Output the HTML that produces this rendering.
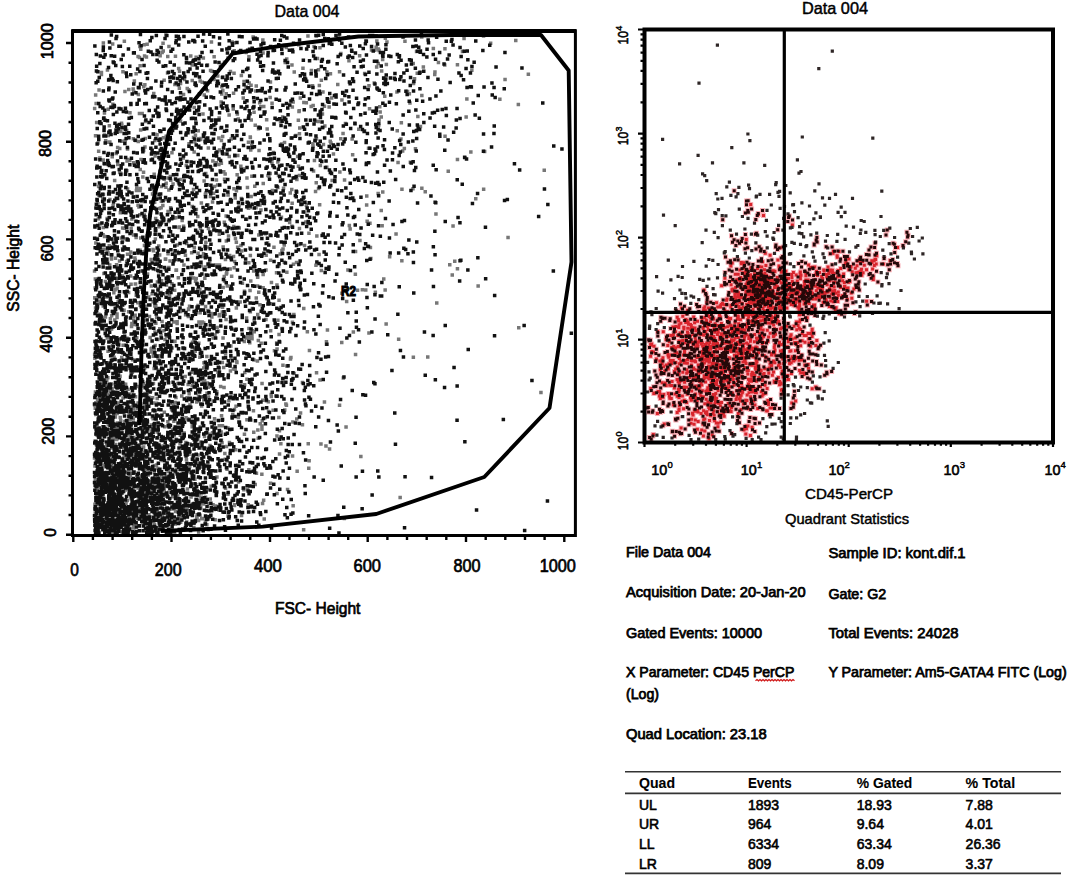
<!DOCTYPE html>
<html><head><meta charset="utf-8"><title>Flow cytometry</title>
<style>html,body{margin:0;padding:0;background:#fff;}body{width:1080px;height:878px;overflow:hidden;font-family:"Liberation Sans", sans-serif;}svg{display:block;}text{stroke:#000;stroke-width:0.45px;}text[font-weight=bold]{stroke-width:0.1px;}text.sb{stroke-width:0.75px;}text.sb2{stroke-width:0.6px;}text.tl{stroke-width:0.7px;}text.tl2{stroke-width:0.6px;}</style>
</head><body>
<svg width="1080" height="878" viewBox="0 0 1080 878" font-family='"Liberation Sans", sans-serif' fill="#000">
<rect width="1080" height="878" fill="#fff"/>
<path d="M411.6 357.2h3.5M211.7 401.1h3.5M207.9 262h3.5M97.1 457.1h3.5M93.5 479.4h3.5M110.2 482.8h3.5M124.6 423.9h3.5M276.1 162.1h3.5M173.2 253.3h3.5M214.1 505.9h3.5M298 128h3.5M97 525.5h3.5M215 391.8h3.5M296.7 166.3h3.5M217.8 149.9h3.5M148.2 481.7h3.5M132.1 409.1h3.5M132.2 494.8h3.5M126 526.2h3.5M147.7 316.4h3.5M191.5 421.7h3.5M108 506.9h3.5M194.4 57.3h3.5M268.4 173.6h3.5M194.3 458.9h3.5M119 131.4h3.5M256.5 438.3h3.5M198.7 228.6h3.5M254.5 86.1h3.5M242.3 81.6h3.5M114.5 153.4h3.5M95.7 408h3.5M166.1 421.8h3.5M173.9 217.7h3.5M134.7 190.5h3.5M249.5 119.9h3.5M117.5 449.9h3.5M127.1 448.8h3.5M481.9 189.2h3.5M125.1 170.8h3.5M222.8 280.9h3.5M96.2 203.7h3.5M163.4 486.1h3.5M163.8 269.3h3.5M183.1 511.5h3.5M234.6 242.3h3.5M369.8 50.1h3.5M196.5 130.8h3.5M268.5 303.7h3.5M145.8 470.3h3.5M108.5 532.4h3.5M164.5 463.9h3.5M320.4 127.6h3.5M124.8 523.7h3.5M164.2 486.5h3.5M245.2 379.3h3.5M141.7 502.5h3.5M245.2 178.1h3.5M268.4 97.5h3.5M183.1 501.7h3.5M174.2 397.4h3.5M108.9 397.7h3.5M151.3 249.5h3.5M157.5 495.8h3.5M232.2 188.8h3.5M353.8 354.6h3.5M325 167.2h3.5M117.5 298.6h3.5M173.2 341.6h3.5M121.6 518.1h3.5M135.4 463.1h3.5M130.4 269.4h3.5M192.5 107.4h3.5M110.2 448.1h3.5M297.7 228.6h3.5M277.3 334.4h3.5M329.2 142.9h3.5M376.4 193.4h3.5M297.1 244.6h3.5M138.1 214.7h3.5M157.6 496.1h3.5M279.1 443.7h3.5M204.8 295.8h3.5M205.2 364.1h3.5M272.2 247.2h3.5M107.6 433.3h3.5M104.8 408.4h3.5M189.9 252.7h3.5M201.5 382.2h3.5M292.5 71.9h3.5M113.7 258.2h3.5M189.3 496.9h3.5M506.3 237.5h3.5M268.8 483.3h3.5M133.1 440.8h3.5M108.1 142.1h3.5M250.8 463h3.5M182.2 265.1h3.5M232.7 505.4h3.5M190.2 62.8h3.5M199.6 202.9h3.5M213.1 124.7h3.5M168.8 403.4h3.5M157.1 226.7h3.5M174.8 469.4h3.5M159.6 201.3h3.5M287.9 222.4h3.5M190 506.4h3.5M201.6 58h3.5M107.6 530.4h3.5M178.9 520h3.5M93.9 95h3.5M97.9 475.4h3.5M204.1 242.2h3.5M158.4 55.7h3.5M288.5 193.1h3.5M216.2 372.3h3.5M150.9 483.9h3.5M121.8 383.8h3.5M155.1 198h3.5M93.5 513.1h3.5M114.4 513.3h3.5M295.9 156.6h3.5M202.2 362.8h3.5M99.3 394.2h3.5M120 357.4h3.5M108.7 522.1h3.5M229.4 138.9h3.5M290.2 226.2h3.5M128 416h3.5M138.2 190.5h3.5M213.4 519.7h3.5M223.1 453.4h3.5M225.6 226.6h3.5M191.4 459.8h3.5M253.5 125.3h3.5M231 414.7h3.5M122.5 530.9h3.5M229.1 346h3.5M188.6 472.5h3.5M482.9 151.5h3.5M109.7 259.1h3.5M247.4 83h3.5M395.5 130.8h3.5M124.9 472.7h3.5M143.2 432.1h3.5M205.1 356.5h3.5M133.5 260.1h3.5M219.8 415.7h3.5M104.3 397.5h3.5M126.5 260.4h3.5M212.1 434.2h3.5M175.4 244.9h3.5M135.4 507.8h3.5M169.9 409.7h3.5M242.7 291.3h3.5M368.2 223.2h3.5M166 291.6h3.5M94.4 103.5h3.5M133.8 284.1h3.5M139.8 333.2h3.5M270.3 159.3h3.5M115.1 404.7h3.5M227.1 400.8h3.5M160.4 490.6h3.5M184.9 243.5h3.5M234.7 190.7h3.5M114.5 497.4h3.5M217.8 264.9h3.5M232.7 409.5h3.5M132.6 81.1h3.5M108.9 282.7h3.5M93.8 135.7h3.5M115.4 413.5h3.5M398.4 497.5h3.5M94.5 444.4h3.5M141.3 520.7h3.5M97.3 301.2h3.5M128.5 435.7h3.5M130.7 449.7h3.5M329.9 98.1h3.5M102.3 521.9h3.5M206.7 228.5h3.5M133.8 396.7h3.5M179.3 515.2h3.5M166.3 178.1h3.5M208.4 82.2h3.5M258.5 423.7h3.5M192.2 340.4h3.5M111.9 511h3.5M100.1 494.3h3.5M223.7 259.5h3.5M125.8 189.1h3.5M137.8 444.9h3.5M399.2 138.9h3.5M162 500.8h3.5M119.8 123.3h3.5M217.6 314.4h3.5M344.9 301.4h3.5M161.5 306.4h3.5M105.6 218.5h3.5M309.4 106.6h3.5M118.5 417.4h3.5M170.2 152.8h3.5M103.1 329.6h3.5M232.4 267.8h3.5M203.8 306.5h3.5M122.2 487.9h3.5M264.4 255.3h3.5M165.9 518.5h3.5M190.5 206.6h3.5M125.3 338.3h3.5M357.9 55.8h3.5M232.4 42.8h3.5M242.1 169h3.5M172.1 421.2h3.5M117.4 385.7h3.5M329 172.1h3.5M131.6 526.6h3.5M182.4 432.9h3.5M219.7 440.2h3.5M247.2 56.7h3.5M307 468.2h3.5M101 199h3.5M141.6 436.6h3.5M194.1 484.7h3.5M201.2 114h3.5M138.5 305.3h3.5M194.9 402h3.5M302.8 245.6h3.5M195.3 232.1h3.5M122.7 438.6h3.5M181.8 226.2h3.5M92.8 457.9h3.5M201.4 518.6h3.5M169 180.3h3.5M247.2 328.4h3.5M158.7 469.2h3.5M119.9 503.4h3.5M212.4 79.6h3.5M105.1 385.2h3.5M240.5 413.3h3.5M101.4 299.7h3.5M143 251.6h3.5M96.9 394.5h3.5M259.4 343.2h3.5M172.9 290.3h3.5M137.2 207.1h3.5M196.3 253.2h3.5M185.7 489.1h3.5M102 484.5h3.5M242.1 489.8h3.5M313 141.3h3.5M129.4 498.8h3.5M97.2 347.8h3.5M187.3 454.3h3.5M157.1 271.7h3.5M102.1 410.6h3.5M384.6 64.4h3.5M129.7 394.9h3.5M350.4 139h3.5M120.1 443.7h3.5M95.3 489h3.5M199.3 379.5h3.5M110.6 532.5h3.5M226.2 58h3.5M248 342.8h3.5M268.9 330.7h3.5M160.5 237.1h3.5M125.8 148.9h3.5M159.7 439h3.5M191.6 523.3h3.5M227.9 255.5h3.5M136.8 499.3h3.5M164.6 170.5h3.5M107.4 163.7h3.5M254.5 297.9h3.5M135 187.9h3.5M110.8 526.8h3.5M330.4 180.5h3.5M93 530.3h3.5M128.2 438.1h3.5M164.5 139.4h3.5M170.2 283.7h3.5M131.9 162.7h3.5M110.3 279h3.5M305.6 331.8h3.5M128.3 419.7h3.5M125.9 533.8h3.5M164 454.5h3.5M250.2 335.2h3.5M94.1 402.8h3.5M206 204.8h3.5M254.2 207.8h3.5M152.8 379.2h3.5M235.2 362.4h3.5M162.5 489.8h3.5M131.4 479h3.5M208.7 196.4h3.5M201.1 256.4h3.5M107.3 499.7h3.5M120.8 248.7h3.5M106.9 501.3h3.5M110.4 410.8h3.5M181.8 94.4h3.5M290.6 107h3.5M180.8 509.2h3.5M127.9 415.3h3.5M122.3 310.3h3.5M173.9 119.8h3.5M188 466.4h3.5M191.8 436.1h3.5M141.5 498.6h3.5M285.1 272.3h3.5M98.4 314.9h3.5M102.2 273.6h3.5M113.3 289.8h3.5M276.1 187.4h3.5M224.6 240.9h3.5M145.4 44.2h3.5M151.4 301.8h3.5M249.3 85.2h3.5M453 261.3h3.5M257.9 102.7h3.5M101.3 234.8h3.5M170.9 417.4h3.5M280.2 250.6h3.5M166.3 211.4h3.5M112.7 364.7h3.5M116 164.6h3.5M243.1 372.6h3.5M200.1 303.9h3.5M291.7 264.3h3.5M242.7 434.2h3.5M284.6 47.5h3.5M247.1 469.8h3.5M183.5 507.8h3.5M102.3 428h3.5M260.8 503.6h3.5M191.1 288.6h3.5M274.8 272.7h3.5M181.3 472.9h3.5M108.7 524.2h3.5M119.7 238h3.5M93.8 307.9h3.5M99.6 497h3.5M376.9 125.4h3.5M97 421.2h3.5M183.9 314.8h3.5M170.6 509.1h3.5M145.1 241.4h3.5M385.2 41.9h3.5M138.9 238.1h3.5M94.3 428.8h3.5M280.2 328.5h3.5M212.4 449.2h3.5M105.6 370.8h3.5M177.8 71.3h3.5M242.9 384.8h3.5M195.4 306.7h3.5M248.6 255.6h3.5M126.9 292.4h3.5M256.8 128.8h3.5M314.8 372.7h3.5M198.9 139.5h3.5M148 458.5h3.5M455.7 64.8h3.5M234.9 361.5h3.5M129.8 326.5h3.5M167.2 46.4h3.5M302.4 80h3.5M110.8 345.6h3.5M111.2 500.5h3.5M154.2 261.5h3.5M169 307.3h3.5M121.5 365.2h3.5M257 292.2h3.5M136.3 56.6h3.5M127.3 413.2h3.5M394.3 234h3.5M178.4 179.6h3.5M106.8 414.3h3.5M93.9 407h3.5M208.3 445.4h3.5M380.9 59.5h3.5M94.1 242.9h3.5M178.4 299.5h3.5M116.6 511.2h3.5M93.4 288.1h3.5M222.7 62.2h3.5M226.3 195.1h3.5M199.9 282.3h3.5M140.6 477.1h3.5M176.9 68.6h3.5M115.7 423h3.5M261.9 500.2h3.5M160.7 515.7h3.5M219.4 102.1h3.5M268.4 466.9h3.5M101.9 519.5h3.5M256 314.6h3.5M251.4 37h3.5M178 429h3.5M144.6 414.2h3.5M114.1 494.6h3.5M100.9 487.3h3.5M164.7 476.4h3.5M154.1 305.6h3.5M133.2 486.5h3.5M103.6 472.7h3.5M244.1 337.4h3.5M109.9 315.8h3.5M222.9 62.4h3.5M117.8 339.6h3.5M377.3 120.1h3.5M230.9 416.1h3.5M235.9 247.2h3.5M124.9 130.6h3.5M106.1 479.1h3.5M209.2 313.5h3.5M262 106.4h3.5M239.7 500.6h3.5M198.7 389.8h3.5M177.6 88.3h3.5M143.3 306.4h3.5M166.5 468.2h3.5M205.1 524.8h3.5M255.8 286h3.5M104.8 530.8h3.5M296.6 120.2h3.5M261.1 39.9h3.5M112.9 448.9h3.5M317.6 85.4h3.5M181.2 359.1h3.5M136.3 487.9h3.5M239.4 236.9h3.5M150.1 348.3h3.5M98.5 294.8h3.5M149.9 383.4h3.5M217.5 315.8h3.5M232.3 73.3h3.5M241.5 98.1h3.5M128.6 476.2h3.5M111 435.2h3.5M355.8 290.2h3.5M203.4 524.1h3.5M411.2 188.8h3.5M193.7 135.2h3.5M194.6 312.7h3.5M136.5 141.4h3.5M251.7 410.8h3.5M193.4 332h3.5M115 439.4h3.5M297.2 111.4h3.5M212.6 509.4h3.5M129.3 284.3h3.5M372.5 82.9h3.5M159.3 139.1h3.5M191.9 353.3h3.5M139.8 201.6h3.5M105 445.5h3.5M321.7 144.4h3.5M158.6 469.2h3.5M539.2 392.4h3.5M261 400.3h3.5M126.3 389.2h3.5M123.6 520.5h3.5M289.2 357.5h3.5M342.6 518.6h3.5M144.3 261h3.5M184.1 442.6h3.5M132.3 368.9h3.5M311.4 105.5h3.5M113 320h3.5M256.6 340.6h3.5M137.9 460.8h3.5M95.4 238.6h3.5M224.5 93.7h3.5M212.3 422.4h3.5M189.5 372.3h3.5M302.1 102.6h3.5M269.6 396.6h3.5M314 121.2h3.5M120.2 365.2h3.5M159.4 292.6h3.5M289.3 138h3.5M379.5 116.9h3.5M319.2 443.9h3.5M337.8 71.8h3.5M201.9 295.1h3.5M260.2 429.2h3.5M260.5 420.7h3.5M158.5 523.6h3.5M121.4 484.5h3.5M204.9 364.4h3.5M101.8 348h3.5M135.9 408.4h3.5M106.1 377.7h3.5M139.9 452.6h3.5M167.1 267.4h3.5M192.9 444.4h3.5M132.7 502.2h3.5M193.1 479.2h3.5M134.3 289.9h3.5M319.6 80.3h3.5M402.6 148.5h3.5M193.6 507.4h3.5M152.6 349.7h3.5M116.1 407.4h3.5M514 40.5h3.5M127.8 509.4h3.5M170.1 514.6h3.5M104.3 226.6h3.5M145.8 274.1h3.5M220.3 442.8h3.5M167.8 295.7h3.5M95.5 305.1h3.5M171.9 321.9h3.5M455.7 159.4h3.5M235.6 114h3.5M132 320.8h3.5M226.8 236.1h3.5M106.3 351.2h3.5M253 186.3h3.5M114.1 507.3h3.5M316.7 69.7h3.5M143.5 138.5h3.5M242.7 291.4h3.5M139.9 494.1h3.5M107.5 296.5h3.5M194.6 209.6h3.5M93.2 297.9h3.5M104.9 506.2h3.5M323.1 125.9h3.5M117.1 529.7h3.5M165.1 199.5h3.5M176.5 181.8h3.5M151.8 492.3h3.5M186.9 309.4h3.5M100.4 511.1h3.5M141.9 507.9h3.5M423.5 191.7h3.5M229.5 257.8h3.5M271.7 152.4h3.5M112.3 357.3h3.5M162.3 330.7h3.5M184.5 508.2h3.5M139 49.2h3.5M379.9 71h3.5M102.8 409.5h3.5M135.9 494.9h3.5M108.6 508.9h3.5M127.3 433.9h3.5M98.1 157.9h3.5M202.2 268.8h3.5M107.8 512.7h3.5M129.5 442.7h3.5M276.8 266.1h3.5M120.9 275.9h3.5M150.8 490.8h3.5M248.6 311.7h3.5M172.4 218.1h3.5M112.8 222.1h3.5M218.9 386.5h3.5M102.1 163.6h3.5M283 410h3.5M202.4 181h3.5M154.8 403.3h3.5M162.6 412.3h3.5M174.3 439.2h3.5M317.3 254.5h3.5M142.6 215h3.5M198 263.3h3.5M258.2 304.8h3.5M141.8 172.3h3.5M143.8 397.4h3.5M150.6 416.9h3.5M126.4 396.6h3.5M280.9 116.9h3.5M96.7 218.7h3.5M112.4 528.1h3.5M112.2 278.2h3.5M195.4 514.7h3.5M224.6 274.1h3.5M141.9 150.5h3.5M140.7 518.1h3.5M154.7 454.4h3.5M297 44.8h3.5M161.3 43.2h3.5M340.2 293.3h3.5M325.1 72h3.5M274.9 343h3.5M211.9 193.2h3.5M277.7 430.7h3.5M131.9 528h3.5M395.2 92h3.5M220.9 136.5h3.5M400.1 260.8h3.5M443.3 136.2h3.5M227.6 364.3h3.5M431.6 48.5h3.5M119.6 308.9h3.5M119.7 525.4h3.5M470.1 70.2h3.5M176.6 481h3.5M121.5 461.4h3.5M161.8 445.9h3.5M194.6 440.7h3.5M421.6 66.9h3.5M176.8 440.9h3.5M290.4 203.2h3.5M276.8 175.4h3.5M298.6 98.1h3.5M215.9 184.9h3.5M115.4 288.6h3.5M207.6 516.6h3.5M396.9 339.3h3.5M162.8 326.2h3.5M276.1 320.3h3.5M115.7 482.9h3.5M254.7 473.3h3.5M138.6 188.5h3.5M158.4 455.2h3.5M227.5 156.5h3.5M151.5 356.2h3.5M201.6 378.5h3.5M99.5 527.3h3.5M142.8 56h3.5M446.5 171.2h3.5M147 488.9h3.5M203.4 267h3.5M130.2 397.3h3.5M309.7 70.6h3.5M98.9 496.1h3.5M226.2 427.9h3.5M256 275.9h3.5M136.3 403.1h3.5M115.1 428.5h3.5M129.5 523h3.5M198.3 504.8h3.5M202.5 382.1h3.5M125.6 500.5h3.5M118 478.7h3.5M177.5 227.1h3.5M158.4 224h3.5M120.1 124.9h3.5M105.7 69.9h3.5M178.6 440.5h3.5M248.1 247.9h3.5M266.6 401.8h3.5M178.8 83.5h3.5M212.8 418.7h3.5M146.5 223.3h3.5M198.4 312.7h3.5M174.3 270.2h3.5M158 282.6h3.5M202.1 399.9h3.5M116.8 342.5h3.5M108 265.1h3.5M157 246.1h3.5M291.1 421.9h3.5M168.3 261.1h3.5M108.7 482.8h3.5M460.7 51.4h3.5M166 56.6h3.5M223.4 174.1h3.5M187.2 419.2h3.5M234.6 307.9h3.5M210.2 71.3h3.5M232.9 261.4h3.5M135.1 462.4h3.5M190.5 80.6h3.5M134.4 360h3.5M98.3 493.2h3.5M160.1 519.1h3.5M436.7 62.6h3.5M291.4 505.7h3.5M222.6 222.2h3.5M186.3 471.5h3.5M178.3 443.8h3.5M172.6 341.3h3.5M111.7 413h3.5M98.5 474.7h3.5M290.2 65.1h3.5M236 155.6h3.5M145.8 519.7h3.5M117.9 172.4h3.5M291.1 160.2h3.5M103.3 453.8h3.5M311.1 143.7h3.5M127.7 439.9h3.5M150.8 194h3.5M136.5 513.8h3.5M315.1 236.1h3.5M93.2 504.2h3.5M234.7 189.9h3.5M115.9 496.9h3.5M161.1 205.4h3.5M131.7 403h3.5M116.4 301.5h3.5M206.7 387.3h3.5M226.2 494.3h3.5M113.3 482.2h3.5M147.3 484.9h3.5M413.7 148.7h3.5M130.8 359.8h3.5M542.5 170.3h3.5M239.6 198.6h3.5M102.4 200.7h3.5M261.5 183.5h3.5M162.4 179.2h3.5M400.9 151.1h3.5M219.6 163.2h3.5M211.4 338.1h3.5M433.2 72h3.5M154.7 465h3.5M435 303.1h3.5M185.4 504.2h3.5M105.5 465.7h3.5M173.5 408.3h3.5M245.7 187.4h3.5M347.6 225.6h3.5M172.9 532.8h3.5M322.7 402h3.5M164.7 285.1h3.5M106.7 254.3h3.5M270.6 190.4h3.5M196.8 433h3.5M170.6 470.6h3.5M122.5 228.2h3.5M157.9 255h3.5M107.6 442.8h3.5M302.9 212.1h3.5M156.5 370.3h3.5M165.1 336.3h3.5M250.3 338.7h3.5M128.4 529h3.5M263.6 233.7h3.5M143.7 121.4h3.5M134.7 508.3h3.5M119.9 521.4h3.5M225.4 105.9h3.5M239.1 166.2h3.5M105.5 250.1h3.5M236.6 417.5h3.5M151.3 521.5h3.5M118.3 376.2h3.5M244.4 86.9h3.5M227.7 442.5h3.5M182.7 79.6h3.5M199.9 406h3.5M451.3 226h3.5M205.2 489h3.5M291.4 101.9h3.5M180.4 220.6h3.5M100.6 195.2h3.5M195.9 289.8h3.5M122.3 474.3h3.5M154.1 323.3h3.5M115.5 429.3h3.5M114 412.5h3.5M516.6 104.6h3.5M418.7 126.5h3.5M216.7 331.2h3.5M225.3 469.3h3.5M113.5 505.4h3.5M200.6 321.9h3.5M307.7 350.5h3.5M271.4 410.3h3.5M312.7 160.6h3.5M210.4 188.3h3.5M134.5 295.3h3.5M143.8 457.6h3.5M221.1 77h3.5M123.1 421.5h3.5M228.4 269h3.5M95.4 473.1h3.5M139.2 159.4h3.5M365 196.1h3.5M203.1 278.2h3.5M469.1 152h3.5M111.5 466.9h3.5M125 490.1h3.5M159.8 186.6h3.5M156.3 358h3.5M200 518.8h3.5M113.6 478.1h3.5M109.6 257.6h3.5M481.8 35.9h3.5M155.5 431.9h3.5M197.1 343.3h3.5M201.9 503.9h3.5M147.2 514.7h3.5M115 476.5h3.5M153.9 218.6h3.5M275.2 436.1h3.5M170.5 442.4h3.5M314.7 138.8h3.5M129.4 228.3h3.5M285.1 366.1h3.5M190.7 342.3h3.5M420 36.9h3.5M462.8 157.2h3.5M132.1 495.2h3.5M101.8 476.8h3.5M158.1 355.8h3.5M146.9 297h3.5M159.9 478.6h3.5M153.4 345.5h3.5M98.1 524.1h3.5M277.1 417.4h3.5M139.4 484.6h3.5M142 522.2h3.5M250.7 330.7h3.5M130.5 451.9h3.5M149.4 431h3.5M166.2 514.4h3.5M142.5 467.6h3.5M108.8 495.6h3.5M214.2 481.5h3.5M153.1 485.9h3.5M251.9 271.1h3.5M204 173.4h3.5M399.6 122.8h3.5M176.9 253.5h3.5M110.9 44.1h3.5M100.4 470.4h3.5M110.4 388.4h3.5M107.9 478.2h3.5M177.7 38.7h3.5M124.7 439.8h3.5M260.1 474.3h3.5M279.7 217.2h3.5M237.3 206h3.5M202.5 95.1h3.5M138.5 169.4h3.5M132 91.5h3.5M221.4 287.5h3.5M119.2 360.2h3.5M143.4 349.9h3.5M170.6 449.8h3.5M150.9 397.8h3.5M142.4 44.8h3.5M317.9 204.7h3.5M126.1 488.5h3.5M331.7 154h3.5M95.6 435.2h3.5M173.8 511.4h3.5M132.4 516.5h3.5M170 457.6h3.5M327.8 448.9h3.5M180.2 434.7h3.5M135.2 278.2h3.5M130.1 219h3.5M403.2 41.3h3.5M101.9 484.4h3.5M248.5 137h3.5M364 290h3.5M163 426.8h3.5M190.4 385.7h3.5M92.9 405.1h3.5M123.9 272.3h3.5M100.9 514.3h3.5M151.6 352.8h3.5M190.4 426.7h3.5M150.4 293.7h3.5M297.7 133.7h3.5M324.2 445.9h3.5M159.3 349.2h3.5M107.6 125.8h3.5M214.5 494.9h3.5M203.7 522h3.5M99.7 493.1h3.5M119.8 518.7h3.5M281.2 365.2h3.5M134.7 404.9h3.5M163.8 347.2h3.5M195.3 517.5h3.5M476.4 286h3.5M275.3 349.1h3.5M127.3 339.2h3.5M167 513.4h3.5M216.3 267.2h3.5M314.2 265.3h3.5M378 106.7h3.5M147.1 264.2h3.5M92.8 271h3.5M153.2 332.1h3.5M270.3 103.3h3.5M181.4 405.6h3.5M252.5 320.4h3.5M98.1 224h3.5M277.8 454h3.5M157.9 175.5h3.5M189.1 277.7h3.5M138.9 130.1h3.5M119.6 389.1h3.5M312.3 46.4h3.5M162.6 452.5h3.5M99.1 323.7h3.5M261.4 287.8h3.5M343.7 123.4h3.5M328.7 73.8h3.5M138.8 347.9h3.5M238.4 302.1h3.5M245.9 489.4h3.5M224.4 215.9h3.5M143.3 408.2h3.5M249 150.1h3.5M222 171.7h3.5M110 483.4h3.5M128 160.4h3.5M102.7 135.1h3.5M196.8 520.6h3.5M196.3 305.5h3.5M106.5 424.7h3.5M211.1 509.3h3.5M264.2 319.4h3.5M231.8 228.3h3.5M121.3 398h3.5M144.5 494h3.5M209.1 167.5h3.5M210.8 201.9h3.5M253.5 484.4h3.5M163.1 482.5h3.5M221.4 246.9h3.5M205.6 448.3h3.5M231.8 256.6h3.5M122.3 412.6h3.5M148.9 391h3.5M112.9 180.5h3.5M171.3 183.9h3.5M205.8 90.8h3.5M119.8 382.8h3.5M383.6 38.2h3.5M228.7 371h3.5M152.4 368.6h3.5M107 277.9h3.5M136.6 94.5h3.5M169.5 433.6h3.5M183.7 255.3h3.5M517 327.8h3.5M384.4 324.1h3.5M244.9 338h3.5M396.3 162.4h3.5M99.4 502.1h3.5M199.1 442.1h3.5M134.5 431.2h3.5M187.4 393.7h3.5M101.5 159.9h3.5M152.6 465.8h3.5M143.6 387.1h3.5M292.4 159.9h3.5M152 93.4h3.5M173.1 84.4h3.5M526.6 74.3h3.5M196.9 531.9h3.5M119.8 488.3h3.5M193.1 141.7h3.5M130.4 507h3.5M139 476.1h3.5M112.3 497.2h3.5M164.8 464.4h3.5M319.6 270.5h3.5M149.6 425.1h3.5M215.2 477h3.5M270.2 162.9h3.5M94.9 122.6h3.5M135.3 475.3h3.5M196.7 396.2h3.5M118 148.5h3.5M92.9 354.2h3.5M275.3 493.5h3.5M142.5 403.7h3.5M420.1 95.6h3.5M268.8 260.2h3.5M266.2 175.5h3.5M297.5 110.8h3.5M176.8 516.7h3.5M132.1 437.5h3.5M208.8 70.5h3.5M124.8 429.7h3.5M282.6 262.2h3.5M126.6 248.8h3.5M109.2 482.9h3.5M178.5 509.4h3.5M142.1 507.1h3.5M101.5 511.2h3.5M194.5 278.6h3.5M182.3 348.6h3.5M184.5 165.5h3.5M206.1 246.9h3.5M128.9 251.9h3.5M100 511.6h3.5M118.3 518.7h3.5M103.9 447.8h3.5M415.5 73.2h3.5M143.4 450.7h3.5M306.5 443.7h3.5M358.2 240.5h3.5M134.2 449.4h3.5M126 520.2h3.5M149.4 259.6h3.5M195.9 293h3.5M96 391.3h3.5M107.8 529.4h3.5M100.5 487h3.5M111.8 436.2h3.5M357 129.2h3.5M234 449.8h3.5M104.6 386.5h3.5M232.8 504.8h3.5M212.4 56.8h3.5M321.2 92h3.5M143 404.4h3.5M256.1 429.9h3.5M118.4 482.8h3.5M240.7 283.3h3.5M161.7 137.7h3.5M190.4 64.9h3.5M141.1 176.9h3.5M108.2 430.8h3.5M290.7 322.3h3.5M118.6 212.8h3.5M443.2 48.8h3.5M198.1 289.6h3.5M278.8 121.8h3.5M222.3 387.5h3.5M140.7 519.7h3.5M120.5 283.5h3.5M159.7 474.6h3.5M310.8 85.7h3.5M168.7 453.3h3.5M268.7 81.9h3.5M204.2 499.3h3.5M123.3 531.7h3.5M198.7 350.4h3.5M96.7 469.1h3.5M172.1 433.9h3.5M338.1 172.1h3.5M166.3 253.7h3.5M188.1 436.1h3.5M103.8 508.8h3.5M141.9 321h3.5M347.2 60.7h3.5M160.3 460.6h3.5M304.2 222h3.5M211.1 161h3.5M94.5 414.3h3.5M103.7 317h3.5M125.5 411.6h3.5M346.2 270h3.5M97.9 514.4h3.5M162.8 513.5h3.5M228.7 71.5h3.5M191.5 507.4h3.5M156 257.4h3.5M96.3 142.9h3.5M111.7 435.5h3.5M135 337.8h3.5M351.6 332h3.5M129.4 445.3h3.5M254.1 91h3.5M102.4 384h3.5M116.3 403h3.5M119.5 326.5h3.5M107.4 485.3h3.5M110.1 272.7h3.5M97.3 195.3h3.5M114.4 395.3h3.5M117.1 296.8h3.5M152.4 174.3h3.5M152.5 472.4h3.5M188.2 443.9h3.5M255.7 360.9h3.5M97.1 314.3h3.5M106 394.1h3.5M295.4 471.2h3.5M109.9 525.8h3.5M201.8 253.8h3.5M186.4 384.6h3.5M151.7 403.1h3.5M177.2 227.4h3.5M230.4 42.1h3.5M192.1 131.1h3.5M174.3 472.6h3.5M116.8 510.4h3.5M116.8 481.2h3.5M107.2 467.7h3.5M144.7 57.1h3.5M120.6 488.2h3.5M134.4 452.1h3.5M220.7 425.8h3.5M136 518.3h3.5M114.5 523.3h3.5M184.7 459.8h3.5M120.9 520.6h3.5M187.8 306.3h3.5M260.4 91.2h3.5M128.2 112.7h3.5M154.3 498.1h3.5M153.1 306.1h3.5M121.5 238.6h3.5M328.5 141.2h3.5M203.6 194.2h3.5M159.8 280.8h3.5M292.1 314.5h3.5M125.9 430.6h3.5M221.9 367.5h3.5M189.2 360.3h3.5M294.8 262.6h3.5M147.6 385.6h3.5M203.8 497.2h3.5M217.1 137.9h3.5M108.6 318.7h3.5M110.8 495h3.5M98.5 373.7h3.5M127.9 254.3h3.5M224.3 319.4h3.5M377.3 50.6h3.5M272.7 350.8h3.5M248.6 137.5h3.5M203.4 174.9h3.5M173.3 402.5h3.5M126 530.5h3.5M246.5 504.8h3.5M103.2 287.5h3.5M155.7 281.9h3.5M341.6 378h3.5M156.2 468.4h3.5M151 410.8h3.5M166.9 484.9h3.5M111.6 488.2h3.5M108.9 390.8h3.5M416.1 116.4h3.5M376.5 63.6h3.5M163.6 259.3h3.5M183.4 376.5h3.5M203.4 366.1h3.5M99 460.4h3.5M176.1 498.8h3.5M375.1 41.1h3.5M146.1 521.7h3.5M153.9 482.3h3.5M192.9 348h3.5M185.4 454.5h3.5M100.6 466.5h3.5M229.9 276.3h3.5M146.8 475h3.5M198.3 515.3h3.5M121.2 280.9h3.5M184.3 417.8h3.5M98.3 511.7h3.5M408.6 162.3h3.5M126.9 311.8h3.5M301.9 529.7h3.5M109.5 340h3.5M109.5 523.7h3.5M163.9 258.9h3.5M222.5 276.6h3.5M125.8 403.1h3.5M336 84.4h3.5M220 94h3.5M168 212.6h3.5M217.2 510h3.5M114 444.6h3.5M179.9 230.3h3.5M236.1 465.2h3.5M164.7 278h3.5M93.5 408.2h3.5M140.6 311.9h3.5M134.1 235.6h3.5M166.2 525.7h3.5M120.2 141.2h3.5M105 490.4h3.5M109.7 304.5h3.5M172.3 414.4h3.5M144.2 405.3h3.5M210.1 316.9h3.5M206.1 310.4h3.5M107.1 455.7h3.5M365.4 221.2h3.5M142 86.7h3.5M221.8 153.9h3.5M143.5 430.8h3.5M281.8 188.2h3.5M189.9 484.9h3.5M170.7 469.9h3.5M151.4 188.6h3.5M269.7 282.6h3.5M195.9 401.1h3.5M142.6 520.2h3.5M318.2 47.7h3.5M277.3 300.3h3.5M252.5 331.8h3.5M258.2 205h3.5M120 431h3.5M124.6 360.9h3.5M180 396h3.5M259 106.7h3.5M143.7 216.7h3.5M183.2 447.3h3.5M160.6 456h3.5M233.4 369.3h3.5M266.8 411.6h3.5M212.8 186.5h3.5M134.4 73.7h3.5M295 419.1h3.5M111.6 303.8h3.5M313.8 191.4h3.5M151.7 250.8h3.5M166.7 434.8h3.5M304.6 102.7h3.5M173.5 408.7h3.5M103.9 140.7h3.5M161.5 51.1h3.5M124.3 503.3h3.5M116.6 498.1h3.5M170.3 347.9h3.5M192.6 247.4h3.5M340 342.4h3.5M261.3 52.9h3.5M300.7 424.7h3.5M126.8 531.1h3.5M160.3 321.4h3.5M225.5 460.8h3.5M157.8 208.4h3.5M195 516.9h3.5M130.6 372.4h3.5M93.7 392.1h3.5M101 317.9h3.5M257.1 235h3.5M292.3 373.6h3.5M216.4 214h3.5M265.8 242.9h3.5M127.3 455.3h3.5M337.8 405.3h3.5M125 517.8h3.5M103.9 431.6h3.5M115.3 288h3.5M140.7 336.1h3.5M264.2 270h3.5M411.5 63.5h3.5M229.4 357.9h3.5M119.1 173.4h3.5M283.5 62.6h3.5M239.9 250.9h3.5M110.7 442.7h3.5M153 478.5h3.5M124.7 524h3.5M93.4 427.6h3.5M107.9 266.5h3.5M176 476h3.5M290.8 456h3.5M130.1 323.6h3.5M151.7 383.6h3.5M124.4 364.3h3.5M110.3 311.5h3.5M268.7 159.6h3.5M201.8 158.8h3.5M220.8 307.3h3.5M241.5 488.2h3.5M178.9 433.4h3.5M236.6 119.1h3.5M101.4 326.1h3.5M104.2 419.8h3.5M362.8 130.8h3.5M160.4 52.6h3.5M145.3 486.4h3.5M232.5 50.7h3.5M250 145.4h3.5M135.7 503h3.5M213.7 451.9h3.5M149.5 351.9h3.5M109.5 465.8h3.5M149.4 349h3.5M295.1 179.6h3.5M139.2 481.1h3.5M171 496.8h3.5M163.7 495.9h3.5M163.2 339.5h3.5M214.6 162.7h3.5M282.8 150.2h3.5M183.5 468.6h3.5M186.8 309h3.5M212.1 313.9h3.5M94.2 456.6h3.5M164 35h3.5M259.2 210h3.5M198.5 427.1h3.5M137.7 57.5h3.5M120.3 506.5h3.5M144.2 471.1h3.5M122.6 41.3h3.5M156.2 371.7h3.5M159.3 335.6h3.5M133.6 284.1h3.5M105 380.4h3.5M116.5 496.4h3.5M112.7 524.3h3.5M96.9 151.2h3.5M434.2 214.1h3.5M105.4 218.6h3.5M100.9 475.2h3.5M118.2 498.6h3.5M143.9 473.6h3.5M136.1 302.7h3.5M95.2 504.2h3.5M117.5 384.5h3.5M474 198.8h3.5M220 86.7h3.5M102.8 507.1h3.5M249.1 335.1h3.5M108.5 492.2h3.5M250.1 176.2h3.5M115.3 314.1h3.5M247.5 230.6h3.5M300.7 382.5h3.5M155.7 456.9h3.5M149.6 286h3.5M199.4 265.7h3.5M149.4 482.5h3.5M223.8 488.3h3.5M104.2 401.4h3.5M136.2 386.6h3.5M133.9 140.4h3.5M160.7 405.3h3.5M379.5 210.4h3.5M232.1 226.5h3.5M202 368.1h3.5M192 382.4h3.5M116.8 386.4h3.5M374.9 66.9h3.5M196.5 347.1h3.5M93.2 466.1h3.5M132.5 483.2h3.5M123.9 384.3h3.5M186.6 316.5h3.5M168.4 478.5h3.5M159.8 446.3h3.5M110.4 416.9h3.5M381 191.9h3.5M191.8 137.6h3.5M176 496h3.5M285.8 489.6h3.5M226.3 516.2h3.5M210.7 224.9h3.5M208.8 475.2h3.5M98.8 517.7h3.5M110.5 438.6h3.5M387.9 256.7h3.5M156.1 339.6h3.5M124.5 478.5h3.5M130.6 511.1h3.5M130.8 456.1h3.5M339.1 53.4h3.5M219.4 432h3.5M115.4 397.5h3.5M181.9 381.1h3.5M153.4 155.9h3.5M353.8 251.4h3.5M148.3 495.3h3.5M233.5 198h3.5M205.3 393.3h3.5M400.2 189.3h3.5M95.8 399.5h3.5M433 74.6h3.5M98.6 487.2h3.5M93.6 279.1h3.5M126.3 534h3.5M217.6 234.2h3.5M131.6 138.8h3.5M129.6 511.2h3.5M301.2 68.3h3.5M236.8 482.1h3.5M157.1 266.2h3.5M109.6 384h3.5M139.1 270.9h3.5M102.8 236.6h3.5M102.7 113h3.5M96.9 530.1h3.5M177.7 501.8h3.5M103.7 369.7h3.5M121.6 458.2h3.5M281.1 378.8h3.5M140.4 113.4h3.5M142.9 368.1h3.5M111.1 104.2h3.5M95.7 409.5h3.5M167.1 492.3h3.5M98.9 380.1h3.5M144.4 515.1h3.5M101.7 483.6h3.5M202 323h3.5M455.7 268.7h3.5M107.2 511.8h3.5M128.6 512h3.5M175.7 251.5h3.5M238.7 505.2h3.5M143.9 128.4h3.5M172.4 435.4h3.5M268 47.2h3.5M215.5 309.9h3.5M173.5 524h3.5M198.1 357.2h3.5M120.9 228h3.5M285 58.9h3.5M132 487.8h3.5M182.5 493.4h3.5M152.7 418.6h3.5M155.3 134.7h3.5M118.8 426.2h3.5M141.2 522.9h3.5M122.5 455.7h3.5M121.4 345.2h3.5M187.3 143.7h3.5M96.9 186.4h3.5M132.8 503h3.5M109.8 329h3.5M223.8 354h3.5M177.9 293.9h3.5M185 522h3.5M96.3 491.6h3.5M194 121.5h3.5M114.8 264.8h3.5M258.5 270.3h3.5M105.6 338.1h3.5M367.2 332.9h3.5M110.5 511.5h3.5M155.5 398.4h3.5M142.7 245.5h3.5M192.1 527.4h3.5M232.6 474.7h3.5M94.3 368.2h3.5M181 111.7h3.5M158.5 221.7h3.5M189 55.9h3.5M109.8 441.8h3.5M214.7 180.1h3.5M153.1 140.5h3.5M279.8 144h3.5M110.1 365.8h3.5M101.8 348.4h3.5M170.9 430.1h3.5M252.3 112.2h3.5M120.7 412.1h3.5M136.5 423.2h3.5M359.1 456.4h3.5M267.1 175.9h3.5M110.5 156.7h3.5M185.3 507.8h3.5M130.7 406.8h3.5M231.7 369h3.5M131.8 235h3.5M164.4 183.2h3.5M382 278.9h3.5M100.5 320.5h3.5M142.1 458.4h3.5M124.2 396.1h3.5M156.6 288.4h3.5M103.7 487h3.5M131.4 88.9h3.5M97.3 89.9h3.5M128.1 476.7h3.5M178.7 311.5h3.5M141.6 507.8h3.5M108.2 199.6h3.5M112.2 472.2h3.5M198.4 81h3.5M252.3 106.4h3.5M137.7 113.4h3.5M265.4 128.9h3.5M94.5 461.6h3.5M96.9 522.8h3.5M161.6 351.5h3.5M145.6 393.2h3.5M378.4 112.1h3.5M260.3 383.4h3.5M185.3 292.8h3.5M92.9 108.5h3.5M106.9 276.4h3.5M172.1 405.7h3.5M217.1 164.4h3.5M128.8 462h3.5M121.2 489h3.5M204.1 192.9h3.5M237.5 227.9h3.5M275 344.2h3.5M186.8 89.7h3.5M199.4 497.3h3.5M156.9 458.3h3.5M96 523h3.5M98 486.1h3.5M220.2 269h3.5M281.3 249.1h3.5M376.6 48.9h3.5M153.8 481.2h3.5M94.6 461.8h3.5M282.8 142.4h3.5M302 308.6h3.5M104.3 395.1h3.5M183.4 175.5h3.5M94.8 434.4h3.5M153.2 134.3h3.5M178.7 464.8h3.5M113.5 384.7h3.5M380.4 225.7h3.5M142 386h3.5M205.1 218.5h3.5M193.5 351.2h3.5M153.9 269.4h3.5M96.5 303.2h3.5M110.5 421h3.5M99.1 438.4h3.5M93.1 358.2h3.5M140.6 493.2h3.5M142.1 405.2h3.5M195.9 419.7h3.5M217.4 117.9h3.5M125.8 254.3h3.5M239.3 245.4h3.5M288.7 359h3.5M179.3 474.1h3.5M215.9 151.4h3.5M178.9 522.2h3.5M143.2 147.1h3.5M114.9 248.1h3.5M192.4 151.9h3.5M141.7 383.7h3.5M196.9 138.7h3.5M383.4 290.1h3.5M173.7 56.2h3.5M166.8 221.6h3.5M117.8 260.9h3.5M133.8 321.6h3.5M191.8 189.5h3.5M181.5 158.1h3.5M125.6 456.9h3.5M120.9 241.1h3.5M339 138.7h3.5M220.6 312h3.5M318.3 380.1h3.5M175.5 296.9h3.5M350.9 154.7h3.5M168.6 176.5h3.5M126.3 451.1h3.5M324.7 341.7h3.5M247.4 409.6h3.5M262.5 519h3.5M112.5 239h3.5M245.2 419.7h3.5M108.4 429.5h3.5M360.6 289.7h3.5M306.2 36h3.5M119 420.5h3.5M200.5 82.3h3.5M98.4 401.1h3.5M131.6 419.1h3.5M268.3 234.7h3.5M344.3 427.1h3.5M282.5 244.9h3.5M219.8 64.6h3.5M104.8 518.5h3.5M117.6 360.9h3.5M221.3 338h3.5M178.8 120.9h3.5M141 442.2h3.5M239.6 75.4h3.5M153.5 501.3h3.5M148.4 337.4h3.5M193.8 281.2h3.5M257.3 150.5h3.5M290 189.4h3.5M233 155.1h3.5M223.5 459.3h3.5M185.5 88.4h3.5M191.5 426.2h3.5M311.3 145.9h3.5M125.7 511.3h3.5M101.6 42.9h3.5M102.5 449.9h3.5M125.3 524.3h3.5M143.1 393.5h3.5M450.5 275.1h3.5M101.7 515.2h3.5M152 512.5h3.5M122.8 489.3h3.5M255.9 277.2h3.5M138.4 65.8h3.5M109.5 525.3h3.5M112.1 430.2h3.5M93.1 525.5h3.5M213.2 335h3.5M98.1 517.4h3.5M209.7 41.9h3.5M129.3 351.6h3.5M199.1 467.1h3.5M192.5 431.2h3.5M340.2 99.9h3.5M138.3 250.2h3.5M224.7 446.5h3.5M106.3 464.5h3.5M206.8 397.1h3.5M244.8 219.3h3.5M465.1 99h3.5M171.9 506.6h3.5M127.4 494.5h3.5M205.7 65h3.5M227.4 115h3.5M297.7 175.6h3.5M131.7 324.5h3.5M498.1 99.3h3.5M160.4 507.3h3.5M126 522.9h3.5M124.8 466.4h3.5M374.4 47.3h3.5M175.4 323.4h3.5M110.8 239.4h3.5M109.9 246.9h3.5M94.7 433.7h3.5M249 281.1h3.5M102.8 407.9h3.5M336.8 36.1h3.5M252.1 360h3.5M260.2 426h3.5M184.5 476.8h3.5M198.6 323.2h3.5M367.8 108.8h3.5M118.4 412.3h3.5M112.3 460.6h3.5M164.5 136.2h3.5M104.7 509.6h3.5M239.8 233.7h3.5M316.8 188.4h3.5M122.1 478.3h3.5M123.2 91.5h3.5M185.3 418.7h3.5M158.3 527.1h3.5M120.1 447.3h3.5M314.5 182.7h3.5M114 435.8h3.5M96 400.2h3.5M113.6 417.1h3.5M246.7 142.3h3.5M367.2 85.7h3.5M315.7 58.5h3.5M106.4 142.2h3.5M174.7 270h3.5M189.4 505h3.5M153 411.4h3.5M443 65.1h3.5M123.9 527.7h3.5M225.5 286h3.5M155.3 509.5h3.5M176.6 277.7h3.5M258.9 352.4h3.5M272.5 71.7h3.5M244.8 318.1h3.5M362.9 73.5h3.5M133.4 456.7h3.5M145.2 235.9h3.5M141.6 447.4h3.5M448 264.8h3.5M246.3 402.8h3.5M106.2 252.2h3.5M342.8 180h3.5M250.6 308.5h3.5M165.5 468.4h3.5M269.4 394.6h3.5M120.4 276.6h3.5M119.5 531.8h3.5M104.6 297.1h3.5M139 486h3.5M373 50.3h3.5M202.8 436.5h3.5M119 522h3.5M151.4 418.7h3.5M101.5 306.1h3.5M127 89.6h3.5M109.9 507.6h3.5M96.3 351.9h3.5M101.3 465.1h3.5M175.4 321.8h3.5M101.5 475.9h3.5M122.1 491.5h3.5M189.2 494.4h3.5M383 96.3h3.5M99.7 480.6h3.5M98.3 388.5h3.5M206.6 148.1h3.5M132.6 277.8h3.5M221.1 90.5h3.5M158 328.7h3.5M111.5 439.1h3.5M304.6 205h3.5M196.8 390.4h3.5M100.9 496.4h3.5M159.4 207.7h3.5M99.7 74.4h3.5M175.3 453.4h3.5M462.3 38.6h3.5M307.2 233.3h3.5M107.5 245.8h3.5M158.2 477.8h3.5M161.1 221.8h3.5M121.2 71.8h3.5M101.5 227.4h3.5M205.1 384.2h3.5M115.9 147.4h3.5M150.8 97.3h3.5M191.8 278h3.5M128.9 401.2h3.5M144.4 490.9h3.5M284.7 405.2h3.5M196.5 520.5h3.5M158.2 472.4h3.5M116.9 372.9h3.5M247.1 262.8h3.5M259.2 90.6h3.5M366.8 148.2h3.5M127.2 394.1h3.5M135.9 507.4h3.5M246.9 337.4h3.5M226.5 299.6h3.5M373.6 292.2h3.5M209.4 486.3h3.5M111.5 428.6h3.5M248.6 207.4h3.5M155.6 508.8h3.5M159.5 497.8h3.5M244.6 52.5h3.5M125.3 161.1h3.5M174.6 388h3.5M196.2 438.1h3.5M118.6 464.4h3.5M316.6 121.5h3.5M307.4 460.7h3.5M152.9 202.3h3.5M239.8 515.4h3.5M503.3 79.4h3.5M426 357h3.5M231.5 108.9h3.5M217.5 425.8h3.5M106.8 337.2h3.5M320.7 113.9h3.5M324.7 344.3h3.5M420.1 188.3h3.5M119.5 484.4h3.5M235.4 174.7h3.5M407.6 93.7h3.5M311.8 171.1h3.5M128.9 276h3.5M128.6 478.4h3.5M136.3 205.2h3.5M94.1 502.4h3.5M157.9 489.6h3.5M118.3 524h3.5M197.1 495.7h3.5M368.7 247.6h3.5M153.6 238.9h3.5M202.9 380.8h3.5M233.7 238.4h3.5M261.4 274.6h3.5M167.3 277.4h3.5M138 509.8h3.5M112.3 530.9h3.5M179.8 518.2h3.5M154.2 366.8h3.5M126.8 407.4h3.5M263.2 417.8h3.5M223.4 314.2h3.5M213 229.2h3.5M284.1 404h3.5M111.4 205.7h3.5M154.9 317.2h3.5M138.1 46.4h3.5M103 476.7h3.5M265.1 298.7h3.5M252 432.2h3.5M207.3 503.7h3.5M405.8 91.6h3.5M170.3 450.4h3.5M126 159.4h3.5M130.8 484.9h3.5M161.1 503.8h3.5M112.1 292.8h3.5M183.8 409.7h3.5M341.3 133.6h3.5M264.9 119.7h3.5M278.5 254h3.5M106.5 135.5h3.5M268 362.7h3.5M248.3 290.5h3.5M353.6 274.2h3.5M348.4 229.1h3.5M164.9 469.8h3.5M155.2 437.9h3.5M298.8 413h3.5M93 297.7h3.5M195.5 348.5h3.5M414.8 51.4h3.5M113.4 502.5h3.5M411.8 83.5h3.5M200.9 448h3.5M364.9 205h3.5M294.2 135.5h3.5M145.4 484.6h3.5M136.9 423.8h3.5M144.5 519.5h3.5M249.4 196.4h3.5M242.6 341.6h3.5M196 216.5h3.5M176.2 383.4h3.5M202.7 499.4h3.5M205.6 367.7h3.5M156.5 484.7h3.5M125.1 194.3h3.5M196.7 500.4h3.5M164.2 187.3h3.5M115.3 317.4h3.5M112.8 462.1h3.5M246.7 208.3h3.5M325.7 330.1h3.5M133.4 315.3h3.5M152.8 524.6h3.5M100 388.7h3.5M115.8 447.9h3.5M318.6 165.6h3.5M231.8 93.3h3.5M170.5 452.7h3.5M214.3 264.9h3.5M108.2 501.7h3.5M166.5 471.6h3.5M144.2 429.4h3.5M147.2 397.3h3.5M197.2 322.1h3.5M101.7 194.4h3.5M216 75.9h3.5M123.4 140.4h3.5M200.9 454.8h3.5M327.4 107.1h3.5M208.2 434.3h3.5M131.9 197.1h3.5M167.9 503h3.5M94 414.4h3.5M264.8 400.8h3.5M208.5 498.9h3.5M211.3 504.8h3.5M215.4 327.6h3.5M134.4 237.6h3.5M408.2 103h3.5M101.8 249.3h3.5M97.2 420h3.5M199 507.7h3.5M185.3 397.8h3.5M124.9 261.5h3.5M141.9 446.9h3.5M145 502h3.5M168.9 207.7h3.5M167.1 189.9h3.5M412.8 78.7h3.5M194.9 283.1h3.5M162.4 80.2h3.5M121.4 485h3.5M106.5 109.2h3.5M99.7 72.6h3.5M128.1 472.9h3.5M196.3 455.1h3.5M205.7 383h3.5M225 272.8h3.5M219.7 140.6h3.5M210.8 432.8h3.5M222.8 179.3h3.5M464.4 116.9h3.5M133.1 258.1h3.5M194.6 495.5h3.5M275.2 284.9h3.5M132.1 317.1h3.5M220.6 362.5h3.5M97.6 446h3.5M234.3 406.2h3.5M178.6 435.2h3.5M103.7 281.6h3.5M99.7 487h3.5M218.9 128.2h3.5M177.8 482.2h3.5M488.9 43.3h3.5M165.8 72.9h3.5M188.2 405.1h3.5M143.1 84.7h3.5M322.7 106.2h3.5M198.8 138.5h3.5M369.1 258.6h3.5M199.2 309.9h3.5M151.9 517.2h3.5M127.9 520.7h3.5" stroke="#777" stroke-width="3.5" fill="none"/>
<path d="M483.9 278.8h3.5M125.4 507.4h3.5M238.7 502.5h3.5M217.7 374.9h3.5M194.4 85.6h3.5M179.1 205.8h3.5M193 41.8h3.5M178.6 506.4h3.5M97.4 428.1h3.5M193.5 130.3h3.5M225.1 394.9h3.5M252.6 470.9h3.5M173.3 522.4h3.5M134.7 341.4h3.5M177.9 317.5h3.5M150.4 440h3.5M161.4 376.8h3.5M113.7 469.6h3.5M114.1 386.8h3.5M405.3 70.3h3.5M183.8 446.1h3.5M195.1 73.7h3.5M301.5 212.1h3.5M127.1 365.6h3.5M130.3 497.2h3.5M109.3 501.8h3.5M251.5 260.4h3.5M290.7 99.3h3.5M328.6 172.5h3.5M115.5 467.3h3.5M151.2 500.7h3.5M93 442.9h3.5M146.2 463.2h3.5M252.9 507.6h3.5M170.9 304.5h3.5M361.1 177.6h3.5M313.5 58.4h3.5M164.6 481.5h3.5M170.5 303.1h3.5M297.3 305.6h3.5M443.5 325.5h3.5M328 93.6h3.5M100 442.2h3.5M211.4 213.3h3.5M99 176.4h3.5M123.4 302.5h3.5M116.3 425.4h3.5M122.8 247.6h3.5M118.7 268.2h3.5M144.9 400.4h3.5M175.9 78.4h3.5M93.6 348.2h3.5M213.3 452h3.5M135.5 485.9h3.5M190.6 416.8h3.5M199.6 169.8h3.5M123.9 218.8h3.5M152.6 190.9h3.5M378.6 236.3h3.5M101.1 529.7h3.5M180 252.3h3.5M118 433.5h3.5M105.1 284.2h3.5M267.5 290.8h3.5M222.6 512.3h3.5M387.7 102.3h3.5M348.7 270.5h3.5M124.5 345.3h3.5M117.2 278.2h3.5M334.6 104.3h3.5M135.3 370.8h3.5M306.4 222.8h3.5M275.7 287.5h3.5M112.3 520.2h3.5M321.6 151.2h3.5M160.4 100.1h3.5M171.8 447.2h3.5M394.6 103.8h3.5M177.3 440.4h3.5M101 371.4h3.5M183.3 99h3.5M146.9 484.9h3.5M276 389.7h3.5M98.1 292.4h3.5M221 233.2h3.5M210.2 274h3.5M383.6 81.1h3.5M178.5 80.7h3.5M225.7 86.7h3.5M274.8 212h3.5M149 500.8h3.5M148.7 439.8h3.5M107.4 498.8h3.5M145.1 402.7h3.5M278.7 218.8h3.5M293.5 84.1h3.5M129.2 409.4h3.5M93.9 452.5h3.5M189.8 318.5h3.5M363.3 113.3h3.5M111.8 403.9h3.5M227.5 73.8h3.5M98.8 354.7h3.5M218.5 293h3.5M170 114.6h3.5M95.8 411.5h3.5M105.3 507.8h3.5M95.4 280.8h3.5M266.2 55.1h3.5M165.8 516.9h3.5M366.7 97.7h3.5M93.6 509.3h3.5M102 498.5h3.5M107.4 191.5h3.5M105.7 247.9h3.5M134.5 447.2h3.5M393.9 179.6h3.5M267 245.1h3.5M522.9 530.5h3.5M131.5 496.8h3.5M194.8 325.5h3.5M138.8 83.9h3.5M136.1 221.7h3.5M185.2 161.6h3.5M254 203.5h3.5M122.5 281.7h3.5M201.5 329.5h3.5M185.3 463.6h3.5M108 410.3h3.5M170.2 507.1h3.5M241.9 336.4h3.5M551.6 270.9h3.5M344.5 284h3.5M469.6 87.1h3.5M221.4 446.9h3.5M93.8 352.3h3.5M248.9 333.1h3.5M240.2 470.3h3.5M242.9 292.5h3.5M166.7 522.1h3.5M159.5 295.6h3.5M220.8 419.6h3.5M204.7 487.5h3.5M285.1 322.1h3.5M335.3 216.3h3.5M152.9 479.1h3.5M117 476.1h3.5M181.7 491.4h3.5M321.5 34.6h3.5M181.3 300.4h3.5M228.9 289.1h3.5M246.3 271.1h3.5M150.8 504.9h3.5M210.7 179.5h3.5M287.6 50.2h3.5M175.1 507.5h3.5M180.7 78h3.5M111.3 523.6h3.5M151.7 335.1h3.5M153.5 264.2h3.5M110.7 421.2h3.5M296.7 249.8h3.5M197.8 94.1h3.5M217.7 372h3.5M97.1 468.9h3.5M93.5 395.5h3.5M167.5 438.7h3.5M111.6 515.7h3.5M164.7 494h3.5M147.1 468.5h3.5M268.8 364h3.5M100.6 493.9h3.5M93.4 520.2h3.5M210 125.8h3.5M157.3 140.3h3.5M273.3 118.3h3.5M142.3 65.5h3.5M417 47.2h3.5M334.3 97.1h3.5M289.3 316.5h3.5M144.5 478.3h3.5M149.4 527.1h3.5M111.7 515.4h3.5M278 489.3h3.5M282.4 135.3h3.5M208.2 458.3h3.5M259.4 200.6h3.5M107 530.9h3.5M206.3 264h3.5M190.9 422.6h3.5M99.2 280.8h3.5M111.3 514.7h3.5M251.9 440.2h3.5M240.9 412.6h3.5M327.9 528.3h3.5M154.7 504.5h3.5M222.7 268.4h3.5M102.4 478.5h3.5M134.5 423.6h3.5M99.9 294.2h3.5M270.7 72.1h3.5M271.8 304.2h3.5M107.6 327.7h3.5M303.6 387.2h3.5M203.8 411.2h3.5M152.2 518.2h3.5M325.5 98.7h3.5M301.7 452.7h3.5M246 194.4h3.5M449.6 41.2h3.5M252.7 176.1h3.5M114.6 242.1h3.5M150.8 143.1h3.5M151.3 432.2h3.5M124.8 404h3.5M222.8 131.2h3.5M124.1 446.6h3.5M173.4 127.1h3.5M129.9 429.3h3.5M139.1 498.6h3.5M160.3 217.8h3.5M272.3 261.4h3.5M96.4 481.6h3.5M193.5 342.3h3.5M209.2 244.3h3.5M99.7 503.5h3.5M204.5 97.3h3.5M199.8 463h3.5M162.8 267.4h3.5M101.1 473h3.5M320.2 408.1h3.5M203.6 142.7h3.5M349.9 50.2h3.5M202.8 133.1h3.5M180 465.8h3.5M100.2 491.3h3.5M183.2 499.9h3.5M336.4 56.5h3.5M264.5 356.9h3.5M422 71.3h3.5M208.4 166.6h3.5M261.7 418.4h3.5M128.1 164.8h3.5M140.9 513.3h3.5M193.9 230.2h3.5M122.6 427.4h3.5M170.4 444.1h3.5M325.7 151.2h3.5M103.2 305h3.5M211.2 274.8h3.5M117.3 457.6h3.5M198.5 226.1h3.5M340.5 224.7h3.5M265.4 167h3.5M303.2 202.2h3.5M132.1 483h3.5M110.4 491.2h3.5M106.1 413.8h3.5M212.4 432.9h3.5M363.7 74.5h3.5M100.3 515.8h3.5M196.8 380.6h3.5M201.4 333.3h3.5M154.6 520h3.5M95.1 462.1h3.5M132.4 464.8h3.5M505.6 199.4h3.5M201 296.7h3.5M114 65.5h3.5M190.4 193h3.5M158.2 513.3h3.5M114.9 375.8h3.5M314 426.8h3.5M318.4 112.2h3.5M181.8 230.3h3.5M398.6 152.1h3.5M125.4 526h3.5M129.1 354.3h3.5M197.8 190.4h3.5M157.3 116h3.5M155.4 60.3h3.5M143.6 301.2h3.5M246.1 196.5h3.5M102.7 475.1h3.5M304.1 120.1h3.5M102.5 510.9h3.5M108.5 484.7h3.5M377.5 90.2h3.5M150.4 150.2h3.5M163.3 38.5h3.5M100.4 404.4h3.5M165.8 450.5h3.5M223 504.1h3.5M104.4 480.8h3.5M238.3 120.9h3.5M172.7 411.2h3.5M270.6 193.4h3.5M342 507.3h3.5M144 474.6h3.5M171 217.8h3.5M397.5 286.8h3.5M218.9 160.5h3.5M106.2 520.1h3.5M269 312.8h3.5M167 400.9h3.5M121.7 314.6h3.5M142.9 402.3h3.5M103 174.8h3.5M161.5 361.7h3.5M100.4 328.8h3.5M111.6 398.6h3.5M118.4 479.3h3.5M252.8 318h3.5M124.6 363.3h3.5M328 186.9h3.5M193.6 386.6h3.5M105.1 476h3.5M105.4 268.1h3.5M176.9 44.9h3.5M270.5 392.2h3.5M239 50.5h3.5M122.6 303.6h3.5M111.5 505.3h3.5M126.9 484.4h3.5M185.9 493.2h3.5M429.8 477.6h3.5M322.4 252h3.5M213.9 274.4h3.5M166.4 524.2h3.5M213.9 338h3.5M176.2 459.3h3.5M141.6 425.1h3.5M98.4 409.8h3.5M119.5 365.2h3.5M202 472.5h3.5M175.8 298.8h3.5M267.2 154.4h3.5M268.8 467.9h3.5M225.5 204.2h3.5M112 483.1h3.5M209.9 111.5h3.5M108.7 384.6h3.5M139.4 45.7h3.5M198.8 163.5h3.5M232 446.7h3.5M110.5 515.4h3.5M109.9 524.7h3.5M222.4 144.6h3.5M186.1 407.2h3.5M92.8 472.4h3.5M131.3 402.8h3.5M227.4 511.4h3.5M107.1 278.1h3.5M173.3 259.6h3.5M230.7 360.8h3.5M95.4 445.6h3.5M195.2 102h3.5M217 464.7h3.5M146.4 324.1h3.5M121.4 54.9h3.5M231.4 398.7h3.5M308.4 383.8h3.5M305.3 215.4h3.5M129.9 489.6h3.5M207.9 399.7h3.5M247.9 379.8h3.5M125.3 530.5h3.5M446.3 140h3.5M275.1 308.3h3.5M261 195.8h3.5M152.7 162.4h3.5M176.6 84.8h3.5M175.7 235.9h3.5M211.4 347.2h3.5M222.8 402h3.5M102.1 244.9h3.5M156.7 52.3h3.5M148.8 524.2h3.5M168.1 77.5h3.5M132.9 447.5h3.5M94.8 513.5h3.5M344.1 188.1h3.5M517.9 170.1h3.5M100.8 512.4h3.5M152 346.9h3.5M135.5 333h3.5M98.3 352.3h3.5M180.7 138.6h3.5M140.6 436h3.5M225.7 53.1h3.5M119.4 479.5h3.5M100.4 363.7h3.5M97.6 296.8h3.5M235.2 42.5h3.5M108.1 499.6h3.5M211.8 36.8h3.5M161.4 499.8h3.5M225.4 109h3.5M109.2 481.3h3.5M213.4 62.1h3.5M351 198h3.5M104.6 516.9h3.5M162.1 520.6h3.5M173.4 212.3h3.5M277.8 166.1h3.5M93.2 364.6h3.5M348 170.1h3.5M104.5 472.6h3.5M130.3 498.9h3.5M242.4 364.7h3.5M141 495.1h3.5M405.4 94.6h3.5M431.6 246.8h3.5M237.5 178.3h3.5M104.9 522.7h3.5M98.4 247.8h3.5M110.6 482.5h3.5M167.8 314.3h3.5M114.9 36.5h3.5M148.4 485.6h3.5M224.9 130.5h3.5M228.8 317h3.5M281.8 385.6h3.5M165.1 352.1h3.5M110.5 247.6h3.5M378.3 130.4h3.5M105.6 285.3h3.5M120.9 325.4h3.5M113.3 459.3h3.5M258.6 231.8h3.5M100.2 223h3.5M213.4 165.1h3.5M298.8 369.3h3.5M321.4 156.3h3.5M259.3 55.5h3.5M108.3 442.3h3.5M147.9 447.5h3.5M216.3 434h3.5M255.4 183.4h3.5M451.3 45h3.5M95.4 525.8h3.5M248 471.9h3.5M286.2 227.7h3.5M151 223h3.5M300.6 167.9h3.5M289.5 499.4h3.5M209.7 344.1h3.5M158.3 224.8h3.5M102 301.8h3.5M108.3 501.3h3.5M167.8 199.1h3.5M190 464h3.5M160 496.8h3.5M129.6 348.7h3.5M110.7 461.6h3.5M138.2 406.6h3.5M140.2 334.5h3.5M342.8 234.5h3.5M239.3 210.1h3.5M262.3 233.1h3.5M95 432.7h3.5M230.2 289.1h3.5M122.3 465.4h3.5M367.6 215.2h3.5M162.8 460.4h3.5M95 509.1h3.5M429.2 195.9h3.5M190.6 506.3h3.5M155.4 437.8h3.5M340.1 43.3h3.5M162.2 383.4h3.5M195.4 347.5h3.5M139.1 440h3.5M374.2 133h3.5M291.2 167h3.5M144.5 252.9h3.5M137.1 455.4h3.5M213.1 358.4h3.5M158.2 524.9h3.5M132.8 521.8h3.5M154 528.8h3.5M118.6 513.6h3.5M289.3 301h3.5M271.5 203.1h3.5M216.3 225.3h3.5M176.9 467.2h3.5M226.9 48.5h3.5M326.6 38.8h3.5M175.3 378.5h3.5M204.3 440.7h3.5M118.9 307.4h3.5M569.6 333.2h3.5M108.5 432.8h3.5M329 185.4h3.5M108.7 422.2h3.5M109.3 107.3h3.5M212.8 526.1h3.5M271.4 215.1h3.5M122.7 509.4h3.5M154.4 530.8h3.5M206.5 406.3h3.5M116.3 424.2h3.5M179.3 459.1h3.5M163.5 465.4h3.5M125.2 408h3.5M177.9 463.3h3.5M146.8 281.7h3.5M123.8 396.8h3.5M240.4 125.2h3.5M289.6 384.2h3.5M131.7 268.1h3.5M203.2 269.7h3.5M159.5 386.8h3.5M94.2 527.6h3.5M193.8 64.7h3.5M111 441.3h3.5M271 297.8h3.5M287.7 468.3h3.5M194.5 144.9h3.5M156.9 372h3.5M166.2 277.8h3.5M119.5 401.3h3.5M433.6 379.7h3.5M104.4 513.4h3.5M97 139.4h3.5M93.6 323.5h3.5M249.2 232.6h3.5M120.7 428.2h3.5M222.8 300.1h3.5M468.8 86.8h3.5M113.2 514.5h3.5M195.2 193.1h3.5M107.7 416.5h3.5M100.4 416.3h3.5M274 458.8h3.5M323.3 180.1h3.5M248.2 113.7h3.5M145.1 456.8h3.5M248.9 249h3.5M308.8 134.8h3.5M128.7 484.6h3.5M150.4 375.5h3.5M102.9 486.5h3.5M262.6 293.2h3.5M334.9 274.3h3.5M229.9 482h3.5M194 419.4h3.5M240.6 386.7h3.5M379.5 66.1h3.5M93.9 322.6h3.5M95.6 382.1h3.5M148.2 377.6h3.5M153.1 499.3h3.5M107.3 438.4h3.5M414 167.6h3.5M153 96.8h3.5M102.3 513.6h3.5M112.8 470.5h3.5M415.8 203.1h3.5M117.5 384.4h3.5M375.1 61.2h3.5M95.2 394.2h3.5M292.2 316.4h3.5M224.5 282.8h3.5M278.1 477.9h3.5M217.7 268.2h3.5M213.7 294.5h3.5M184.8 58.8h3.5M180.2 260.9h3.5M179.6 206.4h3.5M181 384.1h3.5M154.6 187h3.5M268 138.8h3.5M530.2 380.5h3.5M152.2 187.3h3.5M293.3 149.6h3.5M108.1 467.4h3.5M191.5 355.4h3.5M120.3 196.7h3.5M97.3 497.9h3.5M171 216.6h3.5M117.5 457.4h3.5M395.6 54.4h3.5M170.7 71.4h3.5M206 138.1h3.5M228.5 463h3.5M245.1 206.7h3.5M348.6 45.5h3.5M229.6 200.7h3.5M204.8 257h3.5M165 306.9h3.5M190.4 401.6h3.5M217.1 448.7h3.5M306.4 46.3h3.5M105.6 408.6h3.5M161.1 369.1h3.5M150.4 262.9h3.5M257.9 437.5h3.5M178.3 184.9h3.5M203.4 396.8h3.5M263.2 248.9h3.5M132.6 253.3h3.5M399 144.4h3.5M170.1 103.7h3.5M458.3 47.4h3.5M94.5 429.9h3.5M220.7 483.6h3.5M136.5 136.6h3.5M105 522.6h3.5M166.2 468.3h3.5M483.7 227.2h3.5M194.1 462.9h3.5M150.3 151.2h3.5M203 313.2h3.5M358 46h3.5M98.4 246.2h3.5M123.6 248.7h3.5M173.7 377.9h3.5M106 275.9h3.5M99.5 172.3h3.5M145.3 397.2h3.5M105.9 155.3h3.5M261.8 65.8h3.5M203.8 196.8h3.5M134.5 166.4h3.5M222.3 268.7h3.5M160.8 425.8h3.5M180.4 210.6h3.5M201.9 457.1h3.5M209.2 127.5h3.5M103.8 262.8h3.5M212 124.9h3.5M120.1 411.9h3.5M294.4 176.6h3.5M199.8 453.5h3.5M355.3 72.2h3.5M223.9 427.4h3.5M100.4 479.9h3.5M249.9 384.6h3.5M204.4 492.1h3.5M181.8 156.1h3.5M105.8 429.3h3.5M182.3 494h3.5M189.1 486.4h3.5M473.4 114.9h3.5M109.9 337.7h3.5M212.6 346.3h3.5M147.3 122.6h3.5M139.1 287.3h3.5M217.3 368.1h3.5M92.8 404h3.5M97.3 316.1h3.5M185.9 167.3h3.5M106.4 329.3h3.5M178 420.6h3.5M219.6 300.5h3.5M396.1 314.3h3.5M286.4 478.2h3.5M120.8 445.1h3.5M197 146.3h3.5M128.7 317.9h3.5M119.2 109.1h3.5M129.1 103.5h3.5M115.7 283.9h3.5M116.8 232.1h3.5M204.4 256.5h3.5M129 482.8h3.5M134.3 454.8h3.5M170 514.4h3.5M167.8 337.8h3.5M208.7 459h3.5M194 213.7h3.5M139.3 427.8h3.5M298.2 138.4h3.5M140.9 381.5h3.5M119.9 304.4h3.5M166.2 327.4h3.5M98.2 390.9h3.5M126.7 210.8h3.5M98.8 476.3h3.5M256.9 193.2h3.5M233.7 320.6h3.5M117.6 490.6h3.5M288.7 166.2h3.5M112.8 351.8h3.5M188.2 279.1h3.5M95 168.1h3.5M318.7 117.5h3.5M180.7 325.3h3.5M119.3 191.4h3.5M272.9 39.8h3.5M381.6 92.7h3.5M198.4 236h3.5M272.5 297.3h3.5M408.5 85.6h3.5M142.3 433h3.5M95.6 458.3h3.5M154.2 309.3h3.5M126.7 530.6h3.5M112.5 500.2h3.5M126.3 533.7h3.5M205.8 451.8h3.5M187.9 523.9h3.5M174.9 126.3h3.5M140.9 407.7h3.5M112.5 105.6h3.5M373.3 148.9h3.5M160.2 150.3h3.5M370.9 235.3h3.5M109.7 453.6h3.5M212 155.6h3.5M182.3 293.8h3.5M150.4 340.9h3.5M147 491.5h3.5M198.8 378.8h3.5M204.4 288.7h3.5M195.6 506.8h3.5M149.7 154h3.5M174.5 413.7h3.5M163.1 465.2h3.5M153.6 228.7h3.5M225.2 154.1h3.5M189.9 472.7h3.5M167.5 467.2h3.5M98.7 525.1h3.5M104.1 430.1h3.5M105.1 276.8h3.5M268.2 217.3h3.5M98.6 526.5h3.5M141.1 458.5h3.5M100 503.5h3.5M182.6 283.2h3.5M143.8 512.1h3.5M160.1 154.6h3.5M236.9 414.4h3.5M180.5 371.7h3.5M111.1 483.4h3.5M251.8 511.6h3.5M136.6 87.6h3.5M328.7 442.1h3.5M400.2 221.6h3.5M138.6 390.7h3.5M296.6 278h3.5M95.4 330.1h3.5M178 499.8h3.5M158 473.7h3.5M169.6 522.2h3.5M104 402h3.5M103.6 273.1h3.5M335.8 190.2h3.5M178 481.9h3.5M233 58.8h3.5M347.1 96.8h3.5M205 453.7h3.5M212 451h3.5M232.3 341.9h3.5M177 431.4h3.5M184.3 456h3.5M215 492.1h3.5M101.8 412.6h3.5M185 400.6h3.5M150.4 479.1h3.5M275.3 119.5h3.5M143.6 419.7h3.5M240.5 315.3h3.5M130.2 523.6h3.5M94.1 374.2h3.5M123.7 499.9h3.5M189.4 523.5h3.5M101.2 397.4h3.5M119 371.2h3.5M178.2 76.5h3.5M107.4 237.8h3.5M173 245.9h3.5M108.1 248.3h3.5M120.5 337.8h3.5M97.8 437.3h3.5M237 504.2h3.5M155.2 520.2h3.5M120.7 389h3.5M237.5 512h3.5M130 387.7h3.5M170.5 92h3.5M193.1 465.4h3.5M118.7 300.7h3.5M121.7 452.9h3.5M101.4 266.9h3.5M101.1 107.9h3.5M228.3 465.8h3.5M214.8 156h3.5M202.7 269.7h3.5M189.5 182.8h3.5M97.7 500.7h3.5M337.8 39.9h3.5M96 81.2h3.5M156.3 455.3h3.5M166.5 380.9h3.5M100.5 514h3.5M244.1 219.2h3.5M156.1 259.8h3.5M123.2 462h3.5M153.6 230.2h3.5M124.8 512.3h3.5M154.5 314.1h3.5M118.6 46.2h3.5M177.4 183.7h3.5M299.2 243.8h3.5M115.8 161.1h3.5M114.2 411.4h3.5M291.4 160h3.5M146.1 355.7h3.5M134.1 494h3.5M373.2 383.7h3.5M236.4 354.7h3.5M193.6 521.5h3.5M114.2 303.7h3.5M196.2 336.6h3.5M141.3 469.6h3.5M187.3 469.5h3.5M106.8 371.3h3.5M104.4 325.2h3.5M283.6 127h3.5M112.7 230.8h3.5M160.7 369.1h3.5M389.1 56.5h3.5M102.4 126.9h3.5M284 119.6h3.5M411.1 46.6h3.5M205.1 402.7h3.5M152.7 298.9h3.5M428.2 98.9h3.5M130.9 440.2h3.5M157.4 403.9h3.5M137.9 464.8h3.5M307.5 202.7h3.5M193.7 445.5h3.5M124 367.8h3.5M113.3 351.6h3.5M114.2 424.4h3.5M181.7 529.9h3.5M135.5 276.7h3.5M224.1 80.1h3.5M380.1 282.5h3.5M176.6 523.4h3.5M181 421.1h3.5M188.1 506.1h3.5M166.9 482.4h3.5M302.4 328h3.5M140.7 475.9h3.5M286.5 253.4h3.5M384.1 49.2h3.5M99.4 316.6h3.5M110.8 503.6h3.5M146.3 268.7h3.5M340.9 92.5h3.5M222.9 464.5h3.5M209.1 404.6h3.5M155.2 356.3h3.5M465.3 87.5h3.5M117.1 222.4h3.5M171.1 235.2h3.5M111.1 222.5h3.5M127.3 520.5h3.5M153.1 443.1h3.5M212.2 325.7h3.5M137 417.7h3.5M323.7 167.5h3.5M234 475.5h3.5M133.2 376.9h3.5M221.3 511.9h3.5M107.6 455h3.5M343.6 290.4h3.5M219 435.3h3.5M289 283.4h3.5M105.2 422.3h3.5M283.6 457.4h3.5M181.6 437.4h3.5M131.1 345.8h3.5M160.1 388.7h3.5M97 192.4h3.5M189.1 238.4h3.5M321.5 234h3.5M327.2 267h3.5M275.3 396.2h3.5M153.4 234.2h3.5M190.3 507.2h3.5M147.1 444.4h3.5M206.7 468.7h3.5M269 46.6h3.5M164.2 241.7h3.5M183.7 445.2h3.5M272.7 50.3h3.5M204.2 254.7h3.5M120.4 480.9h3.5M167.6 336.1h3.5M167 373.6h3.5M280.5 228.3h3.5M157.5 223.9h3.5M119.6 349.7h3.5M109.8 499.3h3.5M163.2 447.5h3.5M150.1 37.6h3.5M242.1 158.8h3.5M271.6 418h3.5M128.9 300.6h3.5M93.3 525.2h3.5M303.9 460.1h3.5M192.4 522.9h3.5M115.5 436.8h3.5M211.9 221h3.5M280.5 312.5h3.5M159.1 312.1h3.5M183.7 454.4h3.5M102 395.4h3.5M98.6 317.8h3.5M365.5 284.6h3.5M122.6 291.8h3.5M303.5 493.5h3.5M184.6 525.2h3.5M197.1 504.7h3.5M375.7 172.1h3.5M220.3 409.8h3.5M267.9 465.8h3.5M250 447.6h3.5M199.3 242.2h3.5M111.9 432.6h3.5M217.7 375.6h3.5M277.9 342h3.5M209.2 449.9h3.5M108.9 515.2h3.5M277.7 100.2h3.5M123.5 531.5h3.5M127.1 458h3.5M180.6 446.3h3.5M250.6 48.5h3.5M107.2 501.6h3.5M134.8 200.9h3.5M119.9 433.3h3.5M167.3 502.3h3.5M158.5 363.4h3.5M211 222.9h3.5M117.7 406.5h3.5M199.3 302.2h3.5M123.6 512.5h3.5M116.7 457h3.5M145.9 89.6h3.5M188.8 530.4h3.5M151.1 478.2h3.5M105.1 491.6h3.5M158 529.4h3.5M198.6 477.8h3.5M98.3 495.7h3.5M280.9 378.4h3.5M107.6 511.6h3.5M209.1 503.3h3.5M210.1 119.9h3.5M134.2 462.1h3.5M463 157.6h3.5M143 461.8h3.5M220.5 398.5h3.5M211.6 409.7h3.5M120.9 504h3.5M101.6 399.6h3.5M211.1 377.4h3.5M124.5 296.1h3.5M239.1 385.9h3.5M348.5 183.3h3.5M148.7 267.7h3.5M136.6 501.3h3.5M215.6 362.9h3.5M163.3 525.9h3.5M191.6 512.1h3.5M103 528.8h3.5M323.4 237.3h3.5M134.1 533.2h3.5M226.1 34.1h3.5M184.7 498.1h3.5M137.8 448.3h3.5M151.1 96.4h3.5M170.3 456.4h3.5M99 377.6h3.5M377.1 477.1h3.5M135.7 344h3.5M146.8 467.4h3.5M241.6 494.9h3.5M93.4 485.4h3.5M352.9 179.4h3.5M192.5 503.5h3.5M93.1 426.7h3.5M108.3 509.4h3.5M199.3 374.3h3.5M165.6 390.4h3.5M282.8 118h3.5M381.3 145.8h3.5M149.4 449.7h3.5M144.7 517.6h3.5M173 413.8h3.5M200 487.4h3.5M229.1 300.7h3.5M290.7 254.6h3.5M235 111.9h3.5M307.5 142.2h3.5M113.9 469.9h3.5M217.8 112.8h3.5M136.8 271.8h3.5M240.3 36.7h3.5M205.1 205.2h3.5M178.5 204.8h3.5M181.5 485.3h3.5M218.5 171.1h3.5M115 377.7h3.5M231.4 105.8h3.5M310.8 150.2h3.5M402.8 527.7h3.5M125.7 147.6h3.5M140.9 458.2h3.5M157.6 299.3h3.5M198.3 389.2h3.5M434.9 37.2h3.5M136.8 182.2h3.5M398.1 79.4h3.5M145 424.4h3.5M205.9 373.5h3.5M95.2 364.7h3.5M103.8 259.1h3.5M102.7 458.9h3.5M251 285.7h3.5M114.3 446.8h3.5M234.4 472.7h3.5M184.5 475.8h3.5M134.6 509.7h3.5M134.3 449.9h3.5M164.1 374.7h3.5M184.5 513.8h3.5M116.9 523.6h3.5M220.2 483.6h3.5M205.1 176.4h3.5M148.2 215.2h3.5M229.1 397.1h3.5M263.6 343.2h3.5M274.5 185.9h3.5M124.2 392.6h3.5M110.8 519h3.5M148.8 497.5h3.5M102.3 453.3h3.5M181.2 356.3h3.5M173.7 305.1h3.5M361.5 48.5h3.5M226.6 375.1h3.5M324 78.4h3.5M145.4 178.5h3.5M98.6 188.7h3.5M109.3 134.6h3.5M120.4 424.5h3.5M125.2 182.2h3.5M158.2 500.3h3.5M176.3 423.1h3.5M102.4 204.8h3.5M104.7 484.8h3.5M130.7 303h3.5M109.2 514.2h3.5M135.4 196.6h3.5M120.9 164.1h3.5M119.2 501.6h3.5M229.6 220.1h3.5M173.2 418.9h3.5M156 486.9h3.5M170.4 240.3h3.5M158.4 159.1h3.5M354.1 142.3h3.5M248.3 462.6h3.5M114 393.9h3.5M234.5 479.3h3.5M225.7 149.9h3.5M160.6 440.3h3.5M123.8 508.5h3.5M118.2 512.2h3.5M396.9 90.8h3.5M210.3 427h3.5M299.2 48.4h3.5M120.9 305h3.5M126.3 249.1h3.5M170.8 448.5h3.5M450.2 39.6h3.5M123.6 129.2h3.5M112.4 529.7h3.5M156.6 298.8h3.5M173.5 238.5h3.5M203.4 246.2h3.5M145.7 382.4h3.5M353.6 160.1h3.5M319.8 178.2h3.5M137.3 87.8h3.5M124.5 265.5h3.5M138.3 263h3.5M268.1 148.8h3.5M336.6 431.1h3.5M141.3 271h3.5M129 74.7h3.5M192.4 311.4h3.5M192.9 139.1h3.5M365.4 124h3.5M154.9 199.3h3.5M157.3 194.3h3.5M130.9 532.8h3.5M131.9 458.8h3.5M203.2 395.7h3.5M112.8 311.8h3.5M243.6 263h3.5M205.7 334.3h3.5M310.1 273.2h3.5M94.9 248.3h3.5M248.5 491.6h3.5M168.2 418.7h3.5M155.9 374h3.5M99.4 494.6h3.5M105.7 120.7h3.5M145.2 506.7h3.5M181.5 477h3.5M124.1 448.4h3.5M126.5 278h3.5M101.2 435.1h3.5M284.1 382.3h3.5M211.8 198.2h3.5M222.8 486.7h3.5M232.5 234.6h3.5M403.3 476.8h3.5M142.3 273h3.5M104.5 506.3h3.5M199.1 234.8h3.5M247.1 341.3h3.5M256.4 464.5h3.5M104.2 452.7h3.5M129.1 209h3.5M189.1 273.7h3.5M200.1 300.9h3.5M124 340.1h3.5M321.5 480.2h3.5M156.3 516.4h3.5M205.3 365.8h3.5M139.4 449.6h3.5M158.7 363.3h3.5M141 489h3.5M103.6 304.5h3.5M94.5 214.5h3.5M191.5 505.5h3.5M193.7 314.2h3.5M111.7 512.3h3.5M151 466.6h3.5M93.4 324h3.5M353.7 53h3.5M168.7 473.5h3.5M134.6 507.5h3.5M113.9 487.2h3.5M323 68.8h3.5M306.3 384.8h3.5M161.2 293.7h3.5M136.4 166.4h3.5M256.6 396.6h3.5M245.2 452.2h3.5M226.1 192.1h3.5M121.6 511.3h3.5M325.9 101.5h3.5M184 465.9h3.5M94.8 340.9h3.5M219.1 440.4h3.5M99 430.3h3.5M433.1 231.2h3.5M264.1 371.4h3.5M209.6 446.9h3.5M129 494.7h3.5M112.3 479.5h3.5M92.9 476.6h3.5M124.5 521.1h3.5M347.7 82h3.5M93.8 530.8h3.5M162.1 220h3.5M148.3 532.4h3.5M124.8 482.7h3.5M102.1 390.4h3.5M293.5 136.2h3.5M128.8 416h3.5M101.3 494.1h3.5M335.4 425h3.5M132.6 493h3.5M350.1 51.3h3.5M397.9 140.4h3.5M321.4 285.7h3.5M109.8 422.5h3.5M140 504.2h3.5M106.2 236.8h3.5M134.9 479.5h3.5M106 472.6h3.5M246.5 147.6h3.5M265.3 315.3h3.5M98.1 63.4h3.5M170.9 417.1h3.5M317.1 304.4h3.5M303.9 79.2h3.5M126.8 512.4h3.5M284.6 238.1h3.5M221.8 148h3.5M230.7 43.5h3.5M311.9 56h3.5M176.5 403.3h3.5M96.7 386.2h3.5M175.9 337.8h3.5M359.6 66.7h3.5M95 357.1h3.5M259.3 351.8h3.5M146.2 480.8h3.5M262.4 457.4h3.5M189 407.3h3.5M348.9 128.4h3.5M177.5 216.9h3.5M223.8 499.4h3.5M95.2 199.6h3.5M115.2 522.1h3.5M239.7 237.3h3.5M172.1 390.8h3.5M132.5 53.1h3.5M281.4 190.9h3.5M208.4 108.9h3.5M102.1 385.5h3.5M230.3 444.1h3.5M459.4 56.5h3.5M468.7 73.1h3.5M145.9 390.8h3.5M354.4 476.9h3.5M284.2 133.4h3.5M115.3 497.2h3.5M101 451.3h3.5M227.5 516.5h3.5M298.3 155h3.5M425.3 49.2h3.5M117 531.3h3.5M153.7 285.9h3.5M240.5 317.4h3.5M186.9 282.7h3.5M522.4 325.6h3.5M155.2 256h3.5M311.1 148.5h3.5M135.7 453.8h3.5M142.3 519.1h3.5M444.5 41.2h3.5M304.9 226.5h3.5M168.4 425.6h3.5M113.4 458h3.5M337.2 254.8h3.5M156.6 463.3h3.5M133.1 449.2h3.5M106.9 80.1h3.5M105.2 259.2h3.5M346.1 312.7h3.5M162.2 478h3.5M153.7 457.7h3.5M356.8 103h3.5M364.4 142.6h3.5M156.4 116.4h3.5M114.1 340h3.5M299.9 233.3h3.5M357 180.2h3.5M116.4 509.3h3.5M104.3 506.9h3.5M138.7 505.1h3.5M112.5 488.5h3.5M181.9 406h3.5M113.9 502.5h3.5M247.5 110.7h3.5M207.3 392.8h3.5M342.3 141.7h3.5M101.4 447.1h3.5M104.2 431.2h3.5M100.2 176.9h3.5M96.1 71.8h3.5M186.7 129.5h3.5M161.2 274.7h3.5M105.9 398.6h3.5M432.7 112.4h3.5M203.3 83h3.5M97.5 294.7h3.5M98 216.8h3.5M248.8 231.7h3.5M131.2 521.5h3.5M289.3 181.2h3.5M117.2 521.7h3.5M204.5 139.3h3.5M200.4 356.3h3.5M252.7 146.8h3.5M115.6 81.7h3.5M98.5 420.1h3.5M154.2 445.9h3.5M314.2 35.5h3.5M287.4 175.6h3.5M167.5 101.1h3.5M119.4 524.5h3.5M101.7 348.2h3.5M136.3 253h3.5M231.7 301.6h3.5M206.9 473.7h3.5M425.1 57h3.5M221.9 396.3h3.5M236.4 304.5h3.5M108 303.5h3.5M165.7 214.7h3.5M123.5 278.9h3.5M142 240.1h3.5M157.5 447.3h3.5M128.9 520h3.5M111.2 430.7h3.5M243.4 156.4h3.5M100.6 486.4h3.5M134.8 292.1h3.5M542.7 189.1h3.5M105 178.4h3.5M106.7 294h3.5M286.3 114.7h3.5M190.4 347h3.5M118.8 351.4h3.5M174.1 42.8h3.5M133.5 301.1h3.5M174.5 416.6h3.5M137.9 518.4h3.5M131.4 463.7h3.5M140.8 372.4h3.5M177.6 511h3.5M165.4 313.4h3.5M208.1 321.3h3.5M197.5 170.5h3.5M217.8 240.4h3.5M266.3 81h3.5M219.3 254.1h3.5M154.1 333.9h3.5M298.6 75.8h3.5M97.1 428h3.5M245.8 285.6h3.5M316.6 316.3h3.5M179.7 512.9h3.5M170.8 450.9h3.5M209.2 141.3h3.5M95.8 501.4h3.5M226.4 377.6h3.5M268.2 140.8h3.5M98.6 497.7h3.5M163.9 366.1h3.5M94.1 366.1h3.5M179.1 428h3.5M289 232.8h3.5M262.2 253.2h3.5M266.2 250.9h3.5M377 123.6h3.5M140 493.8h3.5M187.7 222.4h3.5M290.1 138.1h3.5M171.5 363.8h3.5M281.4 173.3h3.5M134.2 508.1h3.5M231 52.1h3.5M265.6 416.7h3.5M300.9 173.5h3.5M269.5 336.8h3.5M228.2 364.1h3.5M333.1 181.5h3.5M93.3 368.2h3.5M200.3 454.4h3.5M417.9 129.5h3.5M145.1 519.1h3.5M144 501.1h3.5M115.2 248.3h3.5M461.5 34.8h3.5M223.3 351h3.5M116 250.8h3.5M170.3 487.6h3.5M96.1 467.6h3.5M104.2 434.4h3.5M433.4 202.3h3.5M145.1 496.5h3.5M115.4 479.9h3.5M103.5 457.9h3.5M407.8 59.7h3.5M99.5 386.7h3.5M180.8 99.3h3.5M225.7 269.2h3.5M189.7 378.2h3.5M488 45.2h3.5M388.7 78.1h3.5M96.7 498.8h3.5M112 504.1h3.5M164.9 469.3h3.5M302.8 129.3h3.5M197.9 248.3h3.5M128.6 306.8h3.5M175.8 201.1h3.5M211.8 252.6h3.5M189.2 98.9h3.5M218.8 449.4h3.5M208.1 231.9h3.5M175.5 452.6h3.5M314.4 74.5h3.5M217.8 520.5h3.5M274.4 99.3h3.5M104.7 376.4h3.5M363.7 43.8h3.5M103.5 303.3h3.5M151.2 416h3.5M130.5 460.2h3.5M210.5 447.7h3.5M364.2 40.9h3.5M160.4 521.3h3.5M119.1 478.1h3.5M239.5 169.4h3.5M100.6 410.5h3.5M100 374.7h3.5M113.2 508.1h3.5M120.7 368.8h3.5M196.9 492h3.5M193.1 422.9h3.5M129.6 117.6h3.5M206.1 462h3.5M208.6 191.7h3.5M387.7 238.1h3.5M184.3 482.8h3.5M121.2 336.8h3.5M203.4 414.6h3.5M113.7 468.4h3.5M200.5 488.2h3.5M280.7 280.2h3.5M310.5 208.3h3.5M157.9 388.2h3.5M134.7 531.5h3.5M193.3 483.7h3.5M147 406.3h3.5M316.7 115.1h3.5M94.7 519.2h3.5M225.2 231.5h3.5M114 392.2h3.5M125 76.4h3.5M262.6 312.5h3.5M137.6 261.6h3.5M114.9 432.5h3.5M98.8 379.4h3.5M126.8 511.6h3.5M364.3 152.7h3.5M148.5 40.7h3.5M239.2 381.7h3.5M171.4 382.2h3.5M202.6 497.8h3.5M95.9 193.8h3.5M164.2 510.4h3.5M143.3 219.7h3.5M189.7 299h3.5M456.3 217.5h3.5M192.1 489.2h3.5M95.4 471.1h3.5M246.1 87.8h3.5M122 451.2h3.5M155.4 248h3.5M159.4 349.1h3.5M115.8 344.5h3.5M203.6 482.3h3.5M95.4 144h3.5M205.4 466.1h3.5M97 103.6h3.5M103.4 54.7h3.5M217.9 38h3.5M247.6 356.2h3.5M158.8 332.3h3.5M152.7 152.7h3.5M96.3 528.3h3.5M349.1 193.6h3.5M173.9 120.9h3.5M366.5 224.3h3.5M120.2 517.8h3.5M102.5 528.9h3.5M94.4 262.8h3.5M192.1 455.1h3.5M160.3 405.3h3.5M97.6 403.1h3.5M157.1 409.4h3.5M181.2 329.8h3.5M190.5 475.8h3.5M133.5 335.5h3.5M96.4 248.6h3.5M137.3 100.1h3.5M108.4 425.2h3.5M141.7 526h3.5M126.5 339.3h3.5M108.6 396.2h3.5M178.1 413.5h3.5M132.4 502.3h3.5M94.2 344h3.5M98.2 518.4h3.5M92.9 519.8h3.5M216.3 202.8h3.5M118.5 307.8h3.5M204.1 324.8h3.5M287.1 492.1h3.5M198.7 327.2h3.5M369.7 182.6h3.5M404.2 91.2h3.5M259.3 191.8h3.5M102.6 198.9h3.5M174.1 117.6h3.5M93.1 397.4h3.5M127.2 192h3.5M243.2 108.5h3.5M325.7 74.8h3.5M286 456.1h3.5M157.7 469.6h3.5M177.2 259.7h3.5M196.7 109.9h3.5M105 390.2h3.5M120.2 500h3.5M235.2 130.9h3.5M150.3 486.4h3.5M191.7 131.4h3.5M174.2 490.4h3.5M156.6 500.9h3.5M170.1 186.7h3.5M104.3 528.7h3.5M216.6 367.3h3.5M95 486.2h3.5M98.6 462.4h3.5M204.7 160.6h3.5M193.9 221.2h3.5M132.8 289.3h3.5M209.1 529.3h3.5M224.4 254.2h3.5M176.3 414.5h3.5M112.6 435h3.5M101.1 108.1h3.5M154.7 404.9h3.5M178.3 243.6h3.5M239.2 499.8h3.5M96 518.4h3.5M153.8 110.3h3.5M272.6 167.4h3.5M188.2 69.1h3.5M256 90.8h3.5M118 276h3.5M234.5 372.6h3.5M179.8 110.2h3.5M180.1 274.4h3.5M203 105.1h3.5M159.4 213.9h3.5M94.1 311.8h3.5M168.4 178.6h3.5M97.1 444.4h3.5M94.3 441.2h3.5M107.8 511.4h3.5M201.4 471.7h3.5M184.2 135.1h3.5M114.3 38.5h3.5M116.4 375.2h3.5M196.4 306.8h3.5M312.9 120h3.5M161.3 178h3.5M144.6 103.4h3.5M284.6 450.6h3.5M351.5 251.5h3.5M98.4 106.4h3.5M156.9 481.9h3.5M151.5 507.5h3.5M156.7 250.1h3.5M181 528.9h3.5M94.1 516.7h3.5M183.7 527.6h3.5M328.3 40.6h3.5M149.4 400.1h3.5M274.3 173h3.5M152.9 453.8h3.5M190.6 459.3h3.5M384.2 44.8h3.5M302.8 322h3.5M218.7 510.3h3.5M243.1 102.2h3.5M105.7 455.4h3.5M309.9 169.5h3.5M130.4 499h3.5M393.1 147.8h3.5M295.4 233.9h3.5M207.7 288.9h3.5M118.1 509.6h3.5M114.9 126.3h3.5M193.4 442.3h3.5M172.1 315.1h3.5M387.5 122.5h3.5M140.4 507.8h3.5M210.6 384.4h3.5M149.6 120.2h3.5M268.9 87.8h3.5M95 393.4h3.5M177.9 452.2h3.5M218.8 171.9h3.5M96.3 529.7h3.5M272.7 375.1h3.5M237.2 477.2h3.5M155.2 445.1h3.5M117.9 269.5h3.5M227.4 187.4h3.5M127.1 407.4h3.5M120.7 222.9h3.5M183.9 478.9h3.5M124.9 529.6h3.5M117.3 108.4h3.5M258.5 62.2h3.5M217.9 287.3h3.5M104.8 433.9h3.5M147.2 501.3h3.5M181.5 298.5h3.5M132.4 463.4h3.5M99.4 481.5h3.5M318.7 111.2h3.5M203.8 237.4h3.5M159.6 424.6h3.5M319.1 147.3h3.5M207.7 466.3h3.5M118.9 447h3.5M119.4 165.7h3.5M138 315.1h3.5M196.8 436h3.5M123.9 479.3h3.5M318.6 160.3h3.5M101 259.7h3.5M120.1 498.5h3.5M161.2 508.8h3.5M95.3 282.7h3.5M168.8 231.7h3.5M259 100.4h3.5M106.5 473.6h3.5M157.3 451.4h3.5M157.1 330.9h3.5M170.9 475.7h3.5M181.7 515.4h3.5M113.2 392.3h3.5M96 112.8h3.5M270.9 383h3.5M104.1 225.4h3.5M105.9 506.9h3.5M120.4 460.9h3.5M188 225.8h3.5M120.6 465h3.5M203.5 374.9h3.5M218.2 375.3h3.5M107 487.2h3.5M167.6 228.4h3.5M389 95h3.5M272.5 153.6h3.5M340 190.8h3.5M102 340.9h3.5M96.9 479h3.5M160.8 529.3h3.5M127.5 450h3.5M288 331.7h3.5M313.4 140.3h3.5M293.3 93.2h3.5M365.8 79.8h3.5M301.6 127h3.5M229.1 355.7h3.5M221.1 374.8h3.5M368.1 148.2h3.5M165.2 343.9h3.5M353.5 225.1h3.5M118 409.5h3.5M282.3 242.4h3.5M365.2 297.5h3.5M182 500.4h3.5M188 436.4h3.5M285.5 210.4h3.5M105.2 453.9h3.5M251.9 97.8h3.5M130.8 400.4h3.5M142.5 516.3h3.5M111.5 485.7h3.5M200.1 458.8h3.5M122.3 332h3.5M264.9 407.7h3.5M107.5 494.3h3.5M174.2 507.3h3.5M132 262h3.5M251.8 303.2h3.5M107.7 487.8h3.5M93.3 508h3.5M261.7 350h3.5M118.7 504.7h3.5M176.3 98h3.5M146.4 354.6h3.5M148.4 451.1h3.5M133.1 496.3h3.5M113.7 402.4h3.5M159.4 47.5h3.5M278.7 145.3h3.5M278 73.8h3.5M132.1 395h3.5M286.1 372.6h3.5M152.8 321.6h3.5M123.3 444.4h3.5M128.1 427.1h3.5M129.4 375h3.5M291.4 178.1h3.5M175.6 331.3h3.5M161.3 488.6h3.5M105.1 388.8h3.5M106.1 505.6h3.5M200.3 52.5h3.5M101.6 418.3h3.5M116.7 206.3h3.5M207.4 302.8h3.5M101.9 369.1h3.5M165.7 508h3.5M275.4 344h3.5M343.4 139.1h3.5M291.1 513.1h3.5M233.9 516.8h3.5M109.3 144.5h3.5M277.2 214.6h3.5M123 512h3.5M121.7 277.8h3.5M207.1 457.6h3.5M169.8 389.8h3.5M176.2 475.1h3.5M161.1 305.1h3.5M140.7 431.3h3.5M252.8 468.2h3.5M312.4 477.1h3.5M351.8 81.6h3.5M223.7 530.2h3.5M302 96.3h3.5M106.9 194h3.5M195.4 68h3.5M121.4 410.2h3.5M143.2 488.1h3.5M185 470.7h3.5M281.8 351h3.5M166.2 454.2h3.5M206.1 519.1h3.5M138.1 71.6h3.5M290.8 284h3.5M151.7 126.3h3.5M169.5 209.3h3.5M196.8 514.5h3.5M169.9 319.6h3.5M234.3 476.2h3.5M164.8 271.1h3.5M94.7 70.9h3.5M204.2 185.1h3.5M133.2 333.7h3.5M106.7 502.8h3.5M209.1 472.9h3.5M220.6 375.6h3.5M128.1 520.6h3.5M346.1 215h3.5M189.8 179.2h3.5M124.9 433h3.5M98.5 520.3h3.5M115.6 238.2h3.5M110.7 224.7h3.5M264.1 209.6h3.5M251.1 324.3h3.5M143.5 520.6h3.5M99.9 210.5h3.5M257.9 212.7h3.5M145.8 492.9h3.5M255.9 59.9h3.5M111.1 98h3.5M159 131.4h3.5M165.1 172.8h3.5M228.8 321.8h3.5M138.5 463.8h3.5M106.2 531.4h3.5M188.8 336.1h3.5M146.6 51.2h3.5M358.9 126.4h3.5M219.6 106h3.5M327 269.3h3.5M195.3 284h3.5M238.2 187.9h3.5M190.5 354.5h3.5M264.1 331.7h3.5M102.8 512.2h3.5M189.4 485.3h3.5M304.2 190.6h3.5M116.2 394h3.5M221.9 195.1h3.5M182.3 106.9h3.5M203.7 362.3h3.5M194.7 383.6h3.5M181.2 424.5h3.5M216.3 464.2h3.5M178.4 507.5h3.5M217.2 62.6h3.5M104 513.9h3.5M178.4 469.4h3.5M259.2 401.9h3.5M135.6 452.6h3.5M125.1 463.8h3.5M98.7 399.9h3.5M142.7 477.1h3.5M145.7 421.8h3.5M560.2 149h3.5M148.1 526.5h3.5M118.8 495.7h3.5M344.4 112.9h3.5M102.9 436.7h3.5M109.9 420.3h3.5M174.9 98.5h3.5M155.2 493.7h3.5M188.9 399.6h3.5M393.7 444.3h3.5M126.1 466.4h3.5M175.5 474h3.5M165.9 89.6h3.5M161.6 453.4h3.5M145.6 386.2h3.5M267.6 91h3.5M205.3 506.4h3.5M143.8 350.9h3.5M490.5 95h3.5M103.7 492.3h3.5M320.8 104.5h3.5M124.5 445.9h3.5M173.4 255.9h3.5M100.2 523.5h3.5M274.6 78.4h3.5M164.5 224.5h3.5M113.6 522.9h3.5M319.6 265.5h3.5M419.7 34.8h3.5M106 467.7h3.5M128.2 365.3h3.5M170.8 123.4h3.5M263.3 249.1h3.5M168.5 137.4h3.5M223.4 224.9h3.5M115.5 515.2h3.5M148.1 517h3.5M94.4 82.7h3.5M283 423.5h3.5M180.1 353.6h3.5M159.4 451.9h3.5M144.8 293.3h3.5M178.3 308.1h3.5M122.9 388.5h3.5M166.9 529.4h3.5M276 382h3.5M165.4 326.2h3.5M196.7 147.1h3.5M351.6 300.3h3.5M138.2 414.8h3.5M117.8 484h3.5M122.4 440.1h3.5M104.1 403.3h3.5M93.8 473.9h3.5M94.4 269.3h3.5M220 402.8h3.5M277.3 263.7h3.5M169.3 310.2h3.5M105.5 364.9h3.5M207.9 34.2h3.5M107.1 342h3.5M168.3 288.2h3.5M201.4 530.8h3.5M292.7 388.6h3.5M187.2 146.3h3.5M402.7 220.5h3.5M140.8 474.8h3.5M101.7 508.7h3.5M221.6 498.1h3.5M181.2 123.9h3.5M373.3 319h3.5M145.9 428.2h3.5M299.5 272.4h3.5M146.6 325.2h3.5M113.5 525.4h3.5M103.5 307.4h3.5M105.5 460h3.5M100.9 176h3.5M180.6 414.8h3.5M104.3 480.2h3.5M115.4 533.7h3.5M293.3 162.2h3.5M238.4 254.5h3.5M162.2 511.5h3.5M326.7 356.6h3.5M237.9 425.2h3.5M98.1 121.7h3.5M163.7 161.7h3.5M130.2 437.4h3.5M196.9 140h3.5M142 503h3.5M196.5 171.5h3.5M334.2 35.5h3.5M197.4 447.9h3.5M148.4 327.8h3.5M136.3 296.5h3.5M149.5 159.9h3.5M322.6 184.5h3.5M172.6 433.7h3.5M119.8 389.3h3.5M148.6 472.9h3.5M209.3 476.3h3.5M122 339.8h3.5M201.3 498.8h3.5M157.4 371.8h3.5M105.1 399.3h3.5M153.4 418.6h3.5M115.4 482.2h3.5M117.2 46.3h3.5M286.5 67.1h3.5M143.2 90.8h3.5M347.7 335.5h3.5M297.9 155.4h3.5M111.2 285.7h3.5M209.7 120.5h3.5M383.4 105.2h3.5M102.6 288.4h3.5M101.7 458.6h3.5M95.1 410.3h3.5M169.4 451h3.5M235.6 252.1h3.5M149.1 148.3h3.5M132.7 491.5h3.5M307.4 247.8h3.5M113.5 524.5h3.5M99 284h3.5M132.2 516h3.5M239.8 520.9h3.5M250 368.9h3.5M243.8 306.2h3.5M145.5 493.5h3.5M120.8 471.7h3.5M99.4 358h3.5M213.5 129.4h3.5M263.4 294.1h3.5M178.2 113.9h3.5M94.2 453.5h3.5M229.4 211.9h3.5M117.8 488.2h3.5M295.4 221.4h3.5M230.2 161.5h3.5M115.5 499.1h3.5M185.6 517h3.5M167 269.3h3.5M133.3 140.2h3.5M158.3 261.2h3.5M230 303.9h3.5M136.7 345.5h3.5M333.5 169.8h3.5M98 122.7h3.5M209.7 356.5h3.5M113.5 133.6h3.5M123.9 157.4h3.5M247.5 450.7h3.5M199.1 310.1h3.5M343.5 262.3h3.5M193.5 59.8h3.5M180.7 426.3h3.5M208.5 490.1h3.5M102.1 426.7h3.5M262.1 463.7h3.5M140.1 379.8h3.5M164 65.7h3.5M312 385.8h3.5M223 479.6h3.5M195.6 503.5h3.5M228 444.5h3.5M197.4 114.4h3.5M141.9 253.7h3.5M364.7 163.3h3.5M126.1 440.1h3.5M282.2 412.5h3.5M190.4 521.3h3.5M234.3 211h3.5M109.7 289.3h3.5M138.5 282.4h3.5M415 241.9h3.5M154 230.5h3.5M117 520.4h3.5M101.8 433.3h3.5M312.3 123.9h3.5M263.6 433.6h3.5M177.3 514.6h3.5M241 256.6h3.5M244.2 358.2h3.5M121.6 111.6h3.5M112.1 475.3h3.5M108.7 434.7h3.5M239.8 441.5h3.5M194.6 310.5h3.5M177.8 189.4h3.5M413.7 40h3.5M201.7 417.1h3.5M286.2 201h3.5M102.2 449h3.5M165.4 486h3.5M149.6 402.9h3.5M146.7 489.5h3.5M176.6 36.4h3.5M186.2 128.8h3.5M352.9 216.4h3.5M282.4 320.7h3.5M172.6 483.7h3.5M99.6 233.6h3.5M129.7 231.8h3.5M154.8 363h3.5M195 500h3.5M215 85.7h3.5M111.6 525.9h3.5M152.1 444.8h3.5M188.6 105.9h3.5M130.8 443.1h3.5M111.5 353h3.5M318.3 306h3.5M234.2 89.7h3.5M170.3 288.9h3.5M281 358.3h3.5M237.3 466.2h3.5M131.4 473.2h3.5M155.6 253.6h3.5M459.1 260.2h3.5M194.6 292.2h3.5M291.1 51.7h3.5M208.3 384h3.5M121.9 199.1h3.5M165.6 415h3.5M503.2 52.6h3.5M97.1 324.6h3.5M216.3 458.7h3.5M161.2 494.2h3.5M202.2 396.8h3.5M94.9 348.7h3.5M102.4 454.7h3.5M118.3 519.8h3.5M189.5 344.3h3.5M196.4 505.9h3.5M171.2 493.8h3.5M138 436.3h3.5M164.4 378.6h3.5M302.6 174.7h3.5M102 422.2h3.5M159.4 223.1h3.5M211.3 265.2h3.5M265.5 494h3.5M193.1 184.4h3.5M186.8 278.6h3.5M114.5 506.4h3.5M327.5 43.4h3.5M157.1 448.1h3.5M144.7 248.3h3.5M151.2 531.3h3.5M103.2 525.9h3.5M153 487.7h3.5M215.4 83.6h3.5M98.3 477h3.5M227.7 47.5h3.5M118.1 503.1h3.5M492.2 133.4h3.5M182.8 348.5h3.5M173.7 298.6h3.5M147.5 110.5h3.5M214 123.3h3.5M132.8 300.2h3.5M164.8 110.5h3.5M215.3 354.2h3.5M124.7 387.5h3.5M93.1 490.3h3.5M262.5 111.9h3.5M374 124.4h3.5M119 302.6h3.5M143.6 523.7h3.5M111.4 494.1h3.5M238.6 480.5h3.5M224.8 459.8h3.5M163 155.7h3.5M181.9 392.4h3.5M139.3 367.9h3.5M115.9 271h3.5M97.6 295.2h3.5M170.5 275.7h3.5M402.1 248.2h3.5M106.8 67.6h3.5M254.2 212.9h3.5M426.8 42.8h3.5M119 256h3.5M382 182.2h3.5M100.4 451h3.5M367.2 72.2h3.5M220.7 77.6h3.5M118.7 428.2h3.5M175.2 109.2h3.5M197.9 392.1h3.5M237.2 421.9h3.5M157.6 278.8h3.5M152.4 242.1h3.5M115 472.1h3.5M162.9 473.8h3.5M93.2 227.1h3.5M102.4 256h3.5M214.3 174.6h3.5M242.9 394.4h3.5M155.9 501.8h3.5M236.7 86.7h3.5M119.5 59.6h3.5M207.3 511h3.5M113.4 503.6h3.5M199.7 293h3.5M117.8 486.2h3.5M414.5 46.1h3.5M106 240.5h3.5M115.5 306h3.5M138.8 492.5h3.5M167.6 315.7h3.5M93.4 247.8h3.5M368.3 259.2h3.5M181.9 252.1h3.5M119.4 513.7h3.5M434.2 96.1h3.5M155 509.1h3.5M194.1 462.5h3.5M157.9 513.1h3.5M146.5 385.9h3.5M227.8 149.6h3.5M99.8 388.7h3.5M128.6 411.8h3.5M140.9 416.6h3.5M181.4 420.1h3.5M193.9 75.8h3.5M120.6 501.6h3.5M141.4 479.2h3.5M183.1 465.7h3.5M259.5 90.6h3.5M109.1 499.1h3.5M275.6 503.8h3.5M110.7 208.1h3.5M124.6 411.3h3.5M109.9 404.9h3.5M94.4 214.8h3.5M94.8 300.1h3.5M120.1 309.9h3.5M175.5 329h3.5M193 112.6h3.5M316.3 153.8h3.5M96 384.3h3.5M176.2 169.7h3.5M236.2 227.6h3.5M117.6 273.8h3.5M94.2 434h3.5M169.3 374.3h3.5M109.2 521.6h3.5M98.6 443.4h3.5M101.7 521.7h3.5M252.6 286.2h3.5M290.3 379.8h3.5M218.6 297.4h3.5M418.7 51h3.5M120.8 474.1h3.5M174.4 83h3.5M309.4 73.7h3.5M371.4 154.4h3.5M171.7 148.9h3.5M154.1 355.7h3.5M185.4 505.4h3.5M217.7 44h3.5M189.2 292.2h3.5M117.6 481.8h3.5M94.8 281.8h3.5M218.7 67h3.5M263.4 221h3.5M107.8 213.1h3.5M414.6 130.8h3.5M98.3 341.4h3.5M180.1 520.1h3.5M157.8 384.3h3.5M320.2 109.6h3.5M139.7 231.3h3.5M195.4 495h3.5M158.4 515.1h3.5M183.3 123h3.5M415 100.2h3.5M140.4 412.8h3.5M96.1 391.8h3.5M127.4 118.3h3.5M121.4 393.4h3.5M229.1 327.6h3.5M189.3 483.5h3.5M117.1 393.9h3.5M124.1 187.5h3.5M178.3 99.7h3.5M96.3 421.8h3.5M119.2 157.3h3.5M165.1 165.8h3.5M156.9 457.7h3.5M286.5 437.9h3.5M212.9 401.3h3.5M254.6 466.6h3.5M126 485.3h3.5M251.2 239.4h3.5M184.2 241.1h3.5M119.3 185.7h3.5M280.9 173.3h3.5M412.3 186.3h3.5M136.5 461h3.5M137.9 511.5h3.5M307.8 99.1h3.5M120.2 432.9h3.5M118.5 386.8h3.5M194.5 454.3h3.5M198.4 160.4h3.5M171.9 77.9h3.5M202.7 448.7h3.5M174.9 465.3h3.5M194.8 494.3h3.5M193.4 373h3.5M209 193.5h3.5M164.6 329.3h3.5M149.1 201.9h3.5M246.7 118.3h3.5M199.2 262.3h3.5M421.8 54.4h3.5M115.1 337.8h3.5M196.1 444.6h3.5M115.2 407.7h3.5M110.9 492.1h3.5M107.7 533.5h3.5M237.1 439.2h3.5M289.2 328.4h3.5M94.9 369.5h3.5M225.4 78.2h3.5M243.8 393.3h3.5M101 522.2h3.5M229.3 392.8h3.5M255.8 504.3h3.5M213.7 363.3h3.5M98.5 504.8h3.5M97.6 454.5h3.5M112.8 528.3h3.5M259.5 311.3h3.5M204 210.1h3.5M179.4 388.9h3.5M109.8 486h3.5M152.7 177.3h3.5M246.3 401.5h3.5M454.4 128h3.5M202.3 292.1h3.5M143.1 463.7h3.5M124.8 133.5h3.5M385.6 83.6h3.5M151.3 452.4h3.5M156.2 532.7h3.5M179.9 409.1h3.5M184.2 109.3h3.5M178.4 481.3h3.5M238.3 395.2h3.5M226.8 310.3h3.5M182.9 76.5h3.5M185.4 454.7h3.5M163.5 97h3.5M109.6 302.5h3.5M116 392.5h3.5M154.9 300.8h3.5M199.9 463.9h3.5M314.9 94.4h3.5M195.5 385.5h3.5M176.1 113.9h3.5M190.7 515.6h3.5M283.2 314.3h3.5M258.1 143h3.5M273.7 373.1h3.5M307.2 86.3h3.5M249.8 506.2h3.5M171.6 458.2h3.5M185.9 259.5h3.5M160.6 519h3.5M184.7 62.7h3.5M182.5 434.5h3.5M140.1 253.4h3.5M204.8 166.8h3.5M463.1 441.7h3.5M356.8 329.8h3.5M131.9 152.6h3.5M115.4 502.8h3.5M195.6 468.4h3.5M402.1 73.1h3.5M150.8 497h3.5M295.9 325.7h3.5M182.6 398.9h3.5M210.5 459.7h3.5M351.4 136h3.5M145 128.5h3.5M379.9 296.1h3.5M157.7 361.1h3.5M382.8 139.7h3.5M407.1 111.2h3.5M176 519.1h3.5M126.9 286.9h3.5M137.2 496.2h3.5M104.8 452h3.5M166.5 405h3.5M107.4 491.3h3.5M254.5 502.3h3.5M111.8 313.5h3.5M116.2 369.2h3.5M207.5 377.5h3.5M112.9 499.7h3.5M207.9 334.9h3.5M221.4 483.7h3.5M167.7 516.1h3.5M131.4 509.1h3.5M179.6 422h3.5M301.6 60.3h3.5M119.1 323.9h3.5M109.6 34.9h3.5M168.2 100.9h3.5M147.1 528.2h3.5M105.3 452.3h3.5M99.4 446.2h3.5M135.1 432h3.5M206.1 275.3h3.5M281 410.8h3.5M150.9 511.2h3.5M242.5 278.9h3.5M141.9 370.4h3.5M108 267.9h3.5M130.4 370.7h3.5M94.1 497.7h3.5M110.3 473.2h3.5M215.8 361.4h3.5M127.9 490.7h3.5M166.6 372.5h3.5M104.6 311.6h3.5M221.1 85.2h3.5M103.5 430.5h3.5M318.4 324.5h3.5M107.7 386.5h3.5M434 202.8h3.5M176.1 490.9h3.5M142.4 442.7h3.5M96.3 522.4h3.5M164.7 532.9h3.5M94.5 475.2h3.5M337.6 248.2h3.5M235.4 494h3.5M276.7 71.3h3.5M344.6 197.2h3.5M192.3 264.3h3.5M466.1 270h3.5M153.9 294.1h3.5M136.1 318.6h3.5M278.6 40.3h3.5M104.6 407.1h3.5M393.2 73.6h3.5M300.3 204.1h3.5M191.9 194.6h3.5M132.4 405.8h3.5M162.6 177.7h3.5M330.1 44.2h3.5M127.1 515.1h3.5M98.6 356.9h3.5M190.2 267.1h3.5M284.2 87.6h3.5M98.6 315.6h3.5M107.7 442h3.5M272.3 124.1h3.5M178 201.2h3.5M153.8 480.5h3.5M266.1 314.6h3.5M254.9 302.6h3.5M215.3 310.2h3.5M146.7 181.6h3.5M207.4 266.6h3.5M160.8 381.8h3.5M406.6 141.9h3.5M128.1 352.4h3.5M121.2 412.1h3.5M144.8 221.3h3.5M235.3 398.8h3.5M144.5 504.3h3.5M117.1 516.8h3.5M168.4 456.1h3.5M117.2 255.4h3.5M114.2 239.1h3.5M260.1 176.1h3.5M133.4 495.2h3.5M190.4 422.8h3.5M167.4 426.9h3.5M264.3 168.2h3.5M158.5 150.2h3.5M176 505.7h3.5M122.5 517.1h3.5M180.7 230h3.5M438.1 136.3h3.5M135.5 474.8h3.5M232.6 476.2h3.5M457.9 281h3.5M176.6 364.4h3.5M98.8 433.5h3.5M105.7 505.3h3.5M103.7 528.9h3.5M143.7 528.2h3.5M181.9 484.6h3.5M149.7 176.7h3.5M107.1 445.2h3.5M471.5 102.9h3.5M132.9 414.7h3.5M180.6 485.2h3.5M147.7 486.3h3.5M412.1 81.5h3.5M290.5 444.5h3.5M397.3 57h3.5M263.2 112h3.5M103.3 479.7h3.5M375.8 88.9h3.5M168.5 312.9h3.5M306.7 210.8h3.5M136.9 228.2h3.5M112.3 426.1h3.5M481.8 133.9h3.5M127.6 521.1h3.5M166.2 347.2h3.5M223.8 351.2h3.5M364.7 54.9h3.5M99.2 411.3h3.5M266.2 304h3.5M244.8 370.2h3.5M338.7 54.8h3.5M108.7 387.9h3.5M151.5 134.1h3.5M260.6 308.4h3.5M249.3 382.9h3.5M148.6 436h3.5M141.4 530.7h3.5M300.2 216.8h3.5M108.8 498.3h3.5M191.2 438.2h3.5M139 341.3h3.5M301.6 198.1h3.5M388.6 171h3.5M192.9 430.2h3.5M104.2 261.4h3.5M95.8 306.8h3.5M241.1 92.9h3.5M95.2 493.7h3.5M177.1 38.8h3.5M278.7 201.6h3.5M232.8 137.9h3.5M236.4 501.2h3.5M135.1 448.5h3.5M214.3 508.7h3.5M152.9 208.2h3.5M98.8 495.8h3.5M226.7 484.1h3.5M149.9 185.8h3.5M282.4 173.7h3.5M169.6 133.3h3.5M110.5 98.9h3.5M140.1 458.7h3.5M393.5 79.4h3.5M108.6 300.2h3.5M252.7 263.7h3.5M117.3 395h3.5M245.3 167.4h3.5M124.7 420.7h3.5M116.8 494.1h3.5M209.4 372.8h3.5M203.3 384h3.5M172.2 508.1h3.5M335.5 149.3h3.5M142.2 509.1h3.5M108.2 349.6h3.5M208.2 191.8h3.5M337.8 34.1h3.5M197.7 223.1h3.5M203.9 296.7h3.5M98.6 56h3.5M119.7 367.9h3.5M136 291.5h3.5M314.4 75.9h3.5M147.6 519h3.5M96.8 248.2h3.5M140.7 263.9h3.5M161.8 448.7h3.5M102.2 414.4h3.5M280.1 165.2h3.5M275.9 324.7h3.5M97.5 355.1h3.5M113.5 92.1h3.5M196.4 154.6h3.5M209.8 51.4h3.5M214 470.9h3.5M97.7 321h3.5M222.4 84.9h3.5M207 311.4h3.5M110.8 426.3h3.5M102.8 431.3h3.5M137.5 229.8h3.5M447.4 55h3.5M254.7 217.7h3.5M205.4 162h3.5M208 439.2h3.5M202 135.1h3.5M277.7 439.3h3.5M352.3 66.8h3.5M240.9 463.7h3.5M127 481.7h3.5M336.2 515.4h3.5M452.6 34.8h3.5M168 362.8h3.5M370.9 35.5h3.5M161.3 200.8h3.5M129.6 364.9h3.5M200.6 404.2h3.5M112 413h3.5M284.8 103.6h3.5M142.2 514.6h3.5M284.7 122.5h3.5M148 243.3h3.5M191.1 40.4h3.5M106.4 503h3.5M307.8 60.7h3.5M482.3 87.1h3.5M162.3 129.2h3.5M105.3 404.9h3.5M442.8 387.5h3.5M133.5 515.1h3.5M116.4 407.3h3.5M138.3 498.8h3.5M182.6 205.2h3.5M214.3 509.2h3.5M315.1 213.8h3.5M169 350.7h3.5M285.8 62.5h3.5M115.3 132.2h3.5M226 110.4h3.5M236.2 500.2h3.5M140.5 310.9h3.5M188.3 480.3h3.5M112.2 475.2h3.5M157.9 176.7h3.5M119.1 256.1h3.5M185.6 450.6h3.5M125.4 450h3.5M168.1 488.6h3.5M103.5 143h3.5M125.5 426.9h3.5M158.1 130.8h3.5M210.9 519.2h3.5M124 170.7h3.5M228.5 201.1h3.5M104.6 489.4h3.5M148.3 233h3.5M106.5 162.7h3.5M129.3 370.9h3.5M138 352.7h3.5M161.1 503.6h3.5M218.4 305h3.5M136.6 346.2h3.5M253.6 38.3h3.5M426.2 77.6h3.5M455.5 179.8h3.5M112.6 326.2h3.5M182.7 481.4h3.5M233.5 395.4h3.5M154.2 147.2h3.5M418.2 88.7h3.5M110.1 472.5h3.5M190 445.1h3.5M271.2 165.7h3.5M203.5 46.3h3.5M95.7 448.8h3.5M246.9 297.6h3.5M199.6 492.7h3.5M257.5 269.7h3.5M333 180.4h3.5M381.9 78.2h3.5M135.6 201.2h3.5M104 473.1h3.5M109.3 470.8h3.5M323.5 260.1h3.5M150.4 482.1h3.5M414.5 151.1h3.5M136.6 345.1h3.5M105.6 310.8h3.5M314.7 35.8h3.5M274.4 396h3.5M149.7 433.9h3.5M203.6 523.9h3.5M120.8 390.2h3.5M257.2 127.2h3.5M96.5 493.6h3.5M169.2 532.5h3.5M481.7 151.3h3.5M245 321.2h3.5M100.9 477h3.5M184.1 358.8h3.5M129.7 417.4h3.5M182 73h3.5M144.8 452.2h3.5M207.3 118h3.5M180.3 377.6h3.5M229.9 329.1h3.5M141.1 341h3.5M136.8 464.7h3.5M205.3 163.2h3.5M198.7 429.3h3.5M148.3 509.4h3.5M139.3 303.1h3.5M165.7 308h3.5M250.4 147.4h3.5M118.4 393.8h3.5M114.3 322.5h3.5M145.7 482.9h3.5M414.1 110h3.5M274.7 232.4h3.5M203.9 441.5h3.5M203.8 330h3.5M133.6 322h3.5M93.7 472.9h3.5M433.8 59.3h3.5M107.1 212.9h3.5M127.1 416.5h3.5M120.1 407.6h3.5M165.4 152.4h3.5M109.9 509.2h3.5M228.5 503.6h3.5M184.6 498.4h3.5M169.5 188.3h3.5M141.4 307.4h3.5M210.4 334.2h3.5M218.3 504.6h3.5M416.4 128.4h3.5M185.4 176.5h3.5M146 72.7h3.5M160.9 487.7h3.5M292.1 153.1h3.5M104.7 531.6h3.5M229.3 201.9h3.5M358 234.5h3.5M144.8 424.6h3.5M241.7 487.9h3.5M265.1 494.3h3.5M181.5 188.1h3.5M92.8 454.2h3.5M129.2 257.1h3.5M97.2 532.9h3.5M159.2 409.8h3.5M112.8 368.1h3.5M106.5 512.9h3.5M144.7 442.4h3.5M259.3 45h3.5M125.3 430.6h3.5M111.5 377.5h3.5M249.9 162.6h3.5M186.4 71.4h3.5M186.2 102.3h3.5M153.4 503.8h3.5M135.2 366.9h3.5M220.6 396.6h3.5M231.8 500.2h3.5M166 435.4h3.5M150.1 528.7h3.5M161.1 439.7h3.5M96.5 431.5h3.5M221.9 305h3.5M141 500.7h3.5M327.7 169.9h3.5M204.4 510.7h3.5M122.9 336.2h3.5M173.1 409h3.5M130.9 369.2h3.5M112.9 432.4h3.5M164.3 109h3.5M107.5 217.6h3.5M109.6 445.3h3.5M123.6 292.8h3.5M97.2 481.4h3.5M151.3 488.2h3.5M280.4 121.2h3.5M207.4 516.7h3.5M192.5 386.9h3.5M172.3 374.3h3.5M213.2 390.8h3.5M112.9 209.5h3.5M125.4 355.7h3.5M258.5 512.7h3.5M263 290h3.5M140.9 493h3.5M150.1 502.2h3.5M242.4 387.5h3.5M166.6 280.4h3.5M179 510.2h3.5M103.1 475.4h3.5M123.8 174.3h3.5M381.2 56.2h3.5M289.7 170.2h3.5M96 225.4h3.5M152.4 426.6h3.5M221.7 279.5h3.5M172 443.5h3.5M211.8 477.8h3.5M372.7 61.3h3.5M173.8 179.1h3.5M114.6 198.3h3.5M98.5 235.2h3.5M130.7 390.7h3.5M162 457.1h3.5M94.8 457.6h3.5M317.4 145.3h3.5M113.2 123.2h3.5M106.9 509.4h3.5M348.6 172.8h3.5M100.8 440.4h3.5M119.2 463.2h3.5M418.4 52.3h3.5M159.7 86.1h3.5M167.2 302.6h3.5M95.5 466.5h3.5M351.7 217.4h3.5M189.9 507.2h3.5M205.1 363.8h3.5M111 354.1h3.5M221.8 249.7h3.5M128.9 312h3.5M105.3 368.5h3.5M207.9 448.6h3.5M363.6 99.1h3.5M253 472.5h3.5M177.2 490.8h3.5M520.2 68.1h3.5M190.7 237.6h3.5M103.3 526.4h3.5M158.4 144.1h3.5M142.8 509h3.5M207 449.6h3.5M186.2 267.6h3.5M141.7 485.1h3.5M322.3 242.5h3.5M137.8 518.8h3.5M162.9 349.9h3.5M123.7 108.2h3.5M95.6 363.6h3.5M143.3 334.1h3.5M398.7 350.5h3.5M109.4 487.8h3.5M161 326.1h3.5M102.3 382.7h3.5M125.9 276.8h3.5M162.7 170.5h3.5M211.7 388.5h3.5M93.3 313.4h3.5M125.8 465.6h3.5M101.8 455.8h3.5M160.5 353.8h3.5M202.7 489.1h3.5M96.7 436.7h3.5M124.2 324.6h3.5M414.9 138.5h3.5M105.8 262.9h3.5M152.7 526.5h3.5M365 260.5h3.5M359.2 197.2h3.5M154.3 368h3.5M110.4 166.8h3.5M197 295.4h3.5M311.3 51.4h3.5M156.7 448.2h3.5M108.4 460.3h3.5M107.5 294h3.5M157.2 312.1h3.5M107.4 208.6h3.5M177.3 474.8h3.5M134.9 416.1h3.5M308.7 120.2h3.5M129.8 368.8h3.5M279.4 436.9h3.5M135.6 288.5h3.5M143.2 523.1h3.5M169.3 347.6h3.5M124.7 272.5h3.5M166.1 168.1h3.5M399.3 60.3h3.5M121.5 467.8h3.5M190.4 148.9h3.5M208.9 363.9h3.5M130.3 497.1h3.5M265.3 297.6h3.5M110.8 530.6h3.5M187.4 361.2h3.5M258.9 514.5h3.5M96.9 430.7h3.5M295.2 210.4h3.5M105.7 403h3.5M251.8 266.7h3.5M210.2 188.6h3.5M194.6 445.7h3.5M202.6 510.2h3.5M186.2 132.7h3.5M338.2 328.3h3.5M122.9 471.9h3.5M207.6 417h3.5M205 519.4h3.5M298.4 261.1h3.5M97 484.9h3.5M169.7 517.7h3.5M103.4 373.5h3.5M192.8 398.5h3.5M261 43.4h3.5M132 84h3.5M253.6 387.9h3.5M102.2 136.1h3.5M134.3 412.6h3.5M291.6 323.7h3.5M179 97.5h3.5M184.4 454.3h3.5M414.8 130.6h3.5M99.3 294.1h3.5M134.6 463.6h3.5M113.3 368.3h3.5M191.2 224.7h3.5M489.8 146.9h3.5M104 462.6h3.5M144.4 73.3h3.5M175.7 502.2h3.5M183.5 446.5h3.5M118.7 265.8h3.5M99.7 286.3h3.5M287.9 257.8h3.5M380.9 55.6h3.5M190.3 379.3h3.5M93.3 341.4h3.5M303.2 485.7h3.5M97.7 183h3.5M122.1 522.1h3.5M267 173.2h3.5M150.1 533h3.5M182.8 279.3h3.5M129.3 514h3.5M144 466.3h3.5M175.1 506.3h3.5M150.3 511.4h3.5M115.3 450.5h3.5M376.8 225.7h3.5M106.9 507.8h3.5M93.2 508.8h3.5M246.6 354.5h3.5M103 533h3.5M176.4 110.8h3.5M148.1 492.9h3.5M183.3 356.8h3.5M169.9 341.3h3.5M189.8 245.6h3.5M126.9 506.8h3.5M141 292.4h3.5M281.7 271h3.5M101.5 502.7h3.5M276.6 169.2h3.5M128.7 302.3h3.5M109.2 303.9h3.5M274.8 89.9h3.5M142.2 483.2h3.5M288.6 144.9h3.5M282.5 36.6h3.5M95.4 413.7h3.5M331.5 298h3.5M106.9 498.2h3.5M512.7 163.8h3.5M95 284.4h3.5M171.3 410.8h3.5M117.2 468.7h3.5M168.6 139.4h3.5M105.5 287.5h3.5M236.5 525.3h3.5M140.6 466.3h3.5M342.9 103.9h3.5M154.6 35.6h3.5M94 413.3h3.5M209.6 307h3.5M118.1 444.3h3.5M360.7 129.4h3.5M124.7 466.6h3.5M208.6 435.7h3.5M102.3 500.1h3.5M277.3 355.2h3.5M95.6 518.2h3.5M199.9 352.5h3.5M242.7 294h3.5M134.2 509.5h3.5M196.3 36.2h3.5M320 161.6h3.5M143.7 163h3.5M434.4 169.8h3.5M179 441.3h3.5M135.3 445.6h3.5M191.4 456.1h3.5M109.7 435.1h3.5M153.5 222.5h3.5M184.7 57.6h3.5M195.5 370.9h3.5M111.6 480.8h3.5M280.5 145.8h3.5M204.3 502.3h3.5M250.6 142h3.5M159.3 391.6h3.5M97.5 501.9h3.5M195.6 291.8h3.5M140.1 458.4h3.5M429.8 269.9h3.5M161.4 66.2h3.5M180.6 474.5h3.5M349.1 117.6h3.5M132.7 165.2h3.5M144.7 315.2h3.5M158.5 198.1h3.5M140.6 124.2h3.5M216.7 83.4h3.5M109.9 526.1h3.5M187.7 91.6h3.5M99.4 186.3h3.5M115.7 125.5h3.5M314 71h3.5M139.3 206.2h3.5M116.9 490.6h3.5M271.3 401h3.5M190.3 326.7h3.5M174.9 314.3h3.5M161.1 495h3.5M180.1 509.4h3.5M233.9 465.6h3.5M104.2 485.7h3.5M225.6 433.2h3.5M115.1 387.3h3.5M96.8 279.3h3.5M363.8 395.3h3.5M311.2 87.6h3.5M129.1 452h3.5M156.8 389.2h3.5M401.3 37.1h3.5M162.6 520.1h3.5M120.2 493.1h3.5M204.1 185.2h3.5M122.9 525.1h3.5M111 501.1h3.5M167.2 458.8h3.5M267.7 191.8h3.5M269.8 527.9h3.5M280.4 428.6h3.5M220.2 50h3.5M275.2 72.6h3.5M98.2 167.6h3.5M219.8 127.6h3.5M381.7 52.5h3.5M367.9 35.5h3.5M272.7 158.3h3.5M127.1 137.8h3.5M218.1 466.7h3.5M187.2 246.1h3.5M232.7 147.3h3.5M107.1 524.4h3.5M125.9 487.2h3.5M100.5 253h3.5M292.9 242.5h3.5M145.3 467.4h3.5M220.8 153.5h3.5M289.3 514.3h3.5M166.7 512.9h3.5M476.1 257.7h3.5M120.7 474.3h3.5M194 392.9h3.5M120.7 442.4h3.5M294.4 251.3h3.5M116.4 393.4h3.5M156.1 270.5h3.5M249.3 329.1h3.5M226 179.5h3.5M198.1 508.4h3.5M315.9 144.1h3.5M339.5 466h3.5M113.4 365h3.5M175.5 465.1h3.5M280.4 120.5h3.5M147.4 356.9h3.5M154.1 80.9h3.5M409.2 190.5h3.5M96.2 407h3.5M131.2 491h3.5M145.4 438.1h3.5M187.2 408.2h3.5M278.9 275.5h3.5M161.8 230.8h3.5M245.9 50.3h3.5M246.5 203.2h3.5M151 498.2h3.5M108.7 470.1h3.5M107.3 88.1h3.5M251.2 107.9h3.5M246.4 397.1h3.5M108.8 513.4h3.5M154.9 414.9h3.5M102.5 187.6h3.5M107.6 79.5h3.5M136.1 478.6h3.5M99.3 123.5h3.5M101.5 50.6h3.5M210 142.8h3.5M130.3 433.2h3.5M361.1 394.7h3.5M283.1 151.2h3.5M96.4 472h3.5M136.7 484.7h3.5M109.5 421.9h3.5M114.2 323.9h3.5M314.8 249.2h3.5M501.6 419.6h3.5M155.6 295.3h3.5M178.9 492h3.5M159.2 163.6h3.5M407.1 239.9h3.5M209.3 97.1h3.5M245.1 471.8h3.5M164.6 317h3.5M126.3 206.4h3.5M213.9 427.9h3.5M173.4 143.3h3.5M280.8 253.6h3.5M109.9 350.2h3.5M151.4 207.5h3.5M228.7 450.4h3.5M214.6 438.6h3.5M103.7 489h3.5M96 484.6h3.5M160.1 415.3h3.5M202 158.4h3.5M182.3 293.6h3.5M148 381.3h3.5M212.7 508.4h3.5M106.3 523.6h3.5M353.1 123.3h3.5M158.4 171.3h3.5M114.3 503.7h3.5M141.3 162.3h3.5M115.1 449h3.5M112.8 266.7h3.5M113.4 515.1h3.5M160.6 392.5h3.5M266 134.6h3.5M188.9 463.7h3.5M198.6 428.3h3.5M185.8 326.3h3.5M104.1 485.5h3.5M101.4 297.9h3.5M228.9 351.6h3.5M102.9 110.2h3.5M113.3 359.5h3.5M135.9 406.2h3.5M217.7 362.5h3.5M275.3 186.5h3.5M247.2 409h3.5M109.9 428.6h3.5M111.4 481.2h3.5M184.2 154.1h3.5M462.4 51.2h3.5M110.6 360h3.5M272.9 72.9h3.5M191.1 118.2h3.5M181.5 510.2h3.5M164.6 278.4h3.5M159.3 457.7h3.5M107.3 464.4h3.5M318.8 114.7h3.5M308.8 247.3h3.5M111.1 394.2h3.5M109.9 419.7h3.5M107.3 401.4h3.5M167.1 322.8h3.5M129.3 429.2h3.5M288 105h3.5M129.7 483.8h3.5M174.5 373.9h3.5M96.5 456.4h3.5M100.3 378h3.5M264.8 216h3.5M164.9 478.1h3.5M156.9 275.9h3.5M293.2 177.7h3.5M314 406.2h3.5M245.6 81.2h3.5M258.2 287.3h3.5M111.1 304.1h3.5M281 499.3h3.5M284.1 169h3.5M128.3 233.6h3.5M231 283.9h3.5M112.8 513h3.5M94 493.4h3.5M319.2 359.2h3.5M227.4 346h3.5M174 495.2h3.5M302.6 390.5h3.5M224.6 84.7h3.5M126.7 469h3.5M197 162.8h3.5M294.5 191.2h3.5M126.8 395.2h3.5M272.6 494.7h3.5M340.1 237.2h3.5M166.1 432.4h3.5M111.6 417h3.5M332.6 146.4h3.5M179.4 508.7h3.5M117 328.3h3.5M114.8 527.8h3.5M249.6 231.9h3.5M234.4 486.1h3.5M114.1 527.8h3.5M175.5 355.5h3.5M308.5 223.6h3.5M173.6 102.6h3.5M161.6 153.1h3.5M113.9 309.5h3.5M179.6 163.3h3.5M234.7 349.5h3.5M219.7 399.7h3.5M154.1 138.6h3.5M365.7 133.6h3.5M341.6 126.1h3.5M142.9 224.7h3.5M341.1 93.3h3.5M232.5 220.2h3.5M217.7 266.9h3.5M233.7 120h3.5M343.9 112.2h3.5M536.9 216.6h3.5M157 318.4h3.5M251.5 486.4h3.5M212.9 485.8h3.5M92.8 515.7h3.5M218 184.9h3.5M159.3 459.2h3.5M156.9 349.8h3.5M298.2 286h3.5M192.5 355.8h3.5M166.3 277h3.5M108.2 406.9h3.5M155.4 474.9h3.5M219.5 291.8h3.5M143.2 364.9h3.5M165.6 341.4h3.5M253 391.5h3.5M161.6 386.4h3.5M102.1 481.1h3.5M144.8 461.6h3.5M279.6 198.2h3.5M275 256.1h3.5M201.7 310.1h3.5M152.2 429.8h3.5M218.1 286.6h3.5M124.7 393.6h3.5M208.1 259.5h3.5M187.7 382.3h3.5M109.4 484h3.5M111 509.1h3.5M247.8 382.2h3.5M202.1 468.5h3.5M100.1 170.4h3.5M296.1 93h3.5M146.8 304.9h3.5M207.1 208.6h3.5M304.2 405.8h3.5M118.3 500.4h3.5M272.9 440h3.5M244 393.4h3.5M181 197.5h3.5M275.2 207.1h3.5M166.7 156.2h3.5M431.4 335.6h3.5M133.3 384.3h3.5M115.3 297.2h3.5M108 530.2h3.5M117.8 480.4h3.5M166.8 479.9h3.5M133.3 511h3.5M401.5 166.4h3.5M144.3 498.7h3.5M113.8 478.5h3.5M142.6 395.3h3.5M145.1 424.3h3.5M284.4 377.5h3.5M263.7 423.8h3.5M382.7 149.4h3.5M115 431.6h3.5M132.7 440h3.5M168.5 330.7h3.5M96.6 455.2h3.5M119.4 527.4h3.5M240.8 203.6h3.5M215.5 294.5h3.5M97.2 417.7h3.5M177.9 490.4h3.5M166.1 437.5h3.5M178.1 154.6h3.5M121.8 424.8h3.5M162.8 351.9h3.5M374.6 110.2h3.5M328 242.4h3.5M152.3 520.6h3.5M174.4 465.6h3.5M181.4 356.5h3.5M323.4 272.5h3.5M99.2 527h3.5M458.3 260.8h3.5M316.9 35.2h3.5M180.2 304h3.5M492.9 295.5h3.5M98.5 456h3.5M545.7 501.1h3.5M145.5 461.8h3.5M97.5 393.8h3.5M98.1 416.9h3.5M161.8 184.9h3.5M95.3 335.2h3.5M171.3 264h3.5M156.2 290.1h3.5M108 504.1h3.5M268.7 192.9h3.5M350.9 78.7h3.5M200.5 378h3.5M183.2 482.4h3.5M94.9 510h3.5M154.6 393.9h3.5M166.4 290.4h3.5M242 170.8h3.5M130.5 93.9h3.5M247 60.1h3.5M129.5 215.2h3.5M133.3 388.1h3.5M95.1 525.3h3.5M151.5 115.9h3.5M431.5 54.6h3.5M300 200.1h3.5M98.8 213.2h3.5M197.2 429h3.5M461.8 79.7h3.5M164.6 391.6h3.5M128.8 402.1h3.5M178.6 478h3.5M375.1 73.9h3.5M126.9 473.5h3.5M157.1 512.9h3.5M173.8 504.4h3.5M97.9 459.6h3.5M97.3 503h3.5M448.4 82.6h3.5M287.9 156.5h3.5M107.3 409h3.5M157.5 522.9h3.5M188.3 494.3h3.5M297.7 417h3.5M202.6 374h3.5M115.4 498.1h3.5M106.4 329.7h3.5M120.9 515.3h3.5M221.6 519.8h3.5M194.6 508h3.5M141.3 479.5h3.5M314.2 74.4h3.5M120.2 483.8h3.5M181.3 353.5h3.5M122.4 133.4h3.5M111 311.4h3.5M186.8 398.9h3.5M372 382.4h3.5M237.8 441.2h3.5M184.2 312.4h3.5M247.9 76.1h3.5M145 532.2h3.5M153.2 303.1h3.5M217.2 375.7h3.5M164.6 104.1h3.5M192.5 425.7h3.5M362.9 87.6h3.5M119.6 409.9h3.5M201 285.6h3.5M169.5 445.1h3.5M291.2 372.7h3.5M155.8 486.9h3.5M96.2 246.7h3.5M201.3 461.7h3.5M143.4 330.1h3.5M460.5 184.3h3.5M137.3 42.7h3.5M185 409.9h3.5M155.2 504.4h3.5M176.6 297.6h3.5M103.6 333.3h3.5M157.1 62h3.5M166.1 513.1h3.5M168.9 440h3.5M281.3 282h3.5M220.3 460.2h3.5M95.5 453.8h3.5M177.5 529.5h3.5M431.7 286.6h3.5M133.2 480.2h3.5M190.6 273.6h3.5M179.8 412.5h3.5M305.7 294.4h3.5M96 532.6h3.5M101.6 428.6h3.5M333.5 117.6h3.5M138.7 494h3.5M115.6 519.1h3.5M341.8 75h3.5M104 478.9h3.5M178.8 92.8h3.5M204.2 487.7h3.5M143.1 400.5h3.5M121.6 360.3h3.5M216.8 215.2h3.5M214.9 152.3h3.5M111.4 80.6h3.5M169.6 369h3.5M125.5 263.8h3.5M238.1 461.4h3.5M96.9 136.2h3.5M149.5 225.7h3.5M304 250h3.5M104.6 442.1h3.5M97.5 278.5h3.5M297.9 158.2h3.5M329.8 173.5h3.5M131.9 367.7h3.5M109.4 341.2h3.5M474.8 510.1h3.5M96.9 474.8h3.5M141.5 139.4h3.5M133 511.8h3.5M115.3 498.7h3.5M247.8 310.4h3.5M196.7 286.7h3.5M156.4 478.8h3.5M155.3 497.8h3.5M105 531.6h3.5M144.3 277.2h3.5M200.1 238.7h3.5M181.1 448.2h3.5M430.6 112.9h3.5M396.9 253.1h3.5M303.7 404.1h3.5M207.3 315.4h3.5M165.8 446.8h3.5M211.9 478.2h3.5M95.5 308.1h3.5M99.7 303.6h3.5M158.9 194h3.5M121.8 367.7h3.5M272.9 369.9h3.5M147.9 228.2h3.5M246.8 225.3h3.5M194.4 349.2h3.5M107.6 462h3.5M122.9 506.5h3.5M176 209.3h3.5M101.9 118.5h3.5M280.6 331.2h3.5M118.8 220.5h3.5M160.3 356.8h3.5M104.1 477.3h3.5M108.3 131.1h3.5M212.2 133.8h3.5M120.4 300.7h3.5M291.8 43.3h3.5M324.8 372.2h3.5M129.3 490.7h3.5M397.4 155.6h3.5M181.7 269.8h3.5M262.4 114.1h3.5M153 285.2h3.5M159.2 492.8h3.5M166.4 532.2h3.5M297.9 286.7h3.5M177.1 480.1h3.5M205.5 499.5h3.5M120.4 242.5h3.5M106.7 399.7h3.5M117.4 295.8h3.5M125.4 520.1h3.5M163.8 373.1h3.5M130.3 503h3.5M226.4 492.6h3.5M364.6 41.3h3.5M260.1 238.5h3.5M143 413.9h3.5M192.9 113.3h3.5M279.1 193.1h3.5M312 283.8h3.5M132.1 472h3.5M164.6 493.1h3.5M210.2 133.6h3.5M96.7 332h3.5M105 513h3.5M113.3 454.3h3.5M176.7 512.2h3.5M411.1 140.9h3.5M95.6 347.5h3.5M139.2 488.1h3.5M159.6 436.4h3.5M96.1 473.5h3.5M117.5 124.6h3.5M141.2 366.6h3.5M340.4 244.9h3.5M234.5 263.7h3.5M112.3 62.7h3.5M382.8 165.3h3.5M163.9 307.7h3.5M246.9 390.8h3.5M156.9 481.5h3.5M158.3 504.1h3.5M201.3 501.6h3.5M255.6 98.5h3.5M112.3 460.6h3.5M129.5 333.9h3.5M323.9 356.9h3.5M257.1 56.4h3.5M163.4 438.7h3.5M197.1 58.8h3.5M192.3 449.1h3.5M140.3 213.6h3.5M159.5 308.4h3.5M267.7 313h3.5M186.8 293.9h3.5M193.2 415.9h3.5M280.8 179.9h3.5M239.8 236.6h3.5M168.6 347.6h3.5M320.6 59.4h3.5M187.8 353.5h3.5M143.8 495.3h3.5M120.5 459.1h3.5M295 375.9h3.5M175.2 433.2h3.5M171.3 241.5h3.5M112.9 56.3h3.5M112.5 449.7h3.5M240.1 126.2h3.5M386 334.7h3.5M98.3 483.3h3.5M198.5 223.7h3.5M209.1 515.2h3.5M128 66.3h3.5M264.8 233.1h3.5M115.4 474.8h3.5M115.5 151.9h3.5M381.1 103.2h3.5M191.2 359.6h3.5M120 269.9h3.5M202.8 327.2h3.5M127.4 493.8h3.5M189.5 165.7h3.5M213.3 369.7h3.5M345.2 207.8h3.5M277.8 209.1h3.5M156.5 430.1h3.5M203.8 399.2h3.5M145.1 500.5h3.5M196.5 347.3h3.5M142.5 159.8h3.5M281.5 306h3.5M145.5 420.2h3.5M412.7 170.6h3.5M108.3 367.2h3.5M175.9 376.8h3.5M148.3 528.9h3.5M415.6 125.1h3.5M111 493h3.5M108 280h3.5M195.2 504h3.5M344.7 91h3.5M255.2 274.4h3.5M207.6 222.2h3.5M202 434h3.5M107.1 100.1h3.5M149.6 469.3h3.5M113.6 430.6h3.5M160.9 352h3.5M140.9 148.9h3.5M137.6 530.7h3.5M234.2 486.7h3.5M333.3 176.8h3.5M397.7 55.8h3.5M102.1 511.1h3.5M132.4 52.7h3.5M137.2 493h3.5M173 395.9h3.5M171 482.4h3.5M145.3 406.4h3.5M177.4 498.7h3.5M265.5 357.6h3.5M95.7 387.3h3.5M188.3 513.5h3.5M262.5 270.7h3.5M229.3 258h3.5M334.3 95.1h3.5M120.9 222.9h3.5M181.8 310.6h3.5M119.7 271h3.5M212.4 429.6h3.5M192.3 127.3h3.5M177.6 389.4h3.5M306.9 515.8h3.5M99.1 453.9h3.5M256.9 255.2h3.5M343.6 47h3.5M230.5 164.8h3.5M103.9 136.1h3.5M159 271.4h3.5M178.8 492.5h3.5M136.8 342.3h3.5M194.3 369.4h3.5M97.4 228.2h3.5M285.6 517.7h3.5M105.6 224.6h3.5M303 78h3.5M321.5 45.6h3.5M248.3 91.8h3.5M218.8 320.6h3.5M113.6 532.5h3.5M102.9 163.8h3.5M304.3 178.1h3.5M159.8 382.4h3.5M248.3 42.6h3.5M235.5 520.4h3.5M94.9 66.2h3.5M121.9 452.8h3.5M279.3 307.6h3.5M221.6 315.6h3.5M104.6 464.1h3.5M184.6 473.3h3.5M191.6 471.3h3.5M223.7 434.3h3.5M126.8 468.8h3.5M264.1 511.4h3.5M173.6 453.8h3.5M302.8 399.9h3.5M160.7 448h3.5M105.7 397.4h3.5M182.6 479.2h3.5M159.2 524.8h3.5M208.7 234.4h3.5M385.3 160.1h3.5M107.6 384.2h3.5M176.2 477.1h3.5M195.2 446.3h3.5M194.7 347.2h3.5M264.7 449h3.5M117.6 471.2h3.5M215.2 436.5h3.5M112.2 468.1h3.5M97.2 266.4h3.5M251.1 168.1h3.5M134.6 275.2h3.5M100.3 347.9h3.5M137.7 468.1h3.5M189 486.5h3.5M140.4 199.8h3.5M206.5 529.6h3.5M327.1 296.7h3.5M95.8 517.7h3.5M140.6 289.3h3.5M98.6 209.6h3.5M158.7 224.6h3.5M234.2 228.1h3.5M110.9 493.6h3.5M293.7 422.9h3.5M150.8 185.2h3.5M169.2 431.8h3.5M194.6 338.3h3.5M422.7 331.9h3.5M167 138.9h3.5M203.7 248.7h3.5M132.6 512h3.5M477.6 118.3h3.5M131.9 478.6h3.5M132 513.9h3.5M183.5 498.9h3.5M116.5 368.2h3.5M220.5 151.7h3.5M99.7 524.7h3.5M372.8 153.7h3.5M95.4 166.2h3.5M279.9 396.5h3.5M252.9 239.4h3.5M138.7 455.9h3.5M158.8 311.7h3.5M96 531.4h3.5M246.6 406.4h3.5M316.8 352.8h3.5M420.9 101.3h3.5M180.6 184.7h3.5M286.4 444.6h3.5M177.1 294.2h3.5M122.5 435h3.5M233.1 155.8h3.5M207 467.7h3.5M223.6 97.4h3.5M134.6 513.3h3.5M315.2 357.5h3.5M124.7 111.9h3.5M260.7 222.7h3.5M458.3 118.6h3.5M129.7 468.8h3.5M136.1 250.2h3.5M124.7 208.6h3.5M141.7 455.8h3.5M104.8 223.8h3.5M117.4 476h3.5M148.4 523.6h3.5M145.7 366.6h3.5M211.3 376.5h3.5M327.2 102.2h3.5M172.8 490.6h3.5M161 284.1h3.5M175.5 407.1h3.5M173.4 226.9h3.5M100.8 417.7h3.5M146 473.8h3.5M195.6 491.1h3.5M118.3 423.5h3.5M192 475.9h3.5M180.3 335h3.5M113.4 484.4h3.5M184.2 523.7h3.5M220.5 420.3h3.5M103.9 481.4h3.5M161.5 345.1h3.5M130 211.4h3.5M101.3 454.7h3.5M145.7 78.5h3.5M97.5 375.6h3.5M143 316.1h3.5M133.5 277.9h3.5M182.7 278.7h3.5M203.4 348.5h3.5M326 62.1h3.5M154.2 430h3.5M492.8 335.7h3.5M93.7 463.3h3.5M179.7 430.3h3.5M391.3 224.5h3.5M326.7 420.4h3.5M235 302.3h3.5M131.3 396.2h3.5M151.1 510.4h3.5M170.4 417.1h3.5M128.8 377.3h3.5M306.1 380.6h3.5M160 377.1h3.5M225.9 256.9h3.5M244.4 413.1h3.5M118.8 384.1h3.5M188.2 358.5h3.5M354.5 312.2h3.5M323 38.5h3.5M209.9 510.7h3.5M110.8 504.8h3.5M287.7 314.4h3.5M113.8 382.4h3.5M297.1 264.5h3.5M166.4 432.7h3.5M129.7 496.8h3.5M237.7 422.3h3.5M147.9 265.3h3.5M221.9 493.6h3.5M158.7 345.8h3.5M96.5 419.1h3.5M95.7 315.7h3.5M169.3 51.2h3.5M236.5 491.7h3.5M123.4 331.5h3.5M243.3 120.4h3.5M214.8 230.7h3.5M224.6 508.5h3.5M102.4 505.3h3.5M180.9 249.7h3.5M151.9 225.3h3.5M111.2 327h3.5M363.4 181.3h3.5M363.9 243.8h3.5M199.8 65.3h3.5M170.7 469.6h3.5M204.9 218.7h3.5M112.7 106.5h3.5M180.2 437.9h3.5M95.2 362.2h3.5M119.1 471.1h3.5M233.3 366.6h3.5M134.6 515.7h3.5M117.6 273.2h3.5M166.9 144.3h3.5M192.6 251.4h3.5M161 419.9h3.5M130.5 201.8h3.5M114.3 130.1h3.5M121.1 250.1h3.5M346.2 57.3h3.5M326.4 235h3.5M112.9 433.7h3.5M153.6 482.4h3.5M191.4 494.7h3.5M167 502.2h3.5M168 520.3h3.5M190.5 432h3.5M193.6 83h3.5M240.2 199.6h3.5M196.8 375.5h3.5M221.8 358h3.5M128.6 507.9h3.5M226.9 227.7h3.5M105.8 478.6h3.5M142.3 472.7h3.5M111.4 456.7h3.5M136.9 479.2h3.5M95.2 254.1h3.5M404.6 65h3.5M150.3 461.5h3.5M228.4 453.6h3.5M129.5 505.1h3.5M97.6 396h3.5M157 480.1h3.5M268.6 251.8h3.5M203.8 371.7h3.5M115.4 388h3.5M215.3 297.8h3.5M229.4 286.2h3.5M154.1 530.2h3.5M156.2 153h3.5M255.3 38.9h3.5M129.2 104.4h3.5M130.2 314.4h3.5M136.4 495.4h3.5M198.3 275.2h3.5M490.2 82.9h3.5M193.8 434.8h3.5M106.5 419.5h3.5M182.1 54.8h3.5M282.4 194.9h3.5M226.3 457.3h3.5M125 359.9h3.5M112.4 274.1h3.5M259 116.3h3.5M135.6 294.7h3.5M199.1 147.9h3.5M112 337h3.5M131.9 338.4h3.5M231.5 60.6h3.5M215.8 436.2h3.5M315.1 156.5h3.5M137.5 525.8h3.5M212.6 271.1h3.5M153.6 255.8h3.5M328 216.1h3.5M384.1 79.1h3.5M108 466.4h3.5M121.9 476.2h3.5M123.3 487.1h3.5M173.5 299h3.5M455.3 108.6h3.5M277.7 309.4h3.5M141.5 477.4h3.5M124.2 170.2h3.5M167.3 508.9h3.5M239.5 106.9h3.5M143.6 489.4h3.5M212.5 423.7h3.5M93 184.4h3.5M169.7 365h3.5M111.8 243h3.5M136.1 178.8h3.5M107.2 346.9h3.5M104.9 485.4h3.5M92.8 482.5h3.5M274.1 351.8h3.5M118.4 467h3.5M194.9 486.8h3.5M153.4 474.7h3.5M153.1 511.9h3.5M160.1 156.4h3.5M207.3 452.6h3.5M172.2 227.1h3.5M131.9 423h3.5M176.8 348.8h3.5M189.4 162.1h3.5M119.6 520h3.5M187 203.5h3.5M131.6 197.1h3.5M147.2 467.5h3.5M374.5 127.4h3.5M167.3 298.7h3.5M227.5 48.1h3.5M138.4 491.2h3.5M132.3 472h3.5M178.1 502.5h3.5M146.9 245.3h3.5M207.3 451.8h3.5M270.4 107.5h3.5M167.3 451.7h3.5M112.7 452.2h3.5M121.5 532.2h3.5M233.2 495.4h3.5M101.7 487.6h3.5M287.8 218.9h3.5M184.3 511h3.5M259.9 256.3h3.5M141.1 237.3h3.5M198.5 484.3h3.5M173.4 427.1h3.5M233.2 358.2h3.5M340.9 298.4h3.5M158 491.3h3.5M354.5 321.1h3.5M313.6 47.7h3.5M189.7 118.5h3.5M470.2 66.5h3.5M200.1 273.9h3.5M200.1 500.6h3.5M178.2 165.3h3.5M129.7 158.3h3.5M148.4 487.4h3.5M231.8 475.6h3.5M94.5 500.3h3.5M258.7 51.6h3.5M137.5 412.6h3.5M294.2 335.6h3.5M149.8 324.2h3.5M180.8 438.4h3.5M336.3 144.5h3.5M289.9 380.2h3.5M179.5 358.7h3.5M214 120.1h3.5M102.3 483.5h3.5M284.5 220.1h3.5M244.8 230.2h3.5M197.9 101.8h3.5M99.6 468.2h3.5M124.3 479h3.5M123.3 485.7h3.5M118.8 387.3h3.5M120.9 479.5h3.5M143.9 373.5h3.5M111.7 313.4h3.5M149.3 281.1h3.5M126.7 49h3.5M154.4 419.1h3.5M201 487.2h3.5M214 443.2h3.5M142 425.3h3.5M184.6 132.9h3.5M215 296.5h3.5M188.3 510.7h3.5M143.4 201.4h3.5M175.5 464.1h3.5M120 519.3h3.5M148 362.4h3.5M114.2 522.9h3.5M240.3 233.2h3.5M120.9 442.2h3.5M194.3 499.4h3.5M212.4 438h3.5M297.7 444.6h3.5M108.2 363h3.5M99.7 479.9h3.5M127.6 529.1h3.5M225.4 231.2h3.5M351.9 108.5h3.5M257.1 525.2h3.5M455.3 420.2h3.5M129.3 455h3.5M208.6 449.3h3.5M220.9 210.3h3.5M197.3 63.2h3.5M217.7 430.5h3.5M199.1 404.1h3.5M342.2 377.1h3.5M205 432.8h3.5M115.4 343.1h3.5M390.7 159.7h3.5M258.6 335.7h3.5M227.4 40.7h3.5M237.5 150.2h3.5M193.6 520.4h3.5M142.6 411.2h3.5M224.7 467.8h3.5M440.5 109.5h3.5M98.9 444.9h3.5M116.6 255.1h3.5M116.8 282.8h3.5M159.6 338.1h3.5M167.8 352.6h3.5M138.6 505.4h3.5M111 377.4h3.5M100.1 348.4h3.5M201.3 71.3h3.5M102.3 473.5h3.5M195.4 472.2h3.5M300.6 73.8h3.5M376.4 137.9h3.5M422.1 122.4h3.5M115.5 247.1h3.5M124.7 521.6h3.5M168.7 345.6h3.5M225.9 298.5h3.5M210.3 170h3.5M233.1 166.9h3.5M182 176.8h3.5M292.9 147h3.5M168.6 305h3.5M133.4 361.3h3.5M239.8 139.6h3.5M105.8 513.2h3.5M442.3 64h3.5M344.6 124.2h3.5M173.2 386.4h3.5M264.6 399.9h3.5M150.2 383.9h3.5M103.8 408h3.5M206.4 401.2h3.5M179.3 370.8h3.5M302.6 295.1h3.5M219.9 257.5h3.5M203.7 477.9h3.5M93 521.3h3.5M140.9 432.6h3.5M130.9 224.4h3.5M97.8 350.4h3.5M428.3 118h3.5M169.9 492.5h3.5M117.3 493.7h3.5M139.7 455.3h3.5M182.7 242.4h3.5M110.6 402h3.5M141 420.9h3.5M325.1 344.2h3.5M111.5 346.8h3.5M165 508.2h3.5M272.5 320.1h3.5M211.2 377h3.5M125.2 420.5h3.5M217.2 159h3.5M160.1 216.5h3.5M330 126.5h3.5M209.2 185.3h3.5M135.7 434.1h3.5M157 520.6h3.5M144 332.4h3.5M198.6 353.6h3.5M209.6 359.6h3.5M206.7 141.2h3.5M163.3 392.7h3.5M198.3 463.1h3.5M198.6 56.6h3.5M459.4 75.6h3.5M225.4 365.2h3.5M108.9 471.3h3.5M101.4 342.5h3.5M294.8 245.5h3.5M200.9 498.9h3.5M172.5 384.5h3.5M202.5 448h3.5M119.4 206.1h3.5M94.4 486.6h3.5M107.7 41.9h3.5M134.4 522.8h3.5M390.2 370.6h3.5M127.8 488.3h3.5M215.3 331.8h3.5M327.5 146.6h3.5M167.5 220h3.5M223.8 357.7h3.5M140.2 140.2h3.5M208.5 248.8h3.5M293.1 282.1h3.5M146.7 508.8h3.5M145.9 233.4h3.5M401.4 134.1h3.5M123 518.3h3.5M194.5 265.4h3.5M121.6 504.8h3.5M134.1 466h3.5M107 496.1h3.5M409.5 163h3.5M465.5 51h3.5M129.3 265.1h3.5M286 151.3h3.5M426.4 40.1h3.5M181.8 381.3h3.5M373.9 183.2h3.5M192 162.6h3.5M228.3 366h3.5M174.2 430h3.5M106.5 164.4h3.5M94.2 207.9h3.5M118.7 505.3h3.5M163.4 100.5h3.5M132.6 431.6h3.5M201.7 135h3.5M314.2 136h3.5M350.5 390.5h3.5M329.9 135.9h3.5M101 321.1h3.5M356.2 104.4h3.5M252.5 208h3.5M252.1 353.3h3.5M95.1 177h3.5M158.8 392h3.5M431.5 165.3h3.5M403.9 249.4h3.5M177.6 433.2h3.5M186.2 171.6h3.5M109.4 238.9h3.5M112.6 399.6h3.5M242.1 446.4h3.5M158.9 374.4h3.5M105.7 465.3h3.5M271.1 70.1h3.5M121.7 212.5h3.5M136.6 406.5h3.5M112.4 173h3.5M103.7 421.5h3.5M122.5 436.5h3.5M124.4 138.5h3.5M458.2 222.7h3.5M103.8 479h3.5M142.7 115.9h3.5M143.8 197.5h3.5M107.6 515.6h3.5M342.5 169.1h3.5M341.2 222.7h3.5M371.2 111.2h3.5M154.8 339.3h3.5M99.6 449h3.5M382.1 83.6h3.5M255.3 54.3h3.5M134 425.5h3.5M126.5 444.5h3.5M183.7 503h3.5M143.8 241.4h3.5M307.2 397.3h3.5M134.1 429.7h3.5M276.5 78.3h3.5M243.7 456.9h3.5M166.7 72.2h3.5M110.2 476.9h3.5M245 439.6h3.5M272 484.2h3.5M136 272.3h3.5M239.7 296.9h3.5M321.7 181.7h3.5M170.2 361.4h3.5M98.8 441.3h3.5M136.9 421.4h3.5M120.2 438.2h3.5M235.5 437.4h3.5M184.4 292.3h3.5M125.7 346.2h3.5M218.3 470.4h3.5M193.2 488.2h3.5M158.5 525.4h3.5M156.5 184.3h3.5M113.3 278.3h3.5M168 498.6h3.5M128.9 211.8h3.5M111.5 521.5h3.5M120.2 326.3h3.5M109.7 417.2h3.5M140.4 506.6h3.5M264.2 388.6h3.5M95.7 208.2h3.5M97.5 206.7h3.5M371.5 51.1h3.5M146.7 529.6h3.5M99.1 354.8h3.5M188 63.1h3.5M202.5 166.4h3.5M240.8 512.6h3.5M133.8 384.4h3.5M253 266.8h3.5M122 209.1h3.5M100 170.4h3.5M211.8 97.7h3.5M212.1 229.9h3.5M218.6 92h3.5M230.4 417.9h3.5M142.5 511.7h3.5M200.1 384.2h3.5M300.7 177.5h3.5M187.2 406.9h3.5M255.8 447.5h3.5M124.1 321.6h3.5M182.4 295.9h3.5M197.2 466.4h3.5M245.4 202.3h3.5M300 93.3h3.5M117.8 194.9h3.5M157.5 265.1h3.5M211.9 292.2h3.5M316.9 417h3.5M494.3 66.9h3.5M216.8 362.6h3.5M200 487.7h3.5M112.8 235.5h3.5M134.2 221.2h3.5M109.1 411.9h3.5M99 364.3h3.5M358.9 114.7h3.5M401.7 357.1h3.5M100.3 506.7h3.5M172.1 491.9h3.5M108.9 355.7h3.5M191.9 60.2h3.5M192.3 434.1h3.5M358.7 61.2h3.5M103.5 333.6h3.5M128.5 432.5h3.5M322.9 138h3.5M102.3 188.4h3.5M187.3 448.8h3.5M133.5 515.7h3.5M248.9 419.9h3.5M216.7 214.7h3.5M135.4 324.7h3.5M110.1 279.7h3.5M119.2 209.6h3.5M147.7 414h3.5M203 387.6h3.5M357 209.5h3.5M162.5 518.1h3.5M131.7 216.6h3.5M229.6 78.4h3.5M173.8 498.4h3.5M189 345.9h3.5M247.1 116h3.5M105 302.6h3.5M169.8 77.1h3.5M115.7 193.6h3.5M111.2 275.9h3.5M371.6 202.6h3.5M240.5 334.2h3.5M317.8 129.2h3.5M122.3 203.5h3.5M284.1 349h3.5M117.4 361.1h3.5M354.3 417.2h3.5M236.2 351.8h3.5M180.4 418.7h3.5M120.3 259.1h3.5M124.3 477.6h3.5M95.5 128.5h3.5M219.1 326h3.5M226.6 240.1h3.5M181.6 270.5h3.5M157.4 234.6h3.5M145.8 454.4h3.5M423.5 375.3h3.5M212.7 71.8h3.5M179.9 336.1h3.5M173.3 412.2h3.5M127.7 353h3.5M168 466.2h3.5M175 174.4h3.5M230.7 321h3.5M439.1 91h3.5M215.3 266.9h3.5M168.5 395.8h3.5M348.4 198.6h3.5M100.2 470h3.5M212.8 490.8h3.5M120.2 208h3.5M227.9 397.7h3.5M109.8 367.7h3.5M169 131.3h3.5M315.3 156.5h3.5M188.5 398.3h3.5M454.6 119.9h3.5M133.3 369.9h3.5M161.8 218.2h3.5M148.9 441.9h3.5M96.9 519.4h3.5M104.6 335.6h3.5M178.7 422.8h3.5M209.8 509.1h3.5M146.9 487.9h3.5M230.4 500.6h3.5M281.2 105.3h3.5M228.3 365.7h3.5M143.1 428.1h3.5M230.8 135.8h3.5M141.1 490.7h3.5M237.9 405.1h3.5M132.7 367.3h3.5M268.8 487.9h3.5M132.2 333.6h3.5M408.8 77.5h3.5M190.2 306.7h3.5M207.2 438h3.5M312.5 217.9h3.5M231.2 410.5h3.5M178.5 202.3h3.5M93.8 532.6h3.5M157.9 452.2h3.5M117.8 451.8h3.5M432.9 126.2h3.5M225.1 125.9h3.5M240.1 329.8h3.5M220.6 399.1h3.5M108.2 499.5h3.5M93.5 441.3h3.5M169.7 407.6h3.5M167.4 425h3.5M122.1 439.9h3.5M336.9 202.7h3.5M150.7 159.3h3.5M148.5 385.5h3.5M157.3 472.7h3.5M250.4 379.2h3.5M122.8 479.1h3.5M97 384.3h3.5M125.3 485.5h3.5M265.7 238.2h3.5M199.5 463.1h3.5M209.8 114.6h3.5M142.3 129.1h3.5M96.6 500h3.5M130.5 306.7h3.5M435.9 110.3h3.5M285.7 164.8h3.5M127.6 397.2h3.5M134.1 458.2h3.5M181 438h3.5M197.7 77h3.5M361.6 60h3.5M140.8 311.4h3.5M100.1 414.8h3.5M159.8 177.2h3.5M137.6 526.1h3.5M178.9 132.6h3.5M116 490h3.5M241.1 71.6h3.5M330.1 117.3h3.5M237.9 450.4h3.5M101.6 90.9h3.5M111.6 507.4h3.5M157.2 445h3.5M155.2 221h3.5M104.2 391.4h3.5M176.6 427.2h3.5M135.4 438.7h3.5M109.3 505.7h3.5M126.4 240h3.5M283.3 89.9h3.5M139.4 443h3.5M122.4 247h3.5M111.6 114.4h3.5M97.4 377.9h3.5M157.6 447.1h3.5M113 200.2h3.5M135.5 501.4h3.5M149.4 88h3.5M174.5 369.4h3.5M109.6 78.8h3.5M94.9 310.6h3.5M316 213.1h3.5M141.5 454.4h3.5M128.6 424.1h3.5M137.8 468.8h3.5M299 271.1h3.5M307.9 365.4h3.5M167.5 480.8h3.5M277 44.7h3.5M113.5 500.7h3.5M180.7 286.1h3.5M136.5 473.2h3.5M457.2 73.1h3.5M113.2 246.4h3.5M171.1 523.8h3.5M150.1 498.9h3.5M470.7 203.6h3.5M153.9 378.7h3.5M208 258.5h3.5M286.9 154.6h3.5M102.3 406.7h3.5M98.8 517.8h3.5M152.5 487.6h3.5M268.9 153.8h3.5M353.5 443.3h3.5M242.1 134.2h3.5M225.8 250.1h3.5M187.8 110h3.5M170.4 361.8h3.5M104.4 466.8h3.5M200.2 445.8h3.5M127.4 224h3.5M161.6 525.8h3.5M147.2 501.4h3.5M359.3 227.9h3.5M244.2 429.5h3.5M361.4 66.3h3.5M102.4 208.5h3.5M208.6 477.2h3.5M198.3 371.5h3.5M305.4 207.9h3.5M111.3 191.9h3.5M119.4 168.1h3.5M277.1 272.9h3.5M189.8 380.9h3.5M246.9 511.9h3.5M143.8 423.4h3.5M216.7 507.1h3.5M155.1 54.6h3.5M332.2 104h3.5M307.5 202.9h3.5M93.6 220.2h3.5M201.9 34h3.5M152 517.4h3.5M126.8 124.3h3.5M273.2 477.1h3.5M105.8 295.7h3.5M244.9 69.4h3.5M191.8 236.2h3.5M105.7 456.2h3.5M195.8 469.5h3.5M97.4 392.2h3.5M173.5 471h3.5M254.7 329.4h3.5M211.1 508.5h3.5M170.8 130.5h3.5M317.3 263.4h3.5M213.7 487.5h3.5M378.6 296.1h3.5M167 486.5h3.5M93.1 46.1h3.5M95.5 502.8h3.5M105.8 220h3.5M196.3 507.5h3.5M256.4 202.7h3.5M100.9 429.9h3.5M128.5 368.6h3.5M302.9 280.3h3.5M102.9 458.8h3.5M240.7 375.3h3.5M267.3 303.6h3.5M161.1 387.6h3.5M294 409h3.5M101.4 509.2h3.5M253.4 194.4h3.5M115.9 370.9h3.5M204.9 368.1h3.5M127 132.8h3.5M195.2 437.9h3.5M177.2 212.6h3.5M338.8 399.4h3.5M110 225.7h3.5M187.4 195.5h3.5M125.3 239.1h3.5M168.4 81.5h3.5M281.8 150.2h3.5M165.4 462.9h3.5M155.2 212.7h3.5M116 349h3.5M155.1 377h3.5M162 513h3.5M130.2 493.5h3.5M224.6 106.2h3.5M151.2 456.1h3.5M301.6 383.4h3.5M116.9 206.2h3.5M236.5 233.3h3.5M438 134.2h3.5M164.3 334.7h3.5M130.4 388.2h3.5M110.1 355h3.5M116.1 522.6h3.5M111.3 423.4h3.5M94 289.7h3.5M173.9 362.2h3.5M285.1 38.1h3.5M552 145.9h3.5M197 465.6h3.5M209.1 473.5h3.5M113.6 371.4h3.5M137.4 480h3.5M131.3 217.1h3.5M298.7 289.8h3.5M218.3 231.1h3.5M239.4 412.5h3.5M319.6 66.5h3.5M207.5 436.9h3.5M199.7 284.7h3.5M375.8 44h3.5M181.3 348.1h3.5M106.9 200.9h3.5M211.4 225.9h3.5M215 434.8h3.5M134.5 347.7h3.5M155.6 264h3.5M142 499h3.5M194.1 267.4h3.5M105.2 287h3.5M126.5 452.8h3.5M131.5 515.6h3.5M112.4 462.8h3.5M197.5 349.3h3.5M191 494h3.5M118.8 525.4h3.5M134.7 527.1h3.5M213 478.2h3.5M100.9 201.4h3.5M168.1 345.5h3.5M208 470.9h3.5M228 297.1h3.5M173.8 441.5h3.5M186.5 367.8h3.5M125.9 430.2h3.5M109.5 55.8h3.5M112 394h3.5M166.8 382.7h3.5M165.7 496h3.5M110.6 444.7h3.5M95.4 532.3h3.5M166.5 425.7h3.5M103.5 325.3h3.5M285 507.6h3.5M202.2 335.9h3.5M104.4 170.8h3.5M138.1 505.4h3.5M121 256h3.5M346.8 37h3.5M132.8 331.9h3.5M125.2 528.5h3.5M115.7 397.4h3.5M219.4 202.3h3.5M144.1 120h3.5M100.3 445.1h3.5M262.2 197.4h3.5M144.3 512.4h3.5M128.1 522.6h3.5M211.7 485.4h3.5M260.9 70.5h3.5M111.2 480.4h3.5M157.4 308.6h3.5M166.9 119.9h3.5M170.7 254.2h3.5M197.3 467.9h3.5M193.6 118.4h3.5M105.7 504.5h3.5M170.4 527h3.5M97.9 319.7h3.5M182.5 113.2h3.5M393 413.1h3.5M202.1 136.5h3.5M223.5 331.5h3.5M396.6 61.7h3.5M117.3 474.1h3.5M106.9 458.8h3.5M113 393.5h3.5M125 227.4h3.5M155.6 479.7h3.5M251.3 397.9h3.5M269.3 211.6h3.5M145.2 431.7h3.5M101.1 481.6h3.5M229.1 320h3.5M196.1 389.6h3.5M295 211.9h3.5M108.7 422.4h3.5M175.9 413.2h3.5M174.3 127.9h3.5M99.9 488h3.5M161.7 437.3h3.5M126.8 206.4h3.5M172.2 505.6h3.5M121.7 479.6h3.5M116.2 185.9h3.5M178.2 500h3.5M184.5 523h3.5M186.7 390.6h3.5M157 500.9h3.5M331.6 145.1h3.5M289.1 266.2h3.5M246 333.8h3.5M101 343.4h3.5M261 408.5h3.5M128.3 510.5h3.5M128.1 518.9h3.5M145.4 479.9h3.5M157.5 319.2h3.5M95 518.1h3.5M161.9 250.1h3.5M315.1 261.9h3.5M364.5 164.4h3.5M124.7 408.7h3.5M117.2 411.9h3.5M366.1 246.2h3.5M166.9 201h3.5M190.9 471.9h3.5M178.6 532.7h3.5M148.1 305h3.5M155.9 107.1h3.5M127.2 454.1h3.5M193.7 429h3.5M325.9 99.5h3.5M104.8 449.5h3.5M144 297.4h3.5M102.8 294.7h3.5M280.3 53.4h3.5M313.3 109.7h3.5M105.1 518.6h3.5M195.8 418.9h3.5M280 49.2h3.5M191.3 61.3h3.5M472.4 62.2h3.5M105.5 526.2h3.5M174.5 40.6h3.5M240 339.7h3.5M97.6 435h3.5M144.1 241.1h3.5M250.8 359.2h3.5M202.2 492.6h3.5M129.9 450h3.5M97.2 474.2h3.5M215.7 196.5h3.5M333.3 281h3.5M110.5 405.1h3.5M217.4 224h3.5M367 162.7h3.5M213.7 491.6h3.5M238.8 282.4h3.5M236.3 211.7h3.5M292.3 434.5h3.5M125.8 480.4h3.5M347.5 56h3.5M122.9 394.4h3.5M143.1 505.2h3.5M117.1 497.4h3.5M148.4 392.1h3.5M138.6 496.4h3.5M186.2 314.8h3.5M174 407.1h3.5M290.2 399.5h3.5M237.2 342.2h3.5M289.2 101.1h3.5M98.6 356.8h3.5M182.2 493.4h3.5M195.9 399.1h3.5M152 328.2h3.5M220.6 352h3.5M256 271.4h3.5M163 143.4h3.5M276.8 159.5h3.5M129.3 349.6h3.5M243.1 301.4h3.5M198.7 370.2h3.5M141.4 199.5h3.5M268.9 159h3.5M107.6 510h3.5M301 192.6h3.5M195.5 308h3.5M143.1 519.8h3.5M274 354.7h3.5M138.2 483.3h3.5M129 448.5h3.5M279.3 125.4h3.5M123.3 513.5h3.5M127.1 366.1h3.5M109.9 408.5h3.5M225.1 48.9h3.5M117.5 169.5h3.5M262.6 203.5h3.5M202.3 466.6h3.5M181.6 505.9h3.5M123.9 318.8h3.5M98.8 463h3.5M260.3 200.9h3.5M138.7 504.4h3.5M120.3 486.2h3.5M121.5 328.1h3.5M98.6 511.3h3.5M173.9 491.1h3.5M352.9 266.8h3.5M275.7 266.5h3.5M415.8 51.3h3.5M94.6 204.3h3.5M108.7 298.3h3.5M269.2 235.4h3.5M239.8 427.5h3.5M95.2 304.9h3.5M114.4 372.4h3.5M109.4 338h3.5M105.6 403.3h3.5M320.8 293.1h3.5M151.6 268.7h3.5M145.6 523.8h3.5M209.5 422.6h3.5M374.1 113.2h3.5M98.6 508.6h3.5M301.4 153.8h3.5M242.1 352.9h3.5M96.5 354.6h3.5M278 176.8h3.5M230.3 417.1h3.5M138.8 278.7h3.5M160.8 379.7h3.5M182.5 435.9h3.5M140.9 345h3.5M135.9 68.9h3.5M141 509.9h3.5M451.9 132.3h3.5M159.5 440.6h3.5M157.1 113.6h3.5M103.3 120.2h3.5M101.3 325.4h3.5M256.2 204.5h3.5M320.3 121.9h3.5M317.7 187h3.5M153 362.3h3.5M93 302.9h3.5M217.2 120h3.5M165.1 35.6h3.5M158.4 293.2h3.5M296.8 300.5h3.5M245 353.7h3.5M332.7 95.4h3.5M129.5 460.5h3.5M492.5 126h3.5M217.6 430.7h3.5M118.8 478.2h3.5M271.4 50.6h3.5M126.2 401.9h3.5M390.8 152.9h3.5M114.2 456.4h3.5M264.3 99.4h3.5M260.5 88.5h3.5M246.1 68.2h3.5M128.4 423.6h3.5M168.6 120.4h3.5M138.3 376.3h3.5M187.8 373.9h3.5M360.4 508.8h3.5M180.5 342.4h3.5M228.4 218.7h3.5M265.8 326h3.5M162.6 383.8h3.5M117.8 435h3.5M243.2 500.9h3.5M95.5 350.1h3.5M101.7 499.4h3.5M136.3 328.4h3.5M133.5 370.8h3.5M284.4 235.6h3.5M264.1 396.4h3.5M281 208.1h3.5M230.1 510.1h3.5M228.7 300.4h3.5M129.7 358.2h3.5M160.2 489.6h3.5M364.5 140.7h3.5M287.5 451.7h3.5M190.6 315.7h3.5M114.1 508h3.5M165.4 292.8h3.5M138.2 435.3h3.5M189.8 147.8h3.5M107.1 132.3h3.5M193 209.7h3.5M234.4 329.2h3.5M182.1 392h3.5M95.2 307.6h3.5M412 293h3.5M101.6 47.1h3.5M123.1 522.8h3.5M96.8 526.5h3.5M151.1 54.6h3.5M96.5 295.7h3.5M132.9 451h3.5M157.8 396.2h3.5M125 249.1h3.5M236.8 180.4h3.5M129.8 467.4h3.5M258.5 128h3.5M128.4 462.6h3.5M166.3 251.2h3.5M100.6 320.3h3.5M193.4 506.2h3.5M109.3 487.2h3.5M114.3 449.6h3.5M251.5 471.2h3.5M290.8 227.3h3.5M171.4 299.6h3.5M137.1 266.5h3.5M135.7 216h3.5M109.6 393.6h3.5M130.5 312.9h3.5M134.2 92.8h3.5M144.7 344.4h3.5M125.3 231.4h3.5M248 419.9h3.5M390.5 129.1h3.5M111.6 214.7h3.5M188.3 335h3.5M115.1 395.3h3.5M161.1 484.9h3.5M182.3 468.9h3.5M412 131.4h3.5M190.6 199h3.5M145.3 487.4h3.5M302.8 74.3h3.5M111.5 520h3.5M105.4 515.7h3.5M126.5 358.1h3.5M223.9 327.2h3.5M158.7 286.4h3.5M136.5 435.2h3.5M124.4 316.9h3.5M233.3 194.8h3.5M177 512.6h3.5M476.5 95.6h3.5M192.8 508.3h3.5M93.1 225.9h3.5M213 391.2h3.5M362.6 248.5h3.5M130.1 369.7h3.5M116.5 381h3.5M301.9 79.8h3.5M95 370.6h3.5M188.5 177.3h3.5M111.6 166.4h3.5M308.1 242.1h3.5M301.2 223.6h3.5M174.5 492.6h3.5M378.7 52.5h3.5M445.8 59.1h3.5M190.7 211.8h3.5M195.9 165.9h3.5M258.7 358.6h3.5M152.2 424.5h3.5M183 363.6h3.5M279.4 242h3.5M236.9 249.7h3.5M93.6 356.2h3.5M235.2 135.4h3.5M261.5 203.2h3.5M324.4 268.5h3.5M96.7 244.2h3.5M283.4 60.6h3.5M115.5 526.6h3.5M159 236.4h3.5M153.9 514.8h3.5M181.1 489.3h3.5M198.1 165.1h3.5M136.5 163.1h3.5M139.9 395.7h3.5M164.3 501.9h3.5M392.7 78.2h3.5M181.9 477.9h3.5M129 268.1h3.5M145.5 276.6h3.5M114.7 454.7h3.5M115.5 339.4h3.5M309.8 410.9h3.5M115 371.1h3.5M167.6 356.1h3.5M170.2 441.3h3.5M108.2 494.7h3.5M253 322.9h3.5M191.9 239.6h3.5M189 514.5h3.5M98.3 384h3.5M144.4 394.5h3.5M226.6 360.7h3.5M281.5 148.9h3.5M156.8 483.8h3.5M132.1 518.4h3.5M214.7 108.1h3.5M186.9 501.2h3.5M365.6 307.7h3.5M137.5 370.7h3.5M192.2 40.5h3.5M93.5 520.3h3.5M271.2 476.3h3.5M137.9 458.7h3.5M343.1 95.5h3.5M176.7 114h3.5M129.7 464.3h3.5M94.2 499.9h3.5M200.3 224.9h3.5M231.8 334.9h3.5M452.3 367.5h3.5M213.9 220h3.5M101.5 430.3h3.5M112 496.8h3.5M184.3 407.8h3.5M153.4 513.8h3.5M247.3 370.7h3.5M97.4 482.1h3.5M102 514.2h3.5M103.6 382.6h3.5M137.3 428.8h3.5M208.6 293.4h3.5M260.2 458.5h3.5M116.2 205.3h3.5M257.2 317.9h3.5M130.6 502.6h3.5M121.7 475.2h3.5M204 433h3.5M388.4 253h3.5M327.5 156.1h3.5M148.2 189.2h3.5M302.2 197.2h3.5M332.2 194.6h3.5M106.9 524.4h3.5M170.2 502.7h3.5M148.4 299.4h3.5M141 194.4h3.5M148.1 264.5h3.5M190.8 171.4h3.5M277.5 341.4h3.5M283.2 514.7h3.5M271.3 71.6h3.5M197.2 106.9h3.5M116.9 345.1h3.5M220.8 344.7h3.5M402.2 81.1h3.5M167.3 333.9h3.5M181.3 337.8h3.5M152.7 469.9h3.5M241.8 145.5h3.5M362.9 104.8h3.5M220.5 483.2h3.5M152.9 365.4h3.5M125.7 194.8h3.5M176 180.2h3.5M201.8 300.2h3.5M121.3 518.9h3.5M122.1 482.7h3.5M176.7 466.8h3.5M189.2 525.3h3.5M115.1 112h3.5M437.9 52.5h3.5M307.9 217.2h3.5M119.4 338.7h3.5M264.5 243.5h3.5M254.9 270.7h3.5M150 503.3h3.5M212.5 148.2h3.5M158.7 508h3.5M253.5 159.2h3.5M218.1 450.5h3.5M124.8 448.9h3.5M353.3 123.7h3.5M108 478.3h3.5M100.2 513h3.5M148.7 533.6h3.5M143 103.7h3.5M172.5 64.9h3.5M198.9 414h3.5M167.2 236.2h3.5M102.2 379.9h3.5M474 41.1h3.5M309.7 254.4h3.5M106.2 240.7h3.5M436.2 79.2h3.5M181.5 511h3.5M131.8 52.9h3.5M168.7 502.7h3.5M278.8 181h3.5M115.1 436h3.5M113.7 512.7h3.5M162.8 504h3.5M309.5 229.2h3.5M116.9 500.2h3.5M126.2 432.8h3.5M433.3 254.7h3.5M111.8 202.1h3.5M232.7 397.8h3.5M347.4 101.9h3.5M198.2 256.6h3.5M126 349.8h3.5M164.4 297.3h3.5M226.4 309.8h3.5M246.7 406.7h3.5M154.6 209.3h3.5M106.6 445.3h3.5M271.1 461.4h3.5M124 488h3.5M169.3 456.1h3.5M208.6 324.9h3.5M174.9 440h3.5M130.2 193h3.5M239.3 505.8h3.5M126.9 525h3.5M99.2 471.9h3.5M245.4 485.8h3.5M215.5 398.5h3.5M178.9 374.2h3.5M422 113.7h3.5M159.4 494.9h3.5M182.4 180.9h3.5M201.9 425.8h3.5M142.3 216.6h3.5M191.5 211.5h3.5M245.3 300.1h3.5M126.2 201.1h3.5M237.2 404.7h3.5M220.8 108h3.5M352.1 200.6h3.5M151.3 429h3.5M107.5 480.9h3.5M136.2 493.6h3.5M242.3 84.7h3.5M119.7 507h3.5M297 369.1h3.5M125.1 443.5h3.5M100 509.3h3.5M236 187.5h3.5M282.5 227.4h3.5M129.7 462.3h3.5M125.2 481.8h3.5M257.6 166.1h3.5M248.4 206.1h3.5M142 351.9h3.5M261.3 312.3h3.5M170.3 401.8h3.5M266.4 52.4h3.5M411.6 251.9h3.5M181.7 150.2h3.5M217.8 460.8h3.5M170.5 436.5h3.5M200.8 423.1h3.5M137.7 352.4h3.5M212.1 294.2h3.5M187.2 419.9h3.5M273.4 323.2h3.5M195 110.8h3.5M209.2 191.5h3.5M140.3 59.4h3.5M143.9 495.5h3.5M110 254.8h3.5M166.1 497.1h3.5M108.7 462.1h3.5M111 107.5h3.5M157.6 281.5h3.5M184.3 450.3h3.5M273.5 201.5h3.5M259.4 234h3.5M148 234.3h3.5M99.2 325.4h3.5M170.6 435.3h3.5M164.8 282.3h3.5M143.9 482.6h3.5M128.2 174.7h3.5M278.3 230.8h3.5M145.1 386h3.5M132.3 465.1h3.5M233.6 330.3h3.5M196.8 477h3.5M159 418h3.5M122.6 517.8h3.5M124.3 369.7h3.5M210.5 221.4h3.5M101.7 452.8h3.5M228 429.4h3.5M236.6 208h3.5M93.2 456h3.5M251.9 39.1h3.5M443.5 221.4h3.5M251.2 399.1h3.5M98.8 473.1h3.5M233.3 416.5h3.5M329 132.5h3.5M107.6 194.1h3.5M182.3 505.4h3.5M102.2 117.9h3.5M233.9 480h3.5M122.9 354.3h3.5M250.8 462.7h3.5M118.7 513h3.5M222.5 496.1h3.5M169.9 456.6h3.5M209.5 507.7h3.5M98.6 373.1h3.5M106.6 153.5h3.5M219 508h3.5M187.8 294.3h3.5M117.1 497.7h3.5M194.3 123.4h3.5M165.1 525.4h3.5M97.9 388.3h3.5M196.5 345.1h3.5M295.9 275.2h3.5M154.4 451.5h3.5M260.3 255h3.5M230.6 228.6h3.5M113.3 219.7h3.5M110.6 78.9h3.5M102.6 417.6h3.5M95.5 200.2h3.5M258.9 66.3h3.5M162.9 467.6h3.5M184 291h3.5M145.4 319.9h3.5M172.9 454.1h3.5M155.2 113h3.5M204.9 222.4h3.5M120.1 277.7h3.5M159.1 266.8h3.5M167.1 523.8h3.5M165.8 163.2h3.5M209.3 207.8h3.5M242.6 90.6h3.5M159.1 363.7h3.5M152.4 491.2h3.5M252.4 101.8h3.5M115.6 497.7h3.5M274.1 190.9h3.5M366.4 89.4h3.5M103.5 409.7h3.5M443 150.3h3.5M162.3 392h3.5M135.6 161.8h3.5M208.9 233.4h3.5M197.5 399.8h3.5M311.7 306.8h3.5M161.9 401.2h3.5M355.5 234h3.5M284.5 148h3.5M128.9 396.6h3.5M406.2 253.7h3.5M124.1 212.8h3.5M197.6 224.4h3.5M139 200.3h3.5M207.6 329.4h3.5M159.6 164.9h3.5M131.2 413h3.5M306.5 142.9h3.5M156.5 416.1h3.5M172.1 285.6h3.5M184.8 447.1h3.5M173.8 358.8h3.5M177 252.8h3.5M114.6 488.6h3.5M188 282.5h3.5M185.4 190.9h3.5M209 265.3h3.5M100 406.1h3.5M173.9 485.3h3.5M103.4 428.5h3.5M175.5 180.2h3.5M271.7 63.1h3.5M124.3 226h3.5M333.8 243.1h3.5M98.4 464.3h3.5M303.5 178.2h3.5M360.7 471.2h3.5M133.5 405.5h3.5M194.1 372.7h3.5M127.3 443.8h3.5M218.1 285.4h3.5M211.1 300.4h3.5M202.2 120.4h3.5M350.9 57.6h3.5M381.9 78.1h3.5M210.9 470.8h3.5M191.8 291.9h3.5M157.4 434.2h3.5M159.8 471.7h3.5M205.2 184.8h3.5M144.2 451.1h3.5M236.1 502.8h3.5M134.2 235.1h3.5M95 350.6h3.5M116.4 528.3h3.5M195 187.5h3.5M114.1 531.9h3.5M227.1 517.9h3.5M413.6 68.3h3.5M320.4 235.5h3.5M348.4 83.7h3.5M302.5 109.8h3.5M135.1 459.6h3.5M251.9 106.9h3.5M103.7 401.4h3.5M172.9 461.3h3.5M118.1 302.3h3.5M280.1 260.2h3.5M205.5 224.3h3.5M262.1 320.3h3.5M110.7 277h3.5M145 388.7h3.5M326.9 61.5h3.5M181.8 473.8h3.5M335.4 63.8h3.5M95.1 497.4h3.5M151.8 410.1h3.5M309.8 93.5h3.5M190.7 131.7h3.5M205.1 65.6h3.5M213.4 313.8h3.5M217.1 222.6h3.5M306.5 221.4h3.5M189.8 421.5h3.5M113.2 325.4h3.5M114.2 510.4h3.5M376.9 195.7h3.5M280 35.4h3.5M149 207.8h3.5M126 423.4h3.5M283.4 242.2h3.5M182.9 193.2h3.5M117.1 351.9h3.5M241 390.2h3.5M262.4 140h3.5M129.4 425h3.5M109.7 406.8h3.5M119.7 283h3.5M205.6 412.6h3.5M194.7 343.5h3.5M241.2 243.7h3.5M121.9 529.5h3.5M151.2 291.3h3.5M275.6 429.2h3.5M198 224h3.5M117.9 187.6h3.5M173.7 504.9h3.5M125.4 291.3h3.5M125.4 459.2h3.5M134.1 522.9h3.5M107.9 332.2h3.5M289 216.2h3.5M245.2 100.8h3.5M247.3 493.7h3.5M277 375.2h3.5M98.9 387.9h3.5M112.9 446.6h3.5M204.5 88.9h3.5M189.1 525h3.5M114.6 407.9h3.5M101.3 263.1h3.5M444.2 108.6h3.5M227.4 95.8h3.5M411.8 90.9h3.5M315.9 176.1h3.5M245.1 106.6h3.5M98.5 195.8h3.5M444.6 115.6h3.5M138.7 34.4h3.5M218.7 269.5h3.5M192.3 337.7h3.5M203.8 516.1h3.5M100.1 527.2h3.5M313.9 220.8h3.5M250.8 166.9h3.5M140.4 231h3.5M251.8 482.6h3.5M113.7 189.6h3.5M221.5 103.2h3.5M148.7 520.7h3.5M109.3 273h3.5M369.8 46.4h3.5M184.1 195.5h3.5M109.6 360.5h3.5M276.1 236h3.5M298.5 283.2h3.5M374.3 36h3.5M387.1 56h3.5M142.5 292.7h3.5M167.3 477.1h3.5M150.2 320.1h3.5M177.2 457.2h3.5M139.4 516.8h3.5M214.2 153h3.5M308 375.4h3.5M200.9 41h3.5M101.6 460.5h3.5M274.1 235.2h3.5M189.4 141.7h3.5M119 408.2h3.5M97.1 511.2h3.5M192.9 461.3h3.5M98.6 245.3h3.5M93.9 159.1h3.5M123.3 446.7h3.5M148 426.8h3.5M159.9 82.2h3.5M145.4 530.2h3.5M281.5 438.7h3.5M266.2 55.8h3.5M141.8 271h3.5M195.3 264h3.5M142.9 413.5h3.5M293.6 195.5h3.5M466.1 59.8h3.5M174.8 414h3.5M130.8 531.8h3.5M152.9 312h3.5M145.8 428.7h3.5M119 405.5h3.5M93 423h3.5M161.3 220.2h3.5M124.8 496.5h3.5M153.3 512.8h3.5M154.4 508.4h3.5M188.1 451.5h3.5M134.6 501.8h3.5M182 354.8h3.5M139.4 418h3.5M253.3 375.1h3.5M125.4 239.7h3.5M263.6 262.8h3.5M95.4 429.3h3.5M112.5 424.3h3.5M197.8 502.8h3.5M176.7 311.5h3.5M102.2 360.7h3.5M180.7 383.6h3.5M265.5 159.4h3.5M136.8 511.1h3.5M174.8 345.8h3.5M502.5 88.7h3.5M121 382.5h3.5M306.2 160.8h3.5M250.4 48.3h3.5M131.6 492h3.5M231.9 233.1h3.5M321 127.4h3.5M92.9 238.3h3.5M283.7 263.1h3.5M109.1 435.8h3.5M172.5 531h3.5M118.9 471.1h3.5M120.6 522.6h3.5M163.8 197.4h3.5M129.7 431.6h3.5M104.5 253.5h3.5M99.2 520.3h3.5M354.7 327.3h3.5M177.2 522.9h3.5M411.7 262.5h3.5M121.2 237.1h3.5M226.7 512.6h3.5M401.4 114.9h3.5M331.7 202.2h3.5M167.6 476.3h3.5M290.7 50.1h3.5M165.2 323.9h3.5M143.9 90.9h3.5M214.6 495.5h3.5M351.5 244.8h3.5M183.4 451.7h3.5M268 161h3.5M282.7 45.5h3.5M111.5 61.9h3.5M295.8 271.6h3.5M328.5 212.4h3.5M183.8 412h3.5M249.3 507.1h3.5M204.4 388.1h3.5M117.9 437.7h3.5M200.5 282.4h3.5M238.3 277.5h3.5M158 451.9h3.5M193.1 356.2h3.5M187 41.9h3.5M145.3 409.1h3.5M265.2 468.2h3.5M492.3 87.6h3.5M111 419.7h3.5M190.6 477h3.5M153 495.7h3.5M228.3 409.9h3.5M228.5 162.4h3.5M190.3 351.4h3.5M249.7 90h3.5M156.3 426.7h3.5M174.8 111.3h3.5M172.1 260.8h3.5M182.2 36.6h3.5M182.4 175.6h3.5M407.6 125h3.5M179.5 367h3.5M125.9 341.3h3.5M103.3 394.3h3.5M304.9 49h3.5M299.2 204.5h3.5M139 251.7h3.5M223.5 333.2h3.5M304.7 133.9h3.5M455.4 385.9h3.5M185.2 81.9h3.5M124.1 529.1h3.5M122.5 403.6h3.5M106.2 335.6h3.5M223 190.5h3.5M107.7 101h3.5M144.3 509.7h3.5M122.8 416h3.5M274.3 327.2h3.5M140.8 394.8h3.5M119.8 487.2h3.5M152.8 423.6h3.5M178.8 159.2h3.5M177.6 505.1h3.5M227.4 141h3.5M124 284.7h3.5M122.3 323.3h3.5M180.9 424h3.5M138 408.5h3.5M144.6 103.8h3.5M182 228.3h3.5M141.3 509.3h3.5M214.1 397.9h3.5M109.9 482h3.5M122.1 471.1h3.5M177.5 383.4h3.5M127.7 523.1h3.5M177.5 284h3.5M135 174.4h3.5M184.3 453.4h3.5M211.4 381.2h3.5M282.7 134.2h3.5M280.3 382.6h3.5M188.8 389.7h3.5M121.4 386.2h3.5M110.7 410.9h3.5M263.5 92.6h3.5M326.6 133.1h3.5M126.7 454.8h3.5M159.2 488h3.5M229.7 259.7h3.5M222.3 311.8h3.5M187.8 452.1h3.5M112.7 514.8h3.5M102.5 320.9h3.5M171.2 477.3h3.5M153.2 410.4h3.5M108 519.5h3.5M108.8 529.7h3.5M160.7 480.8h3.5M102.2 152.4h3.5M154.4 447.6h3.5M139.2 302.4h3.5M100.7 251.7h3.5M182.6 517.8h3.5M120.6 66.5h3.5M375.7 147h3.5M191.4 504.1h3.5M96.5 392.6h3.5M123.4 533.9h3.5M115.9 198.6h3.5M190.9 421.2h3.5M123.6 519.9h3.5M312.8 249.9h3.5M291.3 378.5h3.5M230.7 221.3h3.5M300.4 364.4h3.5M271.7 287.8h3.5M217.8 445.3h3.5M172.6 516.9h3.5M112.2 476h3.5M100.9 194.2h3.5M95.3 450h3.5M94.7 345.9h3.5M191.9 73.4h3.5M203.7 257.8h3.5M102.4 402.8h3.5M402.4 35.8h3.5M200.4 442.5h3.5M115.2 430.4h3.5M418.3 72.3h3.5M178.5 460.6h3.5M137.1 406.6h3.5M117.9 504.3h3.5M262.1 43.2h3.5M188.8 213.4h3.5M337.2 533h3.5M182.7 446.8h3.5M117.8 291.8h3.5M351.3 90.3h3.5M102.5 459.4h3.5M321.5 379.6h3.5M104.7 524.7h3.5M143.3 210.4h3.5M158.2 497.1h3.5M288.1 124.7h3.5M192.6 429.2h3.5M205.6 429h3.5M234.9 302h3.5M106.6 387.2h3.5M98.3 417.2h3.5M99 339.2h3.5M246.4 491h3.5M168.5 62.2h3.5M357.6 341.9h3.5M215.9 81.3h3.5M193.3 84.2h3.5M228.3 486.5h3.5M172.7 429.1h3.5M270.7 418h3.5M129.8 453.4h3.5M182.8 422.2h3.5M120.1 522.5h3.5M132 532.6h3.5M163.8 524.7h3.5M134 309.4h3.5M102.3 130.6h3.5M236.7 202.5h3.5M217 306.5h3.5M143.9 92.9h3.5M120.2 352.2h3.5M154.4 527.6h3.5M102.8 370.7h3.5M323.9 78.5h3.5M126.3 478.4h3.5M172.4 407.3h3.5M94.4 472.6h3.5M207.5 339.8h3.5M138.5 389.5h3.5M267.8 179.2h3.5M134.2 309.1h3.5M183.2 250.9h3.5M193.9 332.3h3.5M546.1 204.4h3.5M200.7 303.1h3.5M226.5 344.1h3.5M115 282.3h3.5M96.4 459.2h3.5M95.5 520.8h3.5M97.4 499.8h3.5M384.5 75.1h3.5M107.2 450.2h3.5M190.5 381.5h3.5M201.3 207.4h3.5M93.8 506.7h3.5M98.2 159.7h3.5M140.9 437.3h3.5M188.9 334.5h3.5M180.7 217.7h3.5M133.9 443.6h3.5M195.7 459.3h3.5M143.5 387.7h3.5M159.9 368.3h3.5M96.1 442.8h3.5M108.1 48h3.5M125.2 221.2h3.5M235.7 270.1h3.5M372.4 286.6h3.5M178.3 454.2h3.5M387.4 201h3.5M124.5 72.9h3.5M193.5 243h3.5M197.4 514h3.5M374 151h3.5M257.8 108.7h3.5M243.7 250h3.5M373.2 294.8h3.5M210.1 385.9h3.5M208 239.9h3.5M208.9 510.8h3.5M195.5 371.9h3.5M417.8 73.2h3.5M116.7 430.8h3.5M117.7 492h3.5M248.3 217.6h3.5M305.4 124.5h3.5M187.5 382.1h3.5M147.4 235.7h3.5M255.3 374.1h3.5M159.7 148.5h3.5M228.5 472.6h3.5M195.9 257.5h3.5M103 405.5h3.5M171.7 174.8h3.5M212.2 375.8h3.5M120.7 506.6h3.5M234.6 469.5h3.5M237.6 51.4h3.5M113.2 528.6h3.5M155.3 185.7h3.5M106.3 531.7h3.5M159 522.7h3.5M248.1 486.1h3.5M105.8 402.6h3.5M116.8 435h3.5M223.2 407.2h3.5M135.9 263.4h3.5M114.1 478.9h3.5M264 449.6h3.5M464.8 158.9h3.5M253.9 224.4h3.5M206.1 347.8h3.5M197.3 431.5h3.5M147.6 384.2h3.5M106.5 409.5h3.5M113.7 382.9h3.5M162.7 284.6h3.5M185.4 443.4h3.5M141.4 488.2h3.5M166.8 311.4h3.5M181.3 479.8h3.5M95.7 239.3h3.5M224.3 478.5h3.5M222.2 494.2h3.5M282.2 399.1h3.5M230.8 45.2h3.5M131.7 505.8h3.5M373.2 83.9h3.5M132.5 485.7h3.5M202.3 211.4h3.5M105.4 329.8h3.5M299.1 289.3h3.5M97.6 456.7h3.5M169.2 292.4h3.5M236.3 339.3h3.5M200.5 525.6h3.5M213.6 302.2h3.5M173.4 250.8h3.5M222.9 526.8h3.5M115.6 268.1h3.5M263.7 295.1h3.5M201.2 482.8h3.5M229.4 506.9h3.5M98.5 251.6h3.5M102.8 389.6h3.5M169.3 305.3h3.5M192.5 439.8h3.5M159.7 284.6h3.5M230.1 429.2h3.5M253.7 420.7h3.5M123.7 517.5h3.5M191.1 369.4h3.5M102.7 433.4h3.5M186.5 354.5h3.5M237.6 36.6h3.5M147.7 376.6h3.5M304.9 81.2h3.5M101.1 394h3.5M191.4 478.8h3.5M211.7 139.3h3.5M340.9 144h3.5M297.5 423.6h3.5M144.7 309.2h3.5M245 159.2h3.5M98.2 454h3.5M191.9 207.4h3.5M123.2 445.6h3.5M184.6 445.6h3.5M341.2 163.9h3.5M148.4 400.1h3.5M200.3 231.3h3.5M144.6 197h3.5M107.6 186.9h3.5M157 470.6h3.5M174.6 36.2h3.5M172.7 520.9h3.5M146.2 527.6h3.5M94.8 287.7h3.5M376 470.9h3.5M131 479.7h3.5M328.7 41.2h3.5M246.2 507.4h3.5M240.9 216.6h3.5M133.3 505.3h3.5M163.5 442.5h3.5M140.3 480.7h3.5M137.9 502.6h3.5M243.9 259.1h3.5M281.4 471h3.5M126.4 207.8h3.5M294.5 196.7h3.5M118.1 327.2h3.5M116.8 463.8h3.5M217.3 251.2h3.5M126.2 466.6h3.5M151.5 436.6h3.5M280.6 329h3.5M145.3 388.6h3.5M95.3 474.5h3.5M131.3 521.3h3.5M169.2 416.5h3.5M142.6 505.2h3.5M188.3 505.6h3.5M123.1 143.5h3.5M157.4 99h3.5M215.2 191.2h3.5M366.7 246.6h3.5M184.1 493.6h3.5M147.7 137.3h3.5M409.5 60.3h3.5M161.5 473.7h3.5M214.5 295.7h3.5M147.9 459.6h3.5M107.2 533.2h3.5M93.7 413.1h3.5M171.4 491.4h3.5M158.2 514.6h3.5M262.8 201.3h3.5M235 182.6h3.5M153 259h3.5M314.1 334h3.5M377.4 184.6h3.5M105.9 160.5h3.5M308.7 399.2h3.5M146.9 398.5h3.5M127.3 521.8h3.5M135.5 103.4h3.5M109.1 75.6h3.5M169.9 218.8h3.5M262.1 159h3.5M155.1 533.4h3.5M118 140.7h3.5M98.8 441.3h3.5M119.4 477.2h3.5M322.8 181.5h3.5M99 461.6h3.5M204.9 190.5h3.5M94.6 54.6h3.5M163 447.1h3.5M345.1 337.9h3.5M140.3 513.3h3.5M94 474.3h3.5M117.7 379.8h3.5M383.7 218.5h3.5M154.5 445.8h3.5M251.5 309.1h3.5M334.1 160.2h3.5M146.1 379.2h3.5M266.7 300.5h3.5M173.6 488.2h3.5M104.8 508.5h3.5M107 89.7h3.5M153.1 352.7h3.5M144.7 283.2h3.5M131.5 447.7h3.5M170.8 491.5h3.5M95.1 350.3h3.5M124.6 455h3.5M186.6 411.5h3.5M170.7 474.9h3.5M226.4 216.4h3.5M127.6 270.9h3.5M196.5 373.1h3.5M174.1 164.1h3.5M199.5 170h3.5M126.6 521.4h3.5M155 443.4h3.5M165.2 445.9h3.5M150.1 493.2h3.5M260.4 271.2h3.5M376.4 129.3h3.5M100.5 483h3.5M286 107.9h3.5M224 347.2h3.5M272.1 217.8h3.5M234.9 162.8h3.5M502.8 200.4h3.5M104.3 511.3h3.5M168.3 281.6h3.5M108.8 322.5h3.5M139.8 419.7h3.5M204.6 275.1h3.5M409.7 64.1h3.5M284.5 462.9h3.5M228.8 199.4h3.5M294.9 192h3.5M168 166.9h3.5M104.5 460.1h3.5M298.4 168.9h3.5M202.6 174.3h3.5M112.9 223.2h3.5M97.5 77.5h3.5M156.6 491.3h3.5M111.5 173.6h3.5M214.9 393.9h3.5M180.4 424.8h3.5M248.3 418.3h3.5M375.2 88.1h3.5M407.5 101.3h3.5M101 519.8h3.5M142.5 485.4h3.5M149.3 52.1h3.5M475.8 193.6h3.5M187 238.5h3.5M247.8 49.3h3.5M199.5 249.5h3.5M136.8 446.3h3.5M156 481h3.5M144.5 512.2h3.5M169.2 325.3h3.5M164 351.4h3.5M255 521.9h3.5M274.1 410h3.5M268.2 384h3.5M179.8 491.3h3.5M328 129.4h3.5M286.3 365.7h3.5M246.8 87.9h3.5M121.3 491.5h3.5M113.5 308.3h3.5M117.8 191.1h3.5M95.6 445.7h3.5M96.4 404.2h3.5M493.4 97.6h3.5M104.9 226.4h3.5M99 513.8h3.5M250.4 204.3h3.5M297.8 39.9h3.5M203.3 141.3h3.5M223.5 181.8h3.5M97.6 337.3h3.5M115.6 496.8h3.5M102.1 57.2h3.5M315.5 152.7h3.5M200.8 372.7h3.5M95.5 386.8h3.5M231.1 450.4h3.5M142.1 421.6h3.5M110.6 153.9h3.5M481.1 50.6h3.5M136.2 360h3.5M93.7 524.7h3.5M132.9 486.2h3.5M464.3 68.4h3.5M105.3 288.2h3.5M111.3 491.3h3.5M195.2 439.4h3.5M399.2 76.8h3.5M204.8 226.1h3.5M101.8 433.1h3.5M202.1 464.9h3.5M137 369.5h3.5M119.7 519.4h3.5M109.2 479.1h3.5M222.3 379h3.5M249 268.3h3.5M192.7 490.8h3.5M119 174.5h3.5M121.2 352.8h3.5M239.9 172h3.5M317.6 91.2h3.5M216.6 420.5h3.5M135.3 104.2h3.5M134.8 184.4h3.5M142.3 504.5h3.5M126.1 510.7h3.5M169.3 433.1h3.5M318.3 93.7h3.5M334.1 117.9h3.5M126.7 260.3h3.5M158.2 139.3h3.5M172.3 73.8h3.5M139.7 351.4h3.5M441.9 126.9h3.5M141.2 509.8h3.5M98.7 445.1h3.5M157.2 157.6h3.5M153.4 301.2h3.5M156.4 423.1h3.5M289.7 207.9h3.5M135.5 152.9h3.5M161.5 530.1h3.5M329.6 148.2h3.5M108.7 528.3h3.5M208.1 360.7h3.5M118 365.1h3.5M137.4 519h3.5M108 384.9h3.5M250.8 147.3h3.5M278.6 110.8h3.5M108.8 286.5h3.5M257.7 345.8h3.5M116 385h3.5M293.1 279.1h3.5M130.3 463.7h3.5M97.5 406.9h3.5M100.1 327.4h3.5M177.3 447.9h3.5M283.3 184.5h3.5M103.6 484.5h3.5M383.7 84.5h3.5M97.7 453.9h3.5M94 528.1h3.5M164.2 348.7h3.5M111 501h3.5M142.6 325.7h3.5M111.8 342.4h3.5M206.4 403.8h3.5M144.7 438.6h3.5M166.7 377.5h3.5M287.4 424.3h3.5M147.3 249.9h3.5M267.7 412.5h3.5M231.3 498.6h3.5M222 316.3h3.5M195.9 233h3.5M411.4 161.7h3.5M173.8 198.5h3.5M356 178.1h3.5M139.6 306.7h3.5M144.7 465.9h3.5M276.4 474.8h3.5M370.4 495h3.5M126.4 513h3.5M99.3 516.5h3.5M104.3 313.7h3.5M111.2 392.1h3.5M278 118.8h3.5M181.6 469.6h3.5M171.1 485.8h3.5M119.5 194h3.5M104.4 362.7h3.5M114.1 465.7h3.5M155.4 50.5h3.5M99.4 171.9h3.5M130.2 269.2h3.5M123.4 532.9h3.5M256.4 402.8h3.5M108.2 454h3.5M124.2 435.7h3.5M116.6 128.8h3.5M194 196.4h3.5M186.7 479.6h3.5M255.3 249.3h3.5M194.6 102.6h3.5M328.1 226.9h3.5M240.7 397.8h3.5M109.9 446.5h3.5M255.7 458h3.5M140.4 489.2h3.5M120 501.9h3.5M225.4 76.1h3.5M129.9 481.8h3.5M234 209h3.5M112.7 494.3h3.5M263.1 465.8h3.5M168.7 425.6h3.5M189.5 436.9h3.5M466.5 349.5h3.5M212.3 328.4h3.5M376 182.4h3.5M362.4 131.6h3.5M261.5 305.7h3.5M324.4 254.3h3.5M108.9 364.2h3.5M175.6 303.4h3.5M100.7 299.9h3.5M125.9 406h3.5M248.4 303.1h3.5M226.5 404.9h3.5M141.2 148.6h3.5M144.4 479.4h3.5M171 460.8h3.5M107.7 165.4h3.5M312.2 329.7h3.5M141.1 151.7h3.5M257.6 415.9h3.5M166.9 370.6h3.5M138.1 496.6h3.5M324.3 161.1h3.5M374.7 107.9h3.5M175.6 389.4h3.5M97.4 491.3h3.5M319.8 61.2h3.5M191.1 288.7h3.5M109.6 479.3h3.5M370.1 331.9h3.5M109.7 273.8h3.5M95.2 424h3.5M197.6 266.4h3.5M140.9 322.2h3.5M138.4 452.7h3.5M286.7 148.9h3.5M141.8 477.7h3.5M272.9 293.1h3.5M97.3 447.8h3.5M107.7 283.1h3.5M158 484.5h3.5M170.9 49.3h3.5M120.4 477.7h3.5M147.8 434.8h3.5M111.2 373.5h3.5M271.3 295.4h3.5M113.2 248.7h3.5M114.5 471.1h3.5M133.3 340.4h3.5M214.6 482.8h3.5M354.8 98.2h3.5M149.2 435.1h3.5M97.2 437.3h3.5M211.2 327.3h3.5M101.4 426.8h3.5M541 103.1h3.5M155.9 152.9h3.5M198.3 397.1h3.5M169.2 249.8h3.5M295.6 234.1h3.5M122.5 204.4h3.5M184.6 467.9h3.5M130.6 462.5h3.5M140 521.6h3.5M184.9 409.9h3.5M194.6 506.3h3.5M318.5 141.3h3.5M123.8 127.1h3.5M140 483.1h3.5M110.9 481.2h3.5M95.9 363h3.5M120.2 127.7h3.5M119.5 481.4h3.5M296.9 200.9h3.5M151.9 389.1h3.5" stroke="#111" stroke-width="3.5" fill="none"/>
<path d="M72.5 30.8H575.4V535.6H72.5Z" fill="none" stroke="#000" stroke-width="3"/>
<path d="M72 31H576" stroke="#000" stroke-width="4.2"/>
<path d="M68.5 515H72M68.5 495.4H72M68.5 475.7H72M68.5 456.1H72M68.5 416.7H72M68.5 396.9H72M68.5 377.2H72M68.5 357.4H72M68.5 318H72M68.5 298.4H72M68.5 278.7H72M68.5 259.1H72M68.5 219.9H72M68.5 200.4H72M68.5 180.8H72M68.5 161.3H72M68.5 122H72M68.5 102.3H72M68.5 82.5H72M68.5 62.8H72M66 534.7H72M66 436.4H72M66 337.7H72M66 239.4H72M66 141.8H72M66 43H72M92.9 536V540M112.6 536V540M132.2 536V540M151.9 536V540M191.2 536V540M210.9 536V540M230.6 536V540M250.3 536V540M289.5 536V540M309.1 536V540M328.6 536V540M348.2 536V540M387.4 536V540M407 536V540M426.7 536V540M446.3 536V540M485.7 536V540M505.3 536V540M525 536V540M544.6 536V540M73.3 536V542M171.5 536V542M270 536V542M367.7 536V542M466 536V542M564.3 536V542" stroke="#000" stroke-width="2.4" fill="none"/>
<path d="M139.6 425 L141.5 350 L144 290 L147 240 L150.5 212 L158.8 178 L169.2 130.7 L232.6 53.5 L283 45.5 L358.5 36.5 L450 35 L541 35 L568.7 70.5 L571.5 262 L549.5 408 L484.3 477 L376.3 514 L262.6 526.6 L160.7 531" fill="none" stroke="#000" stroke-width="3.9" stroke-linejoin="round"/>
<text x="307" y="16.8" font-size="16.2" text-anchor="middle" font-weight="normal" textLength="65" lengthAdjust="spacingAndGlyphs">Data 004</text>
<text class="tl" transform="translate(47.4 41.3) rotate(-90)" x="0" y="6" font-size="17" text-anchor="middle" textLength="36" lengthAdjust="spacingAndGlyphs">1000</text>
<text class="tl" transform="translate(45 143.4) rotate(-90)" x="0" y="6" font-size="17" text-anchor="middle" textLength="27" lengthAdjust="spacingAndGlyphs">800</text>
<text class="tl" transform="translate(47 248.6) rotate(-90)" x="0" y="6" font-size="17" text-anchor="middle" textLength="26" lengthAdjust="spacingAndGlyphs">600</text>
<text class="tl" transform="translate(45.8 338.9) rotate(-90)" x="0" y="6" font-size="17" text-anchor="middle" textLength="27" lengthAdjust="spacingAndGlyphs">400</text>
<text class="tl" transform="translate(47.5 431.3) rotate(-90)" x="0" y="6" font-size="17" text-anchor="middle" textLength="27" lengthAdjust="spacingAndGlyphs">200</text>
<text class="tl" transform="translate(50.1 532.5) rotate(-90)" x="0" y="6" font-size="17" text-anchor="middle" textLength="8.5" lengthAdjust="spacingAndGlyphs">0</text>
<text class="tl" transform="translate(18.8 268.2) rotate(-90)" x="0" y="0" font-size="15.8" text-anchor="middle" textLength="87" lengthAdjust="spacingAndGlyphs">SSC- Height</text>
<text x="74.6" y="575.7" font-size="17.6" text-anchor="middle" font-weight="normal" textLength="8.6" lengthAdjust="spacingAndGlyphs" class="tl">0</text>
<text x="168.2" y="575.7" font-size="17.6" text-anchor="middle" font-weight="normal" textLength="26.8" lengthAdjust="spacingAndGlyphs" class="tl">200</text>
<text x="267.9" y="571.6" font-size="17.6" text-anchor="middle" font-weight="normal" textLength="28" lengthAdjust="spacingAndGlyphs" class="tl">400</text>
<text x="367.3" y="571.6" font-size="17.6" text-anchor="middle" font-weight="normal" textLength="27.4" lengthAdjust="spacingAndGlyphs" class="tl">600</text>
<text x="467" y="571.6" font-size="17.6" text-anchor="middle" font-weight="normal" textLength="27" lengthAdjust="spacingAndGlyphs" class="tl">800</text>
<text x="557.8" y="571.6" font-size="17.6" text-anchor="middle" font-weight="normal" textLength="36.2" lengthAdjust="spacingAndGlyphs" class="tl">1000</text>
<text x="317.7" y="614.4" font-size="16.7" text-anchor="middle" font-weight="normal" textLength="85.5" lengthAdjust="spacingAndGlyphs" class="tl">FSC- Height</text>
<text x="341" y="295.8" font-size="15" font-weight="bold" textLength="15" lengthAdjust="spacingAndGlyphs" style="stroke-width:1.1px">R2</text>
<path d="M689.2 384.6h5M717.6 395.3h5M676.7 383.6h5M666.4 374.1h5M735.1 332.9h5M700.9 348.9h5M752.3 431.5h5M727.1 349.5h5M649.1 345.2h5M702.4 306.8h5M681.1 408.8h5M704.3 411.8h5M718.3 328.3h5M740.1 391.4h5M668.2 335.5h5M675.8 319.4h5M699.4 321.5h5M677.3 355.3h5M683.5 336.6h5M727.3 370.9h5M661.2 366.8h5M672.4 355.4h5M786.4 360.3h5M657 381.1h5M677.6 352.1h5M714.7 351.7h5M688.9 395.6h5M725.2 317.6h5M708.8 400.6h5M740.9 408h5M708.5 389.4h5M748.7 379.2h5M713.6 430.9h5M708 356.5h5M701.7 375.7h5M717.4 377.6h5M732.5 322.6h5M711.5 387.5h5M738.4 349h5M732.9 373.3h5M709.4 386.5h5M684.7 313.9h5M682.4 348.5h5M739.5 377.5h5M752.4 388.5h5M658.4 317.3h5M778 350.9h5M704.8 359.6h5M693.2 340.3h5M708.8 376h5M660.1 411.6h5M676.4 354.3h5M729.6 387h5M702.2 348.6h5M731.5 385.2h5M710.3 345h5M750 363.4h5M676.8 363.7h5M710.5 362h5M684.2 402.4h5M703.8 413.5h5M731.8 383.2h5M739.1 375.9h5M711.5 327.1h5M727.5 343.2h5M666.1 375h5M691.8 352.1h5M739.5 370.9h5M740.4 362.1h5M675.7 381.4h5M725.9 384.2h5M660.5 360.9h5M752.5 380.3h5M683.4 335.5h5M696 388.8h5M736.7 331.8h5M683.2 401.5h5M704.3 358.3h5M759.7 380.7h5M720 333.7h5M664.7 340.3h5M779.8 374h5M725.7 333h5M689.8 381h5M672.3 363.1h5M682 380.5h5M704.6 391.3h5M674.1 352.8h5M710 363.5h5M707.9 356.9h5M792.8 338.1h5M750.3 320.4h5M714 302.8h5M691.5 348.9h5M648 340.2h5M719.1 348.8h5M755.8 328h5M749.5 391.6h5M684.2 373.3h5M722.5 399.3h5M674.7 395.9h5M736.1 361.9h5M726.7 322.3h5M744.6 356.6h5M745.8 329.9h5M744 278.7h5M687.3 308.8h5M661.5 373.4h5M728.2 393.3h5M681.9 369.1h5M683.7 314.1h5M724.5 378.3h5M706 308.1h5M730.7 347.6h5M772.4 362.8h5M707.5 373.6h5M684.3 369.8h5M718.9 323.6h5M717.7 305.7h5M771.1 361h5M739.9 329.4h5M714.7 411.7h5M696.3 380.4h5M755.5 349.8h5M692.6 409.3h5M671.9 372.8h5M713.2 402.2h5M734.2 371.4h5M692.3 360.8h5M681.9 388.8h5M697.1 306.6h5M705.3 335.8h5M678 433.7h5M760.7 330.1h5M750.8 386.6h5M796.7 302h5M713.9 344.1h5M730.2 370.8h5M744.1 342.9h5M720.8 373.9h5M746.2 317h5M710.3 352.6h5M682 401.7h5M710 380.8h5M730.8 345h5M724.3 376.3h5M667.8 360.5h5M686.6 347.4h5M725.6 350.9h5M701.3 335.2h5M714.4 375.8h5M737 387.3h5M716.9 414.2h5M705.7 351.5h5M696.1 333h5M724.3 346.9h5M660.8 344.8h5M741.3 369.3h5M700.3 351.6h5M717.9 317h5M710.9 303.4h5M696.1 374.2h5M735.5 348.3h5M672 329.1h5M699 342h5M709.5 372.1h5M721.4 410.1h5M752.2 334.6h5M730.7 358.9h5M756.1 380h5M726.2 382.7h5M663.6 370.1h5M695.1 306.7h5M739.2 336.3h5M745.9 323.6h5M717.7 356.9h5M701.7 352.9h5M711 342.8h5M704.8 369.7h5M704 367.6h5M740.5 377h5M676.6 374.6h5M708 338.1h5M730.1 393h5M692.7 341.9h5M739 328.9h5M688.8 347.6h5M669.2 347.4h5M678.3 345.6h5M761.6 347.8h5M791.2 403.9h5M738.5 351.8h5M697.2 381.5h5M694.4 403.4h5M721.2 353.9h5M735.1 329.5h5M737.8 309.4h5M695.8 334.1h5M715.1 325.5h5M721.5 343.2h5M669 393.8h5M720.5 364.3h5M732.4 294.2h5M711.4 410.8h5M708.2 388.6h5M697.4 393.3h5M719 402.6h5M714.1 365h5M762.5 376.5h5M728.6 325.8h5M732.6 374.1h5M795.3 342.5h5M693.8 374.7h5M747.4 417.5h5M676.8 371.1h5M663.6 365.1h5M692.1 322.8h5M745.3 348.4h5M755.6 370.3h5M670.7 360.5h5M712.6 323.8h5M737.3 341.1h5M788.5 408.5h5M706.3 407.5h5M676.6 354.4h5M734.5 378.8h5M706.5 357.3h5M757.2 336.1h5M724.7 377.2h5M752.5 348.1h5M709.3 339.7h5M681.7 400.3h5M692 387.2h5M745.8 370.6h5M730.3 378.1h5M728.4 299.5h5M698.8 367.2h5M728.1 318.4h5M745.4 426.1h5M702.3 423h5M722.1 283h5M719.1 391.9h5M684.3 377.7h5M712.3 368.2h5M717.7 355.5h5M683.6 339.5h5M719.9 303.4h5M709.4 375.3h5M705.4 405.1h5M764.1 410.7h5M692.8 397.2h5M672.1 436.3h5M695.9 377.4h5M740.8 353.2h5M675.2 335.5h5M772.2 344.7h5M734.9 342.3h5M698.1 333.7h5M732.5 367.4h5M752.4 375.4h5M701.5 349.5h5M688.6 339.8h5M708.7 378.7h5M718.7 384.1h5M699.2 359.1h5M711.3 336.6h5M708.9 314.4h5M725.5 411.5h5M731.8 375.3h5M768.7 365.6h5M732.2 370.5h5M698.2 367.6h5M724.1 408.8h5M683.2 319.5h5M706.5 378.9h5M703.1 293.5h5M751.3 316.7h5M716.2 346.7h5M697 390.9h5M746.6 421.4h5M757.4 341h5M728.4 345.7h5M685.9 324.2h5M724.6 359.6h5M726.4 347.2h5M771.1 324.9h5M707.1 393.5h5M688.6 360.4h5M711.4 354.2h5M705 355.7h5M705 323.6h5M684.4 355.2h5M761.1 278.1h5M737.2 279.2h5M734.5 367.7h5M669.4 349h5M693.8 380.5h5M718.9 328.4h5M734.5 348.7h5M750.8 373.3h5M733.7 328.1h5M662.5 318.2h5M723.3 355.9h5M676.3 327.5h5M694.1 304.4h5M694.4 406.1h5M753.1 363.9h5M692.7 337.5h5M699.8 362.3h5M720.5 339.2h5M737.5 281h5M704.9 326.7h5M672.3 405.7h5M730.8 369.1h5M715 343.4h5M711.2 405.7h5M744.3 335h5M677.2 380.5h5M707 389.9h5M738.2 332.6h5M664 337.9h5M676.9 405.7h5M758.8 391.7h5M678.7 364.9h5M709.8 312.2h5M728.7 371.1h5M756.8 349.7h5M753.6 358.1h5M698.9 340.4h5M759.6 343.4h5M743.5 353.5h5M681.4 329h5M696.1 371h5M745.2 324.2h5M673.5 420.1h5M740 326.7h5M715.6 390.4h5M682.6 342.9h5M692.5 350.3h5M736.5 362.2h5M679.1 379.9h5M735.7 316.3h5M722.3 362.6h5M735.8 385.4h5M738.1 342h5M718.4 325.5h5M694.1 398.3h5M761.1 350.1h5M722.3 348h5M712.6 399.2h5M664.9 351.5h5M719.2 384.9h5M725.4 399.4h5M721.8 384.8h5M673.1 331.7h5M688.3 375.8h5M704.8 414.7h5M706.5 438.7h5M752.1 314.7h5M746.5 392.7h5M731.6 363.4h5M713.6 330.7h5M693.3 386.1h5M735.1 355.4h5M748 363.9h5M727.3 342.6h5M699.6 318.8h5M678.2 380.1h5M712.4 325.6h5M689.6 361h5M752.8 367.2h5M717.2 339.6h5M681 355.1h5M689.9 373.4h5M723 371.3h5M715 357.4h5M649.1 353.1h5M746 379.2h5M660 396.2h5M751.7 377.4h5M677.9 404.4h5M755 389.2h5M694.9 344.6h5M692.9 432.2h5M728.1 277.1h5M775.9 377.6h5M701.8 348.7h5M735.9 373.6h5M723 355.6h5M684.8 391.4h5M749.7 365.2h5M676.3 334.7h5M713.8 363.8h5M707.2 352.9h5M763.2 376.5h5M702.1 346h5M679.4 401.2h5M703.2 369.6h5M711.1 407.2h5M712.8 402.2h5M718.6 338.5h5M768.1 399.6h5M675.8 311.7h5M750.5 356.2h5M705.4 402.1h5M680.3 340.4h5M672.4 385.8h5M705.7 359.4h5M771.9 321.6h5M709.8 397.8h5M797.1 370.5h5M691.2 360.7h5M700.1 346h5M682.1 355.3h5M698.1 372.5h5M657.8 398.6h5M746.3 338.5h5M710.4 386.1h5M700.3 371.2h5M702.6 359.8h5M684.9 362.9h5M736.9 422.7h5M720.1 413.7h5M668.9 354.9h5M754.2 279.8h5M713.2 374h5M760.2 333.8h5M690.5 342.4h5M720.6 370.8h5M715.2 307h5M720.2 385.3h5M718.7 372.7h5M707.8 385.4h5M705.5 377.7h5M738.5 279.9h5M665.8 355.7h5M671.4 402.6h5M744.2 354.8h5M747 353h5M730.1 350.3h5M763.3 357.1h5M762.8 382.3h5M719.8 373.8h5M730.4 346.8h5M717.2 364.8h5M758 386.8h5M745.5 344.3h5M732.5 282h5M693.7 389h5M704.8 297.6h5M724.9 352.4h5M723 333h5M714.1 344.7h5M757.3 407.4h5M687.3 341.8h5M689 358h5M757.1 338.5h5M708.2 302.3h5M665 335.8h5M749.2 389.2h5M731.1 403.5h5M748.1 339.2h5M721.7 416.3h5M733.4 303.7h5M692.8 419.9h5M724.9 311.7h5M703.6 294.7h5M696.9 342h5M679.1 308.1h5M705.7 352.8h5M672.4 394.1h5M735.4 394.6h5M714 398.3h5M694.9 349h5M723.6 392.4h5M725.4 387.7h5M737.6 349h5M709.3 409.7h5M711.2 436.7h5M752.1 396.5h5M711.9 308.7h5M761.7 355.5h5M678.4 361.6h5M729.7 309.5h5M726.8 336.2h5M731.5 327.5h5M685.5 333.6h5M691.8 344.8h5M714.9 360.5h5M696.3 330.3h5M736.1 369.1h5M733.3 375.5h5M670.8 348.2h5M719.8 336.5h5M756.7 333.1h5M738.1 341.9h5M694.5 357.4h5M722.8 379.3h5M742.4 426.4h5M774.4 340.3h5M722 375.4h5M776.1 346.1h5M704.7 347.6h5M699.9 398.2h5M709.3 339.6h5M689.2 390.9h5M732.3 326h5M672.5 349.4h5M734.4 310.6h5M781.3 343h5M727.6 325h5M773.3 342.8h5M703.6 355.8h5M755.1 342.8h5M690.4 375.6h5M706.2 358.7h5M726.5 377.7h5M697.3 387.2h5M703.8 315.5h5M726.5 343.2h5M782.6 379.9h5M701.1 310.7h5M711.9 418.4h5M733.5 356h5M662.5 352.5h5M766 402.3h5M746.5 348h5M734.5 384.2h5M709.2 355.4h5M734.8 286.2h5M703 382.1h5M653.4 386.5h5M760 342.6h5M684.6 320.3h5M682.1 351.3h5M762.5 385.2h5M700.5 381.1h5M687.9 371.7h5M724.2 283.9h5M700.9 435.9h5M707.4 342.5h5M658.9 372.6h5M740.1 376.8h5M762.2 368.7h5M745.9 282.9h5M734.1 335.6h5M712.3 403.9h5M683.9 340.4h5M748.2 409.5h5M742.3 336.1h5M740.4 378.2h5M742.4 274.4h5M708.8 406h5M760.3 408.8h5M705.9 329.8h5M721.2 308.7h5M706.4 366.5h5M700.1 351.6h5M698.6 343.9h5M700.5 416.2h5M717.5 373.5h5M725.5 375.4h5M759.6 395.9h5M760.7 374.3h5M713.2 369.7h5M671 347.2h5M744.8 323.2h5M693.5 356.2h5M746.3 357.7h5M701.7 331.5h5M728.5 392.4h5M661.7 385.1h5M720.4 362.3h5M682.4 360.6h5M681.8 390.3h5M687.1 336h5M698.8 379.8h5M736.5 417.3h5M722.2 368.8h5M715.7 332h5M702.2 377.7h5M728.4 373.8h5M722.1 343.1h5M745 367.7h5M756.3 377.5h5M690.5 334.4h5M709.5 376.5h5M741.2 350.4h5M657 409.2h5M733 347.8h5M701.6 290h5M674.9 374.7h5M707.4 338.1h5M692.3 387h5M694.8 341.9h5M700.4 365.6h5M676.6 409.3h5M771.8 381.2h5M754 338.1h5M740.6 307h5M730.7 368.8h5M711.7 415.3h5M767.6 407.9h5M737.4 350.5h5M728.1 372.3h5M699.8 342.8h5M782.1 339h5M709.5 319h5M658 412.2h5M755.2 408.6h5M691.6 352h5M730.4 405.6h5M736.5 333.3h5M677.7 377.7h5M657.1 391.6h5M738 400.9h5M742.4 276.2h5M742.1 367.6h5M710 383.7h5M728.6 370.8h5M735.3 371.9h5M670.8 338.6h5M706.1 349.5h5M701.5 378.6h5M732 298h5M649.2 343.9h5M784.2 338.2h5M756.3 322.7h5M743.3 349.8h5M740.7 388.8h5M722.6 360.1h5M751.4 357.1h5M755.1 324.6h5M717.8 405.8h5M675.8 369.1h5M769 354.9h5M676.4 341.1h5M793.6 323.8h5M718.6 380.6h5M724.5 347.2h5M675.4 379.7h5M688.2 319.2h5M747.5 363.8h5M711.9 351.7h5M726.1 378.5h5M704.1 367.4h5M709.1 407.7h5M708.7 366.2h5M700.5 424.2h5M697.5 326.8h5M760.2 324.2h5M777.1 384.8h5M778.7 394.2h5M712.5 372.1h5M717.2 360.8h5M724.6 390.9h5M734 356.7h5M732.4 403.7h5M760.3 346.8h5M680.7 360.3h5M737.5 358.1h5M690.5 415.1h5M713 369.2h5M744.4 400.5h5M718.1 337.5h5M712.6 388.4h5M703.5 333.4h5M718 371.7h5M705.5 340.3h5M725 321.4h5M723.5 336h5M653.5 375.1h5M731.1 403h5M715 360.9h5M774 380.8h5M678.2 335.2h5M666.3 357.2h5M699.1 322.6h5M706.5 362.3h5M736.7 353.5h5M722.1 304.8h5M712.4 332.3h5M703.1 377h5M736.2 373.9h5M759.8 377h5M718.1 382.2h5M698.7 392.2h5M710.7 337.5h5M750.3 407.5h5M688 398h5M722.7 351.5h5M725.3 395.5h5M735.1 316.3h5M726.3 390.5h5M747.3 388.8h5M715 352h5M715.9 374.5h5M719.7 361.2h5M747.8 346.1h5M678.5 380.7h5M686.8 367.1h5M799.6 376.4h5M739.6 303.9h5M721.1 387.9h5M702.5 370.6h5M723.2 348.9h5M707.1 378.8h5M680 336.7h5M739.9 376.7h5M752.2 396.9h5M688.5 328.3h5M747.1 346.3h5M706.2 375.1h5M738.8 353.5h5M664 337h5M708.7 376.6h5M681.3 379.5h5M710.2 331h5M703.8 374.5h5M696.9 337.9h5M757.4 396.7h5M742.6 377.6h5M703.6 320.1h5M695.5 411.9h5M699.8 354h5M746.8 385.4h5M704.3 302.5h5M732 355.2h5M704.1 349.2h5M720.1 356.1h5M745.3 374.1h5M722.5 352.8h5M778.1 336.3h5M700.5 327.4h5M720.9 413.4h5M703 412.5h5M763.6 283.8h5M696.3 311.4h5M735.5 365.6h5M732.2 348h5M729.1 433.5h5M674.3 392.6h5M724.3 381h5M757.5 374h5M737.3 310.3h5M672.6 322.1h5M739.7 356.2h5M706.1 365.9h5M704.1 348h5M732.3 358.9h5M670.4 349.9h5M691.8 369.3h5M688.8 374.5h5M711 373.9h5M701.9 363.1h5M696.1 329.3h5M682.4 401.3h5M678.6 428h5M672.4 351.1h5M708.3 349.2h5M671.3 403.2h5M789.3 402.9h5M714.7 320.7h5M694.4 370h5M697.1 380.8h5M723 349.2h5M704.8 334.8h5M777 342.2h5M671.9 388h5M704.7 390.2h5M701 396.8h5M685 310.2h5M725.9 331h5M676.7 395.4h5M695.8 364.9h5M751.2 391h5M732.5 281.6h5M744.9 282.1h5M744.7 327.2h5M791.9 356.3h5M774.3 356.1h5M693.3 330.8h5M715.4 389h5M729.1 341.7h5M755.4 304.8h5M705.4 404.7h5M707.3 310h5M776.9 363.8h5M684.5 387.2h5M690.2 373.5h5M712.2 396.5h5M718.3 345.7h5M694.7 400.4h5M727.6 379.5h5M704.1 360.9h5M696.9 370.4h5M731.2 365.1h5M725.3 346.5h5M712.1 420.7h5M723.2 334.5h5M737 371.3h5M714.2 384.4h5M667.7 318.7h5M752.5 423.5h5M724.1 337.8h5M719.8 336.1h5M742.4 403.4h5M725.7 410.3h5M700 356.8h5M757 423h5M677.2 346.7h5M760.2 390.5h5M760 355.1h5M750 429.7h5M710.6 366.7h5M671.3 346.4h5M714.5 346.2h5M675.8 389.3h5M710.4 372.8h5M688.8 325.5h5M702.9 349.5h5M721.9 357.5h5M648.1 356.2h5M709.4 307.8h5M688.6 400.3h5M759.5 351.3h5M717.2 348.4h5M766.6 352.1h5M714.7 356.3h5M702.2 356.1h5M788.6 334.7h5M770.2 321.9h5M723.4 358.5h5M766.3 373.3h5M744.9 386.2h5M709.9 378.2h5M689.1 419.3h5M737.8 366h5M784.3 367.5h5M700.2 371.8h5M737.6 310.3h5M698.6 413.4h5M685.7 322.2h5M722.8 411.6h5M709.2 338.7h5M708.6 403.1h5M708.2 414.4h5M761.4 342.5h5M670.9 334.8h5M725.9 367.9h5M730.3 332.3h5M715.4 407.8h5M666.5 404h5M718.1 319.1h5M685 332.1h5M719.9 355h5M691 367.9h5M710.9 355.2h5M671.5 332h5M685.7 348h5M711.8 328.7h5M693.4 380h5M712.7 345h5M669.8 375.5h5M730.9 329.4h5M732.1 350.8h5M727.4 381.8h5M748.3 403.3h5M693.3 347.6h5M760.6 409.7h5M690.5 344.5h5M725 409.3h5M754.6 347.8h5M753.1 390.4h5M728.8 329.4h5M747.8 354.7h5M708.3 389.4h5M665.8 368.9h5M749 401.5h5M771.9 352.2h5M735.2 416.5h5M704.3 343.1h5M749.9 391.9h5M688.8 387.3h5M666.9 396h5M711.9 374.8h5M743.9 428.8h5M753 349h5M737.9 372.1h5M711.9 330h5M722.5 370.8h5M743.8 408.2h5M707 361.2h5M754.2 297.5h5M702.8 310h5M710.7 396.3h5M659.7 317.9h5M724.2 304.6h5M725.1 332.5h5M686.8 337.6h5M757 338.5h5M709.2 333.8h5M780.3 308.8h5M676.3 357.3h5M688.5 423.2h5M725.2 360.2h5M665.1 380.5h5M735.5 368h5M716.4 386.5h5M688.4 375h5M665.1 366.9h5M688.8 365h5M689.3 399.7h5M711.3 340.3h5M735.9 326.7h5M751.3 352.2h5M712.6 312.2h5M717.1 376.9h5M751.3 401h5M678 303.9h5M708.1 325.6h5M760.1 347.7h5M730.4 279.4h5M766.3 360.3h5M688.3 357.7h5M742.4 357.3h5M687 377.6h5M729 407.7h5M771.8 347.5h5M653.9 358.9h5M780.3 304.7h5M680.3 372.2h5M729.1 328.6h5M713.8 368.4h5M751.7 380.6h5M712 339.5h5M753.8 392.7h5M690 329.9h5M722.2 363.1h5M667.3 398.3h5M727.3 358.6h5M749 400.5h5M726 349h5M715.3 370.5h5M734.2 366.3h5M704.2 337.6h5M681.5 327.4h5M714.9 334.5h5M694.9 429.3h5M783 347h5M722.5 333h5M697.1 340.3h5M705.9 324.4h5M676.4 410.5h5M751.5 418.2h5M719.2 386.4h5M697 352.2h5M729 339.7h5M655.6 391.5h5M701.5 353.3h5M684.7 407.4h5M730.8 379.4h5M753.1 369.2h5M734.1 390.7h5M705.3 387.8h5M769.2 369h5M737.7 340.2h5M733.6 329.4h5M734.3 396.6h5M680.3 316.3h5M752.6 399.6h5M742.1 359.3h5M756.3 386.6h5M710.9 339.9h5M733.5 369.4h5M695 321.2h5M686.3 310.7h5M693.1 361.8h5M734.9 319.3h5M659.3 410.5h5M707 385.6h5M708.4 330.3h5M771.7 382.2h5M722 378.3h5M716.8 375.5h5M706.6 389.9h5M672.3 354.2h5M717 315.1h5M749.6 372.6h5M725.7 403.6h5M653.3 360.8h5M767.5 364.1h5M713.6 349.2h5M715 388.2h5M704.5 303.8h5M810.2 361h5M704.4 352h5M684.5 363.2h5M673.3 347.7h5M795.2 349.7h5M724.6 299.1h5M731.6 340h5M703.4 349.3h5M739.2 354.7h5M720.3 407.9h5M718.3 381.7h5M692.5 400.9h5M739.7 372.3h5M742.2 389.2h5M723.9 364.4h5M674.8 367.1h5M682 353.4h5M722.1 367.6h5M697 408h5M739 327.4h5M738.5 409.5h5M735.1 420.4h5M714.8 380h5M757.7 369.9h5M740.3 401.1h5M736.2 378h5M743.6 363.4h5M724 300.3h5M754.5 355.2h5M774.5 359.6h5M722.5 351.7h5M693 411.2h5M723.2 365.9h5M727.4 410.8h5M729.5 376.4h5M729.7 331h5M701.7 332.1h5M681.9 306.3h5M743.6 358h5M731.3 351.1h5M722.2 284.7h5M687.4 384.4h5M670.4 326.9h5M702.5 323.4h5M749.3 376.1h5M714.7 374.6h5M756.8 358.9h5M717.7 364.8h5M705.3 387.7h5M754.3 353.7h5M687.8 353.3h5M708.7 367.9h5M722.3 387.5h5M696 376.4h5M705.6 336.6h5M696.2 386.7h5M689.1 366.4h5M711.6 384.1h5M700.9 291h5M767.1 383.1h5M706.2 369.1h5M774.1 329.5h5M738.7 332.1h5M690.7 377.4h5M735.8 337.5h5M711.5 387.5h5M721.8 366.5h5M725.9 363.7h5M657.7 369.8h5M752.7 418.4h5M757.6 372.1h5M723.5 343h5M693.1 340.7h5M709.1 374.3h5M741.1 344.3h5M720.9 381.6h5M744.9 406.9h5M741.8 339.4h5M747.4 336h5M745.8 408.7h5M702.9 331.3h5M682.3 378.7h5M766.3 372.9h5M714.8 363.8h5M715.4 426.7h5M669 363.6h5M692.5 328.1h5M722.6 272.6h5M699 406.9h5M709.6 311.3h5M752.4 405h5M774.9 323h5M783.2 297h5M722.2 310.1h5M685.7 393.5h5M711.7 351.7h5M711.2 359.1h5M748.3 386.5h5M679.1 433.6h5M737.2 411h5M648.2 344.5h5M676.5 397.4h5M673 419h5M748 311.1h5M713.2 367.1h5M680 309.1h5M702.3 317.5h5M739.4 268.8h5M676.2 342.6h5M707 409.1h5M686.7 389.3h5M737.7 397.5h5M675.6 356.6h5M697.3 380.2h5M770.9 329.6h5M771.6 335.8h5M699.2 400.9h5M731.2 382.4h5M760.1 380.1h5M711.1 319.1h5M735.9 372.4h5M701.1 410.7h5M710.7 413.4h5M723.2 388.6h5M732.3 310.6h5M750.7 348.6h5M787.2 326.9h5M729.9 336.3h5M692 356h5M702.3 325.7h5M714.3 342.7h5M711 380.6h5M678.6 345.8h5M747.1 380.7h5M653.4 353.6h5M689.2 371.4h5M723.7 341.5h5M688.9 366.2h5M756.3 368.5h5M722.2 353.2h5M756.1 369.9h5M728.2 386.8h5M703.8 355.7h5M737.6 344.4h5M765.3 323h5M711.5 419.1h5M746.4 352.6h5M748.1 396.8h5M691.2 317.1h5M704.1 393.7h5M728.1 347.3h5M660.6 403.6h5M678.7 336.6h5M722.3 332.6h5M686.6 355.4h5M726.2 369.3h5M719 378.5h5M688.4 381.5h5M736.1 393.9h5M672 337.9h5M740.9 403.9h5M716.7 431.3h5M659.7 363.4h5M772.5 350.3h5M751.7 325.3h5M720.8 362.6h5M747.5 349.4h5M740.9 329.7h5M722.2 363.1h5M773.5 308.3h5M767 368h5M713.2 398.7h5M706.5 316.5h5M678.5 341.1h5M697.4 359.6h5M740 332h5M716.9 326.5h5M713 311.1h5M687.9 336.3h5M707.7 366h5M709.5 385.1h5M758.3 339h5M732.6 369.8h5M764 343.1h5M736.5 324.8h5M724.9 408.2h5M776.5 266.1h5M742.2 330.3h5M726.1 376.4h5M685.4 372.1h5M706.1 433.9h5M698.5 383.6h5M730 395h5M760.3 390.3h5M703.5 370.2h5M796.9 322.1h5M707.4 353.9h5M736.8 398.9h5M718.1 307h5M678.8 387.6h5M703.1 350.6h5M695.4 356.6h5M703.1 344.9h5M701.3 308.3h5M701.2 419.7h5M710.2 384.5h5M669.4 343h5M731.3 370.8h5M688.2 386.8h5M676.6 409.2h5M705.3 375.6h5M704.3 372.2h5M771.5 340.2h5M729.9 329.5h5M690.2 327.7h5M735 312.8h5M719.3 335.7h5M726.7 357.8h5M761.3 317.1h5M720.1 330h5M740.1 390.4h5M757 341.6h5M699.8 351.6h5M739.5 388.5h5M709.7 364.3h5M748.5 398.9h5M699.8 364.9h5M719.6 343.7h5M706.2 366.9h5M729.4 311.2h5M718.8 304.4h5M698.7 334.6h5M742.6 388.4h5M701 359.8h5M686.4 409h5M698.4 357.6h5M688.3 366.9h5M710.6 363.3h5M740.7 340.7h5M688 375.4h5M734.1 329.6h5M765.5 368.9h5M707.4 403h5M706.4 324.5h5M707.7 399.8h5M690.9 344h5M699.3 363.8h5M757.3 379.3h5M689.7 332.5h5M719.1 355.7h5M656.9 396.1h5M749.8 404h5M775 316.5h5M658.2 387.9h5M712.2 338.5h5M750.6 350.3h5M746 384.1h5M708.2 377.7h5M688.9 371.5h5M689 348.5h5M712.5 344.8h5M698.3 396h5M732.8 363.3h5M785.7 356.6h5M793 350.8h5M678.4 323.2h5M755.7 379.6h5M659.6 382.7h5M723.3 365.3h5M702.3 419h5M719.1 389.4h5M735.8 413.6h5M745.9 329.9h5M791.3 358.5h5M727.4 394.6h5M710.7 394.6h5M745.3 407.6h5M686.4 424.8h5M728.5 305.2h5M725.1 348.8h5M723.7 366.4h5M704 394.3h5M709.3 308.5h5M719.6 343.4h5M713.2 340.8h5M733.1 343.7h5M728.8 351.6h5M738.5 325.6h5M711.1 338.8h5M707.8 318h5M699.6 354.9h5M694.6 378.2h5M654.5 382.7h5M741.2 347.6h5M657.3 361.1h5M737.5 391.5h5M695.6 372.9h5M723.2 386.8h5M744.7 395h5M773.8 367.9h5M708.9 335.7h5M723.9 361.8h5M683.5 348.2h5M707 420.4h5M719.9 358h5M654.9 413.4h5M719.6 367.5h5M759.4 355.3h5M712.4 377.6h5M696.5 385.7h5M756.2 366.1h5M753 392.7h5M707.9 330.6h5M767.7 333.2h5M743.8 334.6h5M719.8 387.5h5M725.1 336.5h5M682 351.9h5M704.1 367.4h5M679.9 395.9h5M711.4 347.6h5M736.5 368.4h5M660.6 397.3h5M776 365.8h5M690.6 380h5M742.8 361.9h5M685.2 328.3h5M698.6 370.1h5M746.3 350.1h5M748.8 300.2h5M716.7 318.7h5M705 356.3h5M740.4 365.5h5M708 321.7h5M755.9 325.4h5M726.7 341.9h5M745.6 388.4h5M657.9 366.6h5M720.9 329.5h5M699.3 385.1h5M712.1 381.3h5M762.5 393.4h5M692.3 335.8h5M673.6 310.4h5M724.3 341.3h5M689.3 385h5M695.7 355.6h5M727.9 335.1h5M732.7 338.1h5M672.5 372.9h5M696.5 367.3h5M751.9 341.8h5M685.9 335.5h5M677 358.5h5M742.5 359.4h5M676.8 385.9h5M676.6 324.7h5M734.5 390.7h5M739.4 340.8h5M726.6 319.6h5M698.6 364.8h5M735.8 317.5h5M703.5 359.5h5M704.2 323.3h5M721.2 352.6h5M755.3 342.8h5M719.4 377.8h5M725.6 348.9h5M767.2 327h5M705.9 359.1h5M646.8 340.7h5M715.8 367.6h5M686 391.3h5M756 352.7h5M702.4 348.7h5M762.3 402.3h5M676.9 402.8h5M685.6 342h5M708.6 346.6h5M740.2 324.5h5M730.8 395.2h5M735.8 404.3h5M714.8 329.7h5M750.6 363.6h5M747.9 435.6h5M680.5 348.3h5M742 336.5h5M700.6 423h5M761.4 366.9h5M760.1 408.9h5M652.1 392.9h5M770 404.6h5M753.9 354h5M749.1 374.4h5M713.3 393.6h5M744.3 408.1h5M686.3 419.9h5M712.6 363.5h5M675.9 371.9h5M706.5 345.2h5M753.1 316.7h5M673.7 431.5h5M715.5 423.3h5M658.5 373.9h5M675.3 418.3h5M647.1 437.4h5M692 395h5M710.2 316.9h5M720.9 408.4h5M723.3 405.6h5M669.8 335.9h5M733.6 399.4h5M744.6 370.7h5M668.8 398.4h5M762.8 361.1h5M735 380.5h5M693.1 397.3h5M662.8 383.1h5M749 381.3h5M724.2 336.4h5M718.6 410h5M680.1 343.8h5M777.9 337.1h5M669.6 381.5h5M648.8 390.5h5M666.7 382.2h5M692.4 319.4h5M690 413.3h5M722.7 379.2h5M685.7 345.3h5M747 327.5h5M760.7 394.3h5M665.3 423.7h5M693.9 376.1h5M660.4 357.7h5M735.3 344h5M692.1 430.1h5M718.7 333.7h5M667.6 365.1h5M751.6 351.7h5M753.4 346.9h5M673.5 353h5M719.8 341.6h5M773.2 319.4h5M655.1 331.4h5M657.8 394.2h5M762.1 334.7h5M658.2 321.3h5M733.8 344.6h5M749.8 335.7h5M737.9 319.7h5M753.7 363.8h5M701.3 353.3h5M718.3 415.5h5M763.2 403.6h5M677.8 345h5M691.9 410h5M652.3 371.1h5M709.7 431.9h5M731.1 334.3h5M733.5 409.3h5M733.8 361.4h5M708.2 396.9h5M681.8 362.9h5M702.3 430.9h5M728.5 399.4h5M763.4 357.4h5M659.9 318.5h5M645.8 407.5h5M739.1 358.2h5M779.8 353.6h5M749.6 427.2h5M709.2 356.8h5M765.4 376.9h5M678.6 333.6h5M682.6 428.9h5M721.6 411.7h5M748.4 334.8h5M743.3 433.9h5M648.7 439.3h5M707.2 359.1h5M765.4 341.5h5M781.3 318.9h5M771 352h5M703.2 370.5h5M738.9 382.5h5M718.8 344.6h5M741.5 430.1h5M736.2 368.1h5M749.3 336.8h5M678.2 344.2h5M677.6 333h5M743.3 400.3h5M754.8 339.9h5M717.2 336.7h5M709.4 338.3h5M757.8 340.8h5M759.9 384.6h5M715.2 358.6h5M707.5 370.1h5M766.1 337.1h5M682.2 320.5h5M665.5 354.4h5M777.8 367.5h5M706.9 346.8h5M711.8 358.5h5M719.6 353.5h5M718.5 338.7h5M663.7 385.6h5M712.5 406.6h5M654.2 392.7h5M673.5 420.1h5M765.2 340.3h5M676.9 432.2h5M677.1 381.6h5M770 317.7h5M738.3 358.6h5M748.6 355.8h5M698.7 399.3h5M647 347.5h5M779 390.2h5M666.8 341.7h5M692.8 361.7h5M742.8 332.9h5M688 324.5h5M684.5 392.1h5M728.6 411.5h5M706.7 391.5h5M670.9 404.9h5M648.3 388.5h5M653.8 349.3h5M695.7 421.5h5M689.4 360.7h5M699.9 390.7h5M702.3 403.7h5M689.2 354.1h5M683.8 335.9h5M778.8 354.2h5M727.5 402.9h5M771 372.1h5M688.3 329.5h5M746.7 336.1h5M714.1 381.9h5M761.6 373.4h5M681.6 386.9h5M696.6 332.3h5M767.1 414.5h5M765.9 404.6h5M770.8 333.1h5M705.6 372.8h5M662.1 371.1h5M765.6 369.7h5M678.6 345.5h5M681.5 377.2h5M704.6 427.2h5M656.3 355.2h5M665.8 393.6h5M657.8 364.9h5M709.9 325.5h5M667.3 320.5h5M655.3 336.1h5M693.6 335.1h5M674.6 379.6h5M692.1 377.1h5M761.1 336.7h5M702.7 344.4h5M776.6 361.9h5M758.7 326.2h5M695.4 346.5h5M668.2 328.6h5M759.6 333.1h5M726.8 366.7h5M651.2 386.7h5M737.3 390.3h5M773 405h5M779.7 371h5M727.8 341.9h5M697.7 360h5M747.9 341.2h5M698 433.3h5M693.1 394.1h5M665.4 406h5M751.3 317.5h5M699.8 367h5M758.7 370.6h5M739 383.4h5M718.3 417.5h5M670 431.3h5M695.8 398.4h5M769.3 414.5h5M732.3 332.1h5M661.3 394.5h5M667.3 385.3h5M686.5 342.3h5M676.1 320.9h5M655.4 332.6h5M754.9 331.6h5M709 332h5M649.8 412.3h5M706 424.8h5M764.5 357.8h5M750.1 322h5M765.4 400.6h5M759.5 339.3h5M724.4 376.6h5M715.5 319.8h5M778.3 383.1h5M764.6 388.5h5M764.8 411h5M650.8 434.4h5M651 351.9h5M766.2 319.5h5M699.2 430.1h5M686.1 413.7h5M747.7 389.4h5M716.7 415.9h5M763.2 392.7h5M651.5 346.3h5M751.4 325.3h5M751.5 317.8h5M750.5 321h5M743.7 426h5M685 345.3h5M709.7 399.2h5M752.9 418.8h5M740.8 332.8h5M758.1 338.5h5M768.8 320.1h5M750 323.1h5M696.3 365.9h5M646.2 339.7h5M694.3 387.8h5M749.2 348.1h5M703.7 399.3h5M712.5 428.2h5M718.3 367.6h5M750.1 355.5h5M721 357.6h5M694.9 410.6h5M674.7 412.6h5M666.4 340.1h5M754.9 366.6h5M719 410.9h5M681.2 327.3h5M676.5 382.9h5M675.6 346.5h5M738.7 395.2h5M660.8 331.8h5M689.3 349.4h5M773.4 382.5h5M739.4 413.3h5M653.1 361.6h5M685.3 380.4h5M689.2 330.9h5M730.6 340.8h5M669.1 385.6h5M663.6 339.6h5M671.9 371.5h5M741 429.4h5M744.8 352.3h5M703.3 391.3h5M673.4 326.5h5M685 359.6h5M722.5 327.3h5M716.1 403.2h5M772.5 321.7h5M780.2 393.7h5M669.9 355.2h5M713.2 357.8h5M676.4 392h5M708.3 325.5h5M757.5 317h5M687 354.2h5M709.7 434.9h5M731.5 375.2h5M723 368.3h5M674.7 317.2h5M646.1 411.9h5M690.7 397.6h5M727.4 406.2h5M659.5 359.8h5M689.7 330.5h5M739.8 392.7h5M703.9 347.3h5M729.8 405.8h5M739.5 387h5M736.1 381.7h5M649.3 351.6h5M660.7 402.1h5M742.7 403.2h5M772.1 408.4h5M744.3 326.7h5M711 386.2h5M766.2 359.3h5M654.8 377.3h5M661.8 423.9h5M650.4 410.8h5M700.7 328.4h5M736.2 353.7h5M669.8 431.8h5M682.1 382.3h5M759 335.6h5M769.3 353.6h5M765.6 369.3h5M735.3 358.4h5M684.4 355.5h5M702.2 425h5M691.6 424.3h5M754.2 372.2h5M738.4 325.5h5M708.1 415.8h5M713.9 423.1h5M665.6 368h5M689.3 341.9h5M683.2 322.6h5M688.8 370.9h5M720.2 327.2h5M682.7 392.3h5M719.2 369.6h5M666.1 424.5h5M665.3 345.5h5M650.4 435.9h5M715.5 401.5h5M674.9 396.3h5M728.2 333.6h5M658.8 368.3h5M740 346.1h5M676.9 389.7h5M753.9 381.3h5M734.2 352h5M705.7 437.2h5M769.9 375.3h5M651.3 393.5h5M658.6 361.2h5M754.4 361.8h5M684.7 394.3h5M708.7 382.7h5M723.8 316.6h5M711.1 360.2h5M660.4 425.7h5M772.6 355.3h5M673.3 362.6h5M778.6 383.9h5M733.9 331h5M683.7 322h5M693.7 399.5h5M769.7 408h5M739.3 429.2h5M716.8 318.2h5M673.1 368.9h5M772.4 331.8h5M666.4 363.7h5M679.9 332h5M781.1 318.4h5M715.1 411.6h5M685.9 357.3h5M747.3 364.9h5M778.3 336h5M753.7 360.3h5M718.4 421.9h5M740.6 317.2h5M725.3 326.8h5M767.5 315.6h5M717.6 325.7h5M742.3 314.7h5M736.1 323.8h5M750 315.9h5M732.8 314h5M764.4 316.4h5M700.7 322.7h5M774.6 319.8h5M778 329h5M736.4 328.5h5M723.4 314.7h5M749.3 325.5h5M713.1 329.3h5M750.6 325.8h5M727.7 318.8h5M772.9 315.8h5M781.1 322.5h5M754.4 317.1h5M736.5 329.6h5M731.9 326h5M717.6 328.7h5M702.1 325.7h5M737.9 325.4h5M742 324.8h5M732.8 315.3h5M745.7 320.7h5M740.5 316.9h5M755.3 321.6h5M698.9 317.3h5M758.2 320.8h5M712.7 324.3h5M757.8 329.2h5M714.3 329.2h5M767.8 323.3h5M720.8 325.6h5M779.3 327.7h5M710.9 325.2h5M758.2 324.9h5M710.5 318.6h5M701.3 323.1h5M735.5 328.6h5M762.8 322.7h5M773.2 314.7h5M769.3 322.9h5M730.6 327.6h5M704.1 320.7h5M743.9 327h5M769 321.5h5M748.2 321.2h5M705.3 315.4h5M753.2 322.2h5M773.7 329.7h5M735.4 329.7h5M762.9 319.4h5M762.6 321.3h5M749.7 329.4h5M725.6 322.7h5M754.3 297.2h5M749 281.5h5M742.9 294.9h5M757.8 295h5M764.5 303h5M763.2 284.9h5M754.7 299.7h5M744.1 304.3h5M767.5 268.3h5M762.1 306h5M763.1 293.3h5M758.7 275.6h5M768.5 282.9h5M743 300.4h5M750.9 277h5M751.8 278.6h5M763.9 279.3h5M767.4 300.9h5M761.6 302.3h5M733.7 292.9h5M753.9 278.5h5M748.9 297.6h5M748.3 286.6h5M759.7 287.3h5M739.8 273.5h5M770.3 282.9h5M757.2 291.1h5M748.6 300.2h5M777.5 276.3h5M768.7 306.2h5M743.3 314h5M766.2 295.5h5M752.9 294.8h5M735.6 294.4h5M771.9 298h5M762 269.8h5M749.2 298.3h5M768 305.3h5M731 303.1h5M772.8 279.8h5M747.8 299.1h5M755.4 289.2h5M752.8 295.4h5M738.7 295.1h5M729.8 291.1h5M753.6 291h5M739.1 279h5M763 287.8h5M773 309.1h5M751.5 302.6h5M777.4 280.2h5M750.7 303.7h5M758.7 302.7h5M761.2 297h5M758.4 300.1h5M748.8 289.4h5M743.5 299.2h5M749.1 296.5h5M745.7 306.3h5M760.1 261.7h5M751.3 299.9h5M735.7 274.3h5M769 293.4h5M745.3 319.6h5M772.1 287.4h5M756.9 286.9h5M774.3 282.4h5M746.4 299.9h5M740.2 289.5h5M752.5 306.5h5M742.1 287.8h5M760.3 288.7h5M734 283h5M734.4 301h5M749.7 267.5h5M733.3 299h5M780.3 292.5h5M750.9 291.6h5M766.4 285.7h5M766.7 313.7h5M766.9 291.9h5M777.7 293.3h5M770.7 292.6h5M768.2 283.4h5M743.5 284.2h5M752.3 291.4h5M753.3 299.9h5M773.2 310.2h5M777.1 302.2h5M750 297.9h5M760.3 274.7h5M743.4 296.3h5M765 303.6h5M734.6 304.9h5M750.6 309.5h5M765.3 282.3h5M760.2 278.8h5M745.5 275.6h5M757.1 286.8h5M753.7 294.7h5M747.3 298.2h5M775.6 298.2h5M757.3 312.9h5M762 293.2h5M755.4 290.1h5M755.3 273.2h5M758.2 280.9h5M761.9 277.7h5M751.3 322.4h5M757.6 316.1h5M764.8 316.6h5M767.2 304h5M752.2 281.7h5M763.1 280.2h5M758.8 293.1h5M755.5 294.3h5M730.3 299.4h5M737.3 270.1h5M752.6 297.7h5M773.9 304.7h5M750.1 287.6h5M752 292h5M768.7 277.6h5M765.6 311.9h5M760 287.8h5M733.1 287.4h5M728.4 265.9h5M740.7 279.6h5M763.4 265.4h5M767.9 299.9h5M764 304.1h5M776.8 304.7h5M732.4 296.9h5M744.5 283h5M753.1 300.9h5M754.8 297.9h5M777.9 267.9h5M753.9 304.4h5M752.4 295.9h5M719.1 285.8h5M763 296.5h5M746.4 264h5M746.9 291.1h5M768.7 272h5M771.5 270.9h5M773.2 287.3h5M741.4 288.2h5M765 310.4h5M767.2 293.1h5M744.2 286.5h5M765.8 284.4h5M757.7 290.5h5M775.3 316h5M770.3 296.4h5M769.4 277.6h5M751.7 278.8h5M768.2 280.5h5M741.4 299h5M755 268.7h5M762.8 298.7h5M769.1 300.9h5M754.4 298.5h5M776 303.6h5M768.2 309.1h5M759.6 316.8h5M759 258.7h5M726.7 270h5M763.5 312.3h5M746.3 309.5h5M752.9 282.8h5M760 312.3h5M778.7 258h5M769.3 260.1h5M762.1 310.8h5M767.8 280.1h5M761.4 283.7h5M759.6 289h5M759.3 288.8h5M756.8 285.1h5M755.4 285.8h5M746.4 292.1h5M773.5 282.3h5M778.7 283.1h5M745.2 282.9h5M765 282.6h5M771.3 275.3h5M761 302h5M768.9 296.2h5M760.3 298.8h5M746.9 276.1h5M778.4 307.6h5M754.5 287h5M744.4 291.3h5M776.2 304.5h5M734.1 279.9h5M747.9 282.2h5M753.6 282.4h5M750.9 299.7h5M754.7 291.3h5M788.5 290.3h5M738.2 310.3h5M766.4 277h5M781.2 279.4h5M755.3 292.7h5M743.8 310h5M779 278.5h5M797.9 272.1h5M745 275.5h5M765.4 298.1h5M737.4 298h5M753.6 320.1h5M784 290.2h5M767.5 287.5h5M769.2 295.9h5M755.1 294h5M760.8 299h5M771.7 284h5M739 294.8h5M765.8 293h5M756.7 278.6h5M761.5 314.2h5M777.1 324.2h5M738.9 263.8h5M727 281.5h5M758.8 297.2h5M759.3 266.9h5M769.7 280.8h5M761.7 290.3h5M762.8 253.2h5M772 295.6h5M778.1 294h5M748.4 312.2h5M767.3 289.9h5M726.4 292.4h5M745.3 290.7h5M742.1 265.4h5M746.7 303.6h5M764.7 294.2h5M753.1 295.3h5M768.8 304.9h5M763.1 284h5M753.1 296.4h5M767.2 295.5h5M745.9 284.7h5M742.8 287.3h5M759.4 275.4h5M744.4 270h5M751.2 270.2h5M754.3 277.3h5M737.5 284.8h5M774.8 293.7h5M724.5 305.1h5M732.3 303.1h5M761.1 299.2h5M765 286.3h5M750.4 303.7h5M735.4 297.1h5M739.7 303.3h5M757.1 291.6h5M743.1 277.7h5M732.1 301.5h5M754.7 296.9h5M783.8 302h5M735.7 279.2h5M751.3 279.5h5M767 304.4h5M751.5 299.3h5M736.6 306.2h5M749.4 278.1h5M760.5 308.6h5M758.1 297.3h5M746.5 279.6h5M739.3 308.4h5M755.5 308.1h5M746.6 323.3h5M765.1 310.6h5M747.2 281.9h5M777.1 308.6h5M765.5 309.7h5M748.9 299h5M747.5 294.8h5M746.5 276.1h5M741.9 297.7h5M769.7 293.4h5M748.4 294.4h5M754 282.4h5M755.8 295.3h5M762.4 273.2h5M738.1 287.3h5M729.5 289.7h5M751.9 273.8h5M745.8 271.6h5M748.1 300.5h5M732.6 313.1h5M751 298.7h5M758.7 270.8h5M750.8 277h5M728.2 263.1h5M753.5 289.2h5M753.1 299h5M757.6 298.7h5M791.7 299.3h5M755.5 287.7h5M769 316h5M753 280.1h5M755.6 302.7h5M751.5 285.4h5M757.1 296.3h5M760.2 288.8h5M750.5 291.6h5M752.2 279.2h5M759.6 279.8h5M775.7 289.6h5M766.3 301.2h5M762.7 304.4h5M738.7 297.4h5M761.1 320.3h5M752.4 300.1h5M765.5 281.1h5M786.7 284.1h5M768.4 264.7h5M777.5 305.9h5M784.4 307.9h5M742.6 312.7h5M760.1 291.9h5M766.3 291h5M759.6 299.6h5M777.4 332.7h5M751.6 294h5M753 283.9h5M748.2 306.5h5M772.5 294.2h5M754.9 273.6h5M757.9 313.6h5M759 278.7h5M764.1 296.8h5M738.6 287.8h5M764.8 299h5M755.1 297.8h5M736.5 285h5M759.7 302.9h5M752.8 305.9h5M773.7 298.4h5M743.2 287.6h5M757.1 300.6h5M765.6 301.5h5M757.1 276h5M728.3 306.9h5M740.1 315h5M742.4 311.3h5M736 292.7h5M751 289.4h5M730.1 304.5h5M770.6 296.1h5M741 262.8h5M761.7 284.9h5M756.8 305.3h5M788 293h5M768.8 295.9h5M782.7 276.3h5M758.9 275h5M756.3 308.8h5M743.8 307.6h5M774.8 277.4h5M770.3 290.9h5M743.3 269.4h5M783.6 274.6h5M737.2 301.6h5M770 302.9h5M755.6 279.5h5M752.2 270.8h5M737 310.8h5M745 271.5h5M775 286.7h5M754 297.5h5M732.8 320.9h5M754.8 292.3h5M770.9 308.1h5M757.1 292.9h5M730 280.3h5M762.5 281.5h5M757 293h5M748.7 314h5M779.5 288h5M787.2 287.8h5M736.5 307.3h5M756.3 276.1h5M756.3 286.9h5M762.8 289.1h5M763.6 304.6h5M767.7 314.1h5M746.4 287.2h5M762.8 282.7h5M732.3 290.9h5M754.5 315.6h5M728.6 284.7h5M752.3 275.5h5M744.8 283.5h5M795.7 298.3h5M757.1 309.7h5M750.7 284.5h5M767.6 308.3h5M734.5 279.7h5M775.1 291h5M756.2 294h5M744.4 269.7h5M737.3 284.1h5M758.3 306.4h5M761.5 291.4h5M745.4 291.3h5M757.2 301.4h5M763.5 295.5h5M775.2 281.5h5M757.1 283.8h5M745.4 305.4h5M749.6 284.7h5M775.7 302.9h5M761.9 281h5M756.5 289.4h5M734.1 269.3h5M744 312.7h5M779.3 292.2h5M758 303.7h5M755.6 284.3h5M785.2 289.7h5M746.6 293.5h5M743.8 269.3h5M764.8 292h5M765.2 270.7h5M752.8 286.2h5M780.6 298.1h5M779 302.1h5M757.5 287.4h5M776.7 296.7h5M767.3 271.4h5M763.4 284.8h5M759 272h5M746.3 285.1h5M747.5 275.4h5M742.1 286.5h5M745.3 291.9h5M773.6 301h5M786 278.2h5M754.1 301.2h5M737.2 302.2h5M784.4 303.1h5M738.8 284.2h5M747 314.5h5M767.8 298.7h5M742.9 308.4h5M756 301.8h5M750.4 291.7h5M758.9 259.4h5M765.4 281.6h5M767.1 278.8h5M770.1 280.7h5M764.8 330.2h5M759.6 289.5h5M748 283.2h5M733 281.2h5M766.6 286.2h5M756.4 323.9h5M748.8 302.8h5M764 292.5h5M770.3 291.2h5M742.1 298.1h5M745.7 288.6h5M745.7 299.6h5M763.5 301.5h5M765 303.2h5M763.5 277.3h5M761.1 299.3h5M755.9 261h5M757.8 295.1h5M764.1 275.3h5M758.9 291.1h5M748.7 286.2h5M776.3 288.2h5M737.1 295.8h5M748.4 268.8h5M744.1 315.1h5M768.5 296.3h5M770 290.3h5M759.9 290.8h5M747 302.5h5M776.8 300.5h5M758.5 284.9h5M767.5 271.6h5M770.5 270.8h5M750.5 281.6h5M749.7 293.6h5M778.9 276.1h5M746.8 301.6h5M771.5 296.7h5M772.9 317.9h5M762.7 279.4h5M744.9 274.2h5M745.6 280.7h5M743.5 292.4h5M766.4 278.1h5M750.7 288.9h5M769.1 295.2h5M757.9 279.3h5M766 304.8h5M763.5 281.9h5M774.3 297.7h5M764.4 286.7h5M758.5 271.2h5M763.1 287.9h5M780.2 289.1h5M759.5 278.4h5M745.7 283.4h5M765.7 306.5h5M768.5 283.5h5M761.1 276h5M749.1 270.5h5M761.2 301.8h5M762.9 303.7h5M767.5 296.5h5M778.7 312.4h5M765.2 294.1h5M759.8 298.5h5M745.9 294.8h5M777 307.4h5M759.8 281.9h5M739 287.9h5M736.8 296.5h5M751 291.7h5M770.4 297h5M754.8 317.4h5M758.3 274h5M740.4 272.8h5M755.6 284h5M777.9 269.1h5M754.4 291.2h5M758.3 279.8h5M755.3 288.5h5M742.9 272.6h5M788.7 287.4h5M732.2 259.7h5M756.1 278.1h5M790.9 272.6h5M745.3 210.5h5M776.7 269h5M728.8 297.5h5M756.1 308.9h5M760.9 293h5M765.4 285.6h5M730.4 289.1h5M723 257.1h5M745.1 247.8h5M757 266.7h5M749.1 208.9h5M750 291.1h5M831.2 278.5h5M781.9 292.6h5M753.3 219.5h5M754.1 286.9h5M725.9 295.3h5M780.5 262.7h5M755.8 214.5h5M801.3 287.5h5M780.1 256.5h5M737.7 278.4h5M783.8 263.1h5M748.3 267.8h5M780.6 247h5M771 263.7h5M752 277.4h5M757.5 280.7h5M812.2 266.9h5M753.5 249h5M729.6 271.3h5M742.9 213.1h5M751.4 292h5M743.4 291.4h5M741.5 266.9h5M740 268.6h5M769.5 290.3h5M739 241.6h5M832.1 251.3h5M753.9 233.2h5M722.1 282.5h5M772.2 307.2h5M759 261.3h5M755.4 276.5h5M720.2 219.8h5M743.8 239.6h5M750.8 286.7h5M792.8 291.5h5M784.4 297.7h5M733.4 306.4h5M780.4 271h5M759.6 287.9h5M746.6 287.7h5M736.5 300.4h5M770.1 281.3h5M815.2 274.3h5M776.6 247.9h5M775.4 260.1h5M730 242.3h5M777.1 269.7h5M767.6 255.2h5M729.7 263.1h5M732.8 274.2h5M778.8 300.8h5M727.9 260.7h5M752.2 305h5M764 276.5h5M761.5 302.2h5M742.5 248.7h5M757.5 273h5M750.4 264.6h5M781.4 258.2h5M739.7 238.6h5M780.2 267.3h5M744 201.1h5M773.4 244.9h5M770.5 273.3h5M753.8 280.5h5M738.3 277.6h5M746.8 277.6h5M758.6 249.1h5M756.7 246.8h5M722.4 278.3h5M808.1 267.5h5M810.6 268.6h5M744 204.8h5M743.4 243.1h5M749.8 278.4h5M751.8 280h5M772.4 271.5h5M775 249.5h5M757.1 284.4h5M745.6 200.8h5M704.6 300.2h5M775.7 280.1h5M761.7 251.5h5M734.6 291.2h5M744.4 262.3h5M729 235.8h5M786.1 217.4h5M812.3 279.7h5M737.1 278.8h5M748.2 204.6h5M741.6 264.4h5M723.9 284h5M765.8 260.7h5M789.9 225.1h5M801.9 296.1h5M735.3 241h5M761 215.4h5M735.6 260h5M786.8 216.1h5M720.7 299.9h5M831.2 294.1h5M807.3 289.2h5M760 294.2h5M781.7 306.9h5M810.1 293.6h5M830.8 294.6h5M819.3 292.5h5M762 300.2h5M813.4 299.1h5M787.8 284.9h5M828.2 301.1h5M854 287.4h5M835.6 310.9h5M768.7 302.5h5M826.9 306.5h5M818.8 292.5h5M759.5 303.2h5M797 297.1h5M824.4 304.8h5M851.4 289.1h5M841.8 312.8h5M795 294.3h5M815 295.2h5M841 289.3h5M824.6 291h5M824.7 284.8h5M844.4 300.2h5M829.5 307.2h5M787.9 300.9h5M812.4 315.4h5M855.8 284.2h5M835.8 286h5M804.2 280.4h5M870.8 279.5h5M805.9 295.7h5M845.5 291.1h5M831.5 308.1h5M810.7 281.9h5M835.8 291.9h5M833.6 307.8h5M834.8 297.8h5M830.2 291.4h5M809 313.4h5M785.3 278.7h5M842.6 293.9h5M822 302.1h5M769.8 280.4h5M827.1 289.5h5M824.5 292.3h5M826.7 296.2h5M813.7 296.5h5M800.5 292.9h5M797.8 276.6h5M792.2 298.5h5M830.8 293.9h5M856.5 272.1h5M821.1 293.7h5M832.5 301.5h5M855.9 287.8h5M819.3 305.6h5M837.7 286.2h5M788.7 304.6h5M808.4 298.2h5M817.3 297.7h5M797.1 306.1h5M794.8 287.9h5M819.5 288.6h5M842.8 308.9h5M815.4 288h5M839.7 297.8h5M842.3 286.2h5M842.7 305.2h5M806.3 309.6h5M820.1 296.7h5M852.8 278.9h5M777.1 296.9h5M790.6 290.3h5M835.2 301.6h5M832.2 290.6h5M776.2 322.1h5M818.4 297.6h5M839 298h5M791.8 283.2h5M809.3 284.7h5M819.5 292.1h5M842 286.5h5M853.4 287.4h5M856.8 290h5M816.5 297.3h5M794.5 298.9h5M801.6 303.9h5M795.6 292h5M825.1 303h5M795.3 306.9h5M845.5 288h5M801.4 292.6h5M864.8 304.9h5M838.6 277.2h5M814.3 295.8h5M819.6 288h5M807.2 289.3h5M791.2 301.4h5M796.5 309h5M830.5 306.6h5M819.8 288h5M827.5 280.7h5M769.5 301h5M845 305.3h5M825.6 291.3h5M849.8 292.1h5M825.7 304.5h5M822.5 296.2h5M833.2 293.3h5M838.3 310.7h5M849.3 298.2h5M821.9 298.2h5M848.8 293h5M864.1 301.2h5M809.1 285.2h5M829.3 306.5h5M852 313.5h5M853.1 311.7h5M834.1 298.6h5M869 301.5h5M839.2 297.6h5M810.3 299.1h5M830.6 298.2h5M838.2 312.3h5M804.2 300.8h5M850.4 302.7h5M803.7 306.8h5M798.2 285.9h5M820.9 293.1h5M843.9 296.4h5M818.3 296.9h5M802.1 283.9h5M822.6 294h5M806.3 293.8h5M820.6 302.2h5M832.9 309.8h5M830.6 286h5M840.9 296.4h5M809.5 296.5h5M839.6 295.7h5M812 306.9h5M796.4 291.8h5M825.7 292h5M816.6 300.3h5M817.9 290.7h5M844.3 290.6h5M805.3 273h5M842.8 263.9h5M805.2 281.6h5M794.8 281h5M826.7 277.5h5M809.8 267.2h5M825 279.3h5M804.8 286.2h5M846.9 280.5h5M847.4 281.6h5M835.5 250.9h5M803.4 293.6h5M850.9 264h5M825.2 290.7h5M817.5 280.1h5M783.3 282.6h5M819.8 289.7h5M801.3 286.4h5M808.3 289.8h5M857.9 262.4h5M853.5 272.8h5M870.3 275.7h5M805.5 292.9h5M829.2 294h5M787.9 288.6h5M787.4 294.1h5M840.9 276.6h5M890.6 243.2h5M891.9 262.8h5M791.6 293.7h5M800.9 299.2h5M809.4 306.7h5M815.5 284.5h5M869.6 262.4h5M824.3 301.7h5M789.3 295.3h5M815 275.5h5M786.1 274.6h5M791.4 304.6h5M892.2 252.6h5M875.4 282.1h5M829.6 264.8h5M870.8 276.8h5M871.7 260.7h5M831.7 273.2h5M836.8 280.8h5M793.8 300.1h5M893 247.5h5M836.6 251.6h5M804.5 293.1h5M868.7 278.2h5M857.9 275.3h5M820.8 274.6h5M806.9 275h5M799.8 289.7h5M903.2 241.7h5M837.6 261.2h5M809.6 280.8h5M857.9 273.5h5M858.1 257.3h5M861.8 265.3h5M789.4 294.3h5M807.8 292.4h5M837.2 285.3h5M835.9 295.3h5M786.8 301.2h5M874 253.2h5M846.8 266.5h5M788.2 286.7h5M850.2 274.8h5M789.4 277.8h5M811.9 286h5M860.6 272.8h5M817.5 288.7h5M782.6 287.7h5M813.8 272.1h5M839.8 296.4h5M822.1 292.5h5M816.1 283.6h5M791.5 289.8h5M821.7 274h5M814 271.2h5M881.6 258.6h5M835.7 270.6h5M819.2 276.4h5M827 289.1h5M883.5 234.9h5M860.1 261.4h5M869.3 260.8h5M803.3 281.3h5M838.1 259.1h5M794.7 292.7h5M795.2 283.5h5M792.7 298.3h5M795.5 277.1h5M841.1 274h5M789.8 296.9h5M802.1 299h5M874 271.3h5M864 269.7h5M782 291.8h5M803 298.5h5M789.8 281.4h5M806.5 286.7h5M847.4 269.7h5M821 302.8h5M789.6 295.6h5M786.3 294.4h5M817.6 282.2h5M789.3 300.7h5M829 285.6h5M880.9 264h5M842.3 293.8h5M864.2 260.2h5M868 264.1h5M826.3 280.1h5M830.9 251.2h5M830.8 301.7h5M904.4 232.3h5M799 296.6h5M795.1 285.8h5M879.5 264.1h5M789.1 285.5h5M813.4 295.3h5M880 264h5M826.9 290.1h5M797 314.8h5M879.2 264h5M844.8 299.3h5M814.7 272.5h5M823.4 282.8h5M853.9 277.3h5M849.7 271.8h5M783.6 291.2h5M832.4 282.1h5M838.1 287.5h5M804.6 301.3h5M843.2 258.7h5M793.7 293.8h5M894.9 263.5h5M798.5 275.3h5M866.6 274.5h5M842 256.4h5M863.9 254.5h5M823.6 299.5h5M806.7 287.3h5M789.4 276.8h5M791.5 290h5M794.4 288.5h5M788 286.8h5M796.9 296.6h5M805 287.7h5M798.7 294.3h5M802.4 270.9h5M785.9 298.6h5M813.3 274.4h5M841.6 267.4h5M888 264h5M800.2 291.9h5M797.1 302h5M824.4 274.5h5M847.9 266.7h5M868.5 246.9h5M805.6 280h5M804.3 297.3h5M886.8 269.8h5M831 275.5h5M872.5 259.2h5M791 302.5h5M783.2 294.6h5M811.1 275.6h5M815.8 293.3h5M826.7 277.2h5M803.4 279.9h5M905.1 237h5M810.7 284.7h5M843.5 261.8h5M837.6 276.3h5M888.5 260.5h5M791.1 304.9h5M811.8 308.8h5M799.8 295.3h5M799 267.1h5M800.2 314.5h5M828.3 270h5M797.1 303.2h5M795.2 298.3h5M831.2 283.2h5M855.5 272.6h5M811 280h5M835.1 282.9h5M797.8 287h5M803.4 275.8h5M857.9 260.7h5M802.9 271.9h5M797.8 288.9h5M802.8 291.3h5M900.5 245.6h5M784.3 297h5M824.3 277.1h5M807.4 289.4h5M818.1 295.2h5M841.3 265.6h5M801.7 290.4h5M787.3 302.6h5M800.8 297h5M801.9 281.5h5M809.4 288h5M835.4 273.1h5M812.1 304.9h5M784.3 286.8h5M812.9 279.7h5M796.5 287.1h5M785.9 287.5h5M780.2 285.9h5M809.3 280.4h5M793.3 302.5h5M859 269.3h5M796.8 301.2h5M826.9 271.9h5M848.4 266.9h5M820.1 286.5h5M835.1 271.5h5M813.4 286.2h5M816.7 281.9h5M796.9 295.9h5M887.6 260.8h5M798.2 285.7h5M803.2 287.8h5M793.4 298.9h5M895.5 265.8h5M845.3 263.9h5M858.2 263.8h5M800 298.7h5M803.9 310.3h5M843.3 288.6h5M846.4 259.1h5M873.1 259.6h5M844.9 256.6h5M820.2 278.4h5M809.4 292.8h5M858.2 259.4h5M783.6 280.2h5M810.8 307.4h5M798.9 289.2h5M848.5 266.5h5M803.4 274.6h5M819.3 285.4h5M807.1 309.5h5M807.7 293.8h5M782.3 289.5h5M793.7 275h5M803.1 298.1h5M793.8 289.7h5M788.6 290.1h5M790.9 284.5h5M814 297.1h5M857.3 259.1h5M783.9 285.3h5M803 263.1h5M812.5 294.8h5M826.3 273.5h5M831.2 281.9h5M829.9 270.3h5M806.9 269.2h5M800.9 314.6h5M821.3 270.1h5M804.3 302.7h5M804.3 297.3h5M855.2 261.1h5M890.2 259.6h5M873.7 263.9h5M806.8 298.9h5M828.6 279h5M814.8 284.4h5M859.3 275.2h5M805.9 281.7h5M826.7 281.1h5M842.1 287.5h5M826.7 270.3h5M794.1 288.6h5M854.5 265.7h5M826.3 271h5M843.4 263.4h5M792.7 305.8h5M825.5 267h5M872.6 243.1h5M795.2 290.8h5M793.8 289.1h5M785.3 284.7h5M807.7 284.7h5M854.5 275.8h5M817.5 285.8h5M845 266h5M804.8 293.2h5M874.2 255.8h5M801.6 300.7h5M807.8 291.5h5M834.8 257.2h5M829.2 275.9h5M834.6 273h5M895 247.6h5M844.6 281.7h5M804.4 291.7h5M792.6 303.4h5M819.9 287.9h5M789.3 292.7h5M885.2 264.7h5M788.1 293.8h5M817 287.7h5M793.3 293.9h5M815.3 284.3h5M797.9 278.7h5M802.9 317.7h5M783.4 271.2h5M866.6 255.1h5M853.3 285h5M797.3 301h5M801.5 296h5M820 280.9h5M786.2 300h5M790 294.7h5M812.8 308.9h5M821.8 283.6h5M802.8 298.4h5M813.8 290.8h5M783.7 278.4h5M778.9 272.3h5M810.9 304.9h5M860.6 260.2h5M891.9 244.3h5M802.8 272.1h5M831.7 287h5M828.3 286h5M797.3 310.4h5M809.8 296.5h5M836.4 275.2h5M827.4 297.4h5M786.7 283.6h5M872.5 254.9h5M858.3 271.1h5M789.2 274.6h5M785.6 289.3h5M840.1 280.7h5M838 276.3h5M843.1 259.8h5M804.6 292.8h5M831.2 298.4h5M894.7 263.4h5M827.8 277.9h5M905.6 235.2h5M884.7 229.9h5M866.6 263.2h5M809.1 288.9h5M846.1 282.3h5M828.7 290h5M793.2 290.8h5M760 210.6h5M840.4 251.3h5M799.3 261.5h5M852.8 268.3h5M846.3 269.8h5M754.8 215.4h5M830 272.4h5M827.8 253.8h5M871.8 265.5h5M816.8 268.2h5M872.1 247.4h5M873.4 255.6h5M817 272.6h5M866.5 249.9h5M797.6 273.3h5M867.8 273.6h5M856.4 281.7h5M841.8 282.5h5M870.1 269.1h5M835.9 284h5M865.9 254.7h5M811.7 243.9h5M796.1 263.4h5M814.6 242.1h5M838.2 268.4h5M826 296.2h5M829.6 247h5M758.1 251.1h5M834.8 276.9h5M830.5 253.2h5M813.7 240.2h5M834.6 255.7h5M811.3 282.7h5M854.5 260.8h5M782.2 278.4h5M824.8 270.2h5M814.4 237.5h5M777.8 247.7h5M811.7 245.1h5M773.5 285.1h5M781.5 293.2h5M834.8 276.8h5M821.6 270.6h5M844.3 263.6h5M832.8 279.1h5M781.4 282.5h5M779.3 373.4h5M806.2 301.2h5M806.1 265h5M781.2 363.4h5M809.6 336.5h5M791.9 391.2h5M824.5 373.8h5M789.6 356.7h5M799.5 355.2h5M791.8 395.6h5M778.1 310.9h5M814.3 364.4h5M788.8 343.7h5M779.6 389.4h5M784.1 326.3h5M813.3 354.8h5M810.3 343.3h5M797.2 335.2h5M783.4 334h5M778.9 356.2h5M802.3 364.9h5M799.6 340.8h5M796.8 328.2h5M802.1 271.6h5M801.3 311.9h5M808.1 346.2h5M798.2 372.9h5M795.9 352.6h5M801.6 327h5M807.4 378.9h5M798.6 357.4h5M763 346.9h5M792.3 342.5h5M780.6 338.7h5M803.1 303.3h5M791.6 326.3h5M789.3 371.5h5M804.2 373.5h5M832.3 297.7h5M806.7 351.2h5M786.2 370.2h5M787.1 363.8h5M799.9 319.6h5M806.4 371.2h5M796.6 360.3h5M807.4 354.1h5M809.7 329.3h5M810.3 354.1h5M800.4 372.8h5M794.6 357.3h5M798.3 356.8h5M816.7 388.7h5M829.1 371.5h5M779.9 350.6h5M784.6 376.4h5M793.1 358.8h5M794.3 329.8h5M791 361h5M785.8 341.7h5M806.5 345.2h5M799.6 360h5M786 339.3h5M781.9 379.1h5M814.3 340.5h5M805.9 358.3h5M836.8 313.8h5M806 368.3h5M805.1 377.9h5M788.4 350.8h5M804.7 317.7h5M792.8 357.5h5M772 309.8h5M797.6 341h5M790.8 397.9h5M783.9 356.7h5M809.5 331.7h5M781.2 391h5M802.3 373h5M788.1 339.6h5M777 345.1h5M788.1 358.9h5M782.5 361.6h5M782.7 299.5h5M805.7 364.6h5M813.3 345.6h5M789.4 328.6h5M807.3 338.4h5M809 342.6h5M809.5 310.9h5M805.7 313.8h5M818.8 364.9h5M806.2 338.9h5M794.6 336.8h5M777.4 364.1h5M802.5 342.3h5M818 345.2h5M816.3 347h5M780.5 377h5M790.8 407.2h5M789.7 339h5M795.6 325.6h5M768.5 362.3h5M774.3 379h5M777.2 381.5h5M785.9 379.6h5M787.1 363.6h5M785.3 375.6h5M768.5 317.3h5M788.4 335.3h5M806.5 343.1h5M785.8 347.5h5M801.7 335.4h5M800.7 298.8h5M814.1 388h5M776.1 355.7h5M809.8 372h5M793.1 401.1h5M812.7 311.2h5M814.6 388.7h5M804.5 365h5M810.2 267.9h5M791.8 356.9h5M785.1 347.5h5M777 408.5h5M800.3 369.4h5M787.4 351.3h5M798.8 355h5M772 328.7h5M773 334.3h5M792.1 343.3h5M796.6 364.2h5M806.7 303.5h5M801.6 374.4h5M800.2 331.4h5M814 361.6h5M809.7 388.8h5M762.8 350.9h5M781 376.7h5M799.3 309.3h5M759.6 350.2h5M792.5 368.4h5M788.5 296.7h5M784 330h5M798.1 345.8h5M794 344.6h5M815.6 348.8h5M770.9 336.5h5M778.8 344.5h5M839.1 314.3h5M776.2 321.6h5M769.2 365.2h5M785.6 323.4h5M784.9 346.8h5M803.7 335.6h5M803.4 365.7h5M824.2 372.3h5M787.5 337h5M794.1 322h5M804.7 286h5M793.2 343.8h5M778.8 356.9h5M808.3 333.5h5M771 362.1h5M808.9 342.2h5M802 360.9h5M822.2 375.2h5M792.2 360h5M804.2 320.4h5M811.1 333.3h5M780.2 359h5M773.4 380.9h5M790.7 357h5M796.4 357.5h5M808.4 282.3h5M799.8 333.6h5M797.7 320.1h5M813.2 387h5M805.6 333.4h5M788.9 373.6h5M795.4 346.4h5M788.7 362.8h5M798.3 329.6h5M731.6 239.8h5M733.4 245.5h5M737 243.2h5M755.4 266.6h5M755.7 213.6h5M742.9 234.6h5M785.3 221.4h5M738.7 262.5h5M748 274.8h5M725.6 262.2h5M773.1 247.1h5M753 234.2h5M745.8 212.2h5M731.7 190.8h5M775.2 229.8h5M790 219.9h5M823.7 246.8h5" stroke="#f04050" stroke-opacity="0.42" stroke-width="5" fill="none"/>
<path d="M690.2 384.6h3M677.7 383.6h3M736.1 332.9h3M701.9 348.9h3M728.1 349.5h3M650.1 345.2h3M703.4 306.8h3M682.1 408.8h3M705.3 411.8h3M741.1 391.4h3M669.2 335.5h3M676.8 319.4h3M728.3 370.9h3M662.2 366.8h3M715.7 351.7h3M726.2 317.6h3M709.5 389.4h3M749.7 379.2h3M709 356.5h3M702.7 375.7h3M718.4 377.6h3M733.5 322.6h3M712.5 387.5h3M683.4 348.5h3M740.5 377.5h3M753.4 388.5h3M779 350.9h3M705.8 359.6h3M694.2 340.3h3M677.4 354.3h3M703.2 348.6h3M732.5 385.2h3M711.3 345h3M751 363.4h3M677.8 363.7h3M711.5 362h3M685.2 402.4h3M704.8 413.5h3M732.8 383.2h3M740.1 375.9h3M712.5 327.1h3M728.5 343.2h3M741.4 362.1h3M676.7 381.4h3M726.9 384.2h3M753.5 380.3h3M684.4 335.5h3M697 388.8h3M737.7 331.8h3M705.3 358.3h3M760.7 380.7h3M721 333.7h3M690.8 381h3M683 380.5h3M705.6 391.3h3M675.1 352.8h3M711 363.5h3M708.9 356.9h3M793.8 338.1h3M751.3 320.4h3M715 302.8h3M720.1 348.8h3M750.5 391.6h3M685.2 373.3h3M675.7 395.9h3M737.1 361.9h3M746.8 329.9h3M684.7 314.1h3M725.5 378.3h3M707 308.1h3M731.7 347.6h3M773.4 362.8h3M708.5 373.6h3M685.3 369.8h3M719.9 323.6h3M718.7 305.7h3M772.1 361h3M740.9 329.4h3M697.3 380.4h3M672.9 372.8h3M714.2 402.2h3M693.3 360.8h3M682.9 388.8h3M706.3 335.8h3M761.7 330.1h3M797.7 302h3M714.9 344.1h3M731.2 370.8h3M745.1 342.9h3M721.8 373.9h3M747.2 317h3M711.3 352.6h3M731.8 345h3M725.3 376.3h3M668.8 360.5h3M687.6 347.4h3M726.6 350.9h3M702.3 335.2h3M738 387.3h3M717.9 414.2h3M706.7 351.5h3M725.3 346.9h3M701.3 351.6h3M718.9 317h3M697.1 374.2h3M736.5 348.3h3M700 342h3M753.2 334.6h3M712 342.8h3M705.8 369.7h3M741.5 377h3M677.6 374.6h3M731.1 393h3M740 328.9h3M670.2 347.4h3M679.3 345.6h3M698.2 381.5h3M722.2 353.9h3M736.1 329.5h3M738.8 309.4h3M696.8 334.1h3M716.1 325.5h3M722.5 343.2h3M733.4 294.2h3M712.4 410.8h3M698.4 393.3h3M720 402.6h3M763.5 376.5h3M729.6 325.8h3M733.6 374.1h3M796.3 342.5h3M664.6 365.1h3M693.1 322.8h3M746.3 348.4h3M756.6 370.3h3M671.7 360.5h3M713.6 323.8h3M738.3 341.1h3M707.3 407.5h3M677.6 354.4h3M707.5 357.3h3M753.5 348.1h3M710.3 339.7h3M682.7 400.3h3M746.8 370.6h3M731.3 378.1h3M699.8 367.2h3M729.1 318.4h3M746.4 426.1h3M684.6 339.5h3M720.9 303.4h3M710.4 375.3h3M765.1 410.7h3M693.8 397.2h3M741.8 353.2h3M676.2 335.5h3M773.2 344.7h3M735.9 342.3h3M753.4 375.4h3M709.7 378.7h3M712.3 336.6h3M732.8 375.3h3M769.7 365.6h3M699.2 367.6h3M684.2 319.5h3M707.5 378.9h3M752.3 316.7h3M717.2 346.7h3M686.9 324.2h3M727.4 347.2h3M772.1 324.9h3M689.6 360.4h3M712.4 354.2h3M706 355.7h3M706 323.6h3M762.1 278.1h3M738.2 279.2h3M735.5 367.7h3M719.9 328.4h3M735.5 348.7h3M751.8 373.3h3M734.7 328.1h3M677.3 327.5h3M754.1 363.9h3M693.7 337.5h3M700.8 362.3h3M738.5 281h3M705.9 326.7h3M731.8 369.1h3M716 343.4h3M745.3 335h3M678.2 380.5h3M708 389.9h3M739.2 332.6h3M665 337.9h3M677.9 405.7h3M759.8 391.7h3M710.8 312.2h3M729.7 371.1h3M760.6 343.4h3M682.4 329h3M746.2 324.2h3M716.6 390.4h3M683.6 342.9h3M736.7 316.3h3M723.3 362.6h3M739.1 342h3M695.1 398.3h3M723.3 348h3M713.6 399.2h3M674.1 331.7h3M705.8 414.7h3M707.5 438.7h3M753.1 314.7h3M747.5 392.7h3M714.6 330.7h3M694.3 386.1h3M736.1 355.4h3M749 363.9h3M728.3 342.6h3M700.6 318.8h3M690.6 361h3M753.8 367.2h3M718.2 339.6h3M682 355.1h3M716 357.4h3M747 379.2h3M695.9 344.6h3M776.9 377.6h3M685.8 391.4h3M750.7 365.2h3M714.8 363.8h3M703.1 346h3M680.4 401.2h3M704.2 369.6h3M713.8 402.2h3M751.5 356.2h3M706.4 402.1h3M681.3 340.4h3M706.7 359.4h3M798.1 370.5h3M692.2 360.7h3M701.1 346h3M699.1 372.5h3M658.8 398.6h3M747.3 338.5h3M711.4 386.1h3M701.3 371.2h3M703.6 359.8h3M685.9 362.9h3M721.1 413.7h3M669.9 354.9h3M755.2 279.8h3M761.2 333.8h3M691.5 342.4h3M721.6 370.8h3M716.2 307h3M706.5 377.7h3M739.5 279.9h3M666.8 355.7h3M748 353h3M731.1 350.3h3M720.8 373.8h3M731.4 346.8h3M718.2 364.8h3M759 386.8h3M746.5 344.3h3M715.1 344.7h3M758.1 338.5h3M750.2 389.2h3M749.1 339.2h3M722.7 416.3h3M734.4 303.7h3M693.8 419.9h3M725.9 311.7h3M697.9 342h3M680.1 308.1h3M706.7 352.8h3M673.4 394.1h3M736.4 394.6h3M715 398.3h3M726.4 387.7h3M762.7 355.5h3M679.4 361.6h3M727.8 336.2h3M732.5 327.5h3M686.5 333.6h3M692.8 344.8h3M715.9 360.5h3M697.3 330.3h3M737.1 369.1h3M734.3 375.5h3M671.8 348.2h3M720.8 336.5h3M757.7 333.1h3M695.5 357.4h3M723.8 379.3h3M710.3 339.6h3M690.2 390.9h3M673.5 349.4h3M782.3 343h3M728.6 325h3M704.6 355.8h3M707.2 358.7h3M727.5 377.7h3M698.3 387.2h3M727.5 343.2h3M783.6 379.9h3M702.1 310.7h3M734.5 356h3M767 402.3h3M704 382.1h3M685.6 320.3h3M683.1 351.3h3M763.5 385.2h3M701.9 435.9h3M708.4 342.5h3M741.1 376.8h3M763.2 368.7h3M713.3 403.9h3M743.3 336.1h3M743.4 274.4h3M706.9 329.8h3M707.4 366.5h3M701.1 351.6h3M699.6 343.9h3M726.5 375.4h3M760.6 395.9h3M761.7 374.3h3M714.2 369.7h3M672 347.2h3M745.8 323.2h3M694.5 356.2h3M721.4 362.3h3M683.4 360.6h3M723.2 368.8h3M716.7 332h3M703.2 377.7h3M723.1 343.1h3M757.3 377.5h3M691.5 334.4h3M742.2 350.4h3M702.6 290h3M693.3 387h3M695.8 341.9h3M701.4 365.6h3M677.6 409.3h3M772.8 381.2h3M755 338.1h3M741.6 307h3M731.7 368.8h3M712.7 415.3h3M768.6 407.9h3M729.1 372.3h3M700.8 342.8h3M783.1 339h3M756.2 408.6h3M731.4 405.6h3M737.5 333.3h3M658.1 391.6h3M739 400.9h3M743.1 367.6h3M711 383.7h3M736.3 371.9h3M707.1 349.5h3M702.5 378.6h3M733 298h3M650.2 343.9h3M757.3 322.7h3M744.3 349.8h3M741.7 388.8h3M723.6 360.1h3M752.4 357.1h3M756.1 324.6h3M718.8 405.8h3M770 354.9h3M677.4 341.1h3M676.4 379.7h3M727.1 378.5h3M705.1 367.4h3M710.1 407.7h3M709.7 366.2h3M701.5 424.2h3M778.1 384.8h3M713.5 372.1h3M725.6 390.9h3M738.5 358.1h3M691.5 415.1h3M714 369.2h3M745.4 400.5h3M704.5 333.4h3M719 371.7h3M724.5 336h3M732.1 403h3M775 380.8h3M679.2 335.2h3M667.3 357.2h3M700.1 322.6h3M707.5 362.3h3M737.7 353.5h3M723.1 304.8h3M713.4 332.3h3M704.1 377h3M711.7 337.5h3M689 398h3M723.7 351.5h3M736.1 316.3h3M748.8 346.1h3M679.5 380.7h3M722.1 387.9h3M703.5 370.6h3M708.1 378.8h3M753.2 396.9h3M689.5 328.3h3M707.2 375.1h3M711.2 331h3M704.6 320.1h3M696.5 411.9h3M700.8 354h3M747.8 385.4h3M705.3 302.5h3M733 355.2h3M721.1 356.1h3M746.3 374.1h3M701.5 327.4h3M721.9 413.4h3M704 412.5h3M764.6 283.8h3M725.3 381h3M738.3 310.3h3M740.7 356.2h3M707.1 365.9h3M705.1 348h3M733.3 358.9h3M692.8 369.3h3M702.9 363.1h3M683.4 401.3h3M679.6 428h3M709.3 349.2h3M672.3 403.2h3M790.3 402.9h3M695.4 370h3M778 342.2h3M672.9 388h3M705.7 390.2h3M702 396.8h3M686 310.2h3M696.8 364.9h3M752.2 391h3M745.9 282.1h3M745.7 327.2h3M694.3 330.8h3M716.4 389h3M730.1 341.7h3M706.4 404.7h3M777.9 363.8h3M685.5 387.2h3M713.2 396.5h3M695.7 400.4h3M705.1 360.9h3M697.9 370.4h3M732.2 365.1h3M713.1 420.7h3M724.2 334.5h3M715.2 384.4h3M725.1 337.8h3M720.8 336.1h3M726.7 410.3h3M701 356.8h3M678.2 346.7h3M761.2 390.5h3M672.3 346.4h3M676.8 389.3h3M689.8 325.5h3M703.9 349.5h3M649.1 356.2h3M689.6 400.3h3M718.2 348.4h3M715.7 356.3h3M703.2 356.1h3M789.6 334.7h3M767.3 373.3h3M710.9 378.2h3M690.1 419.3h3M738.6 310.3h3M699.6 413.4h3M686.7 322.2h3M723.8 411.6h3M709.6 403.1h3M762.4 342.5h3M671.9 334.8h3M731.3 332.3h3M686 332.1h3M692 367.9h3M711.9 355.2h3M712.8 328.7h3M713.7 345h3M731.9 329.4h3M733.1 350.8h3M728.4 381.8h3M749.3 403.3h3M694.3 347.6h3M691.5 344.5h3M755.6 347.8h3M729.8 329.4h3M666.8 368.9h3M772.9 352.2h3M705.3 343.1h3M750.9 391.9h3M667.9 396h3M712.9 374.8h3M744.9 428.8h3M738.9 372.1h3M723.5 370.8h3M708 361.2h3M755.2 297.5h3M703.8 310h3M711.7 396.3h3M726.1 332.5h3M758 338.5h3M781.3 308.8h3M677.3 357.3h3M689.5 423.2h3M736.5 368h3M717.4 386.5h3M689.8 365h3M690.3 399.7h3M736.9 326.7h3M752.3 352.2h3M713.6 312.2h3M752.3 401h3M709.1 325.6h3M761.1 347.7h3M767.3 360.3h3M743.4 357.3h3M688 377.6h3M730 407.7h3M772.8 347.5h3M654.9 358.9h3M681.3 372.2h3M713 339.5h3M754.8 392.7h3M668.3 398.3h3M728.3 358.6h3M750 400.5h3M727 349h3M716.3 370.5h3M682.5 327.4h3M715.9 334.5h3M695.9 429.3h3M784 347h3M698.1 340.3h3M706.9 324.4h3M677.4 410.5h3M720.2 386.4h3M730 339.7h3M656.6 391.5h3M702.5 353.3h3M731.8 379.4h3M754.1 369.2h3M735.1 390.7h3M706.3 387.8h3M734.6 329.4h3M735.3 396.6h3M681.3 316.3h3M743.1 359.3h3M711.9 339.9h3M734.5 369.4h3M696 321.2h3M694.1 361.8h3M735.9 319.3h3M708 385.6h3M709.4 330.3h3M772.7 382.2h3M707.6 389.9h3M673.3 354.2h3M718 315.1h3M750.6 372.6h3M726.7 403.6h3M768.5 364.1h3M714.6 349.2h3M685.5 363.2h3M674.3 347.7h3M725.6 299.1h3M732.6 340h3M740.2 354.7h3M719.3 381.7h3M675.8 367.1h3M683 353.4h3M740 327.4h3M739.5 409.5h3M715.8 380h3M758.7 369.9h3M744.6 363.4h3M725 300.3h3M723.5 351.7h3M694 411.2h3M728.4 410.8h3M730.5 376.4h3M730.7 331h3M702.7 332.1h3M671.4 326.9h3M750.3 376.1h3M715.7 374.6h3M718.7 364.8h3M706.3 387.7h3M755.3 353.7h3M723.3 387.5h3M706.6 336.6h3M697.2 386.7h3M690.1 366.4h3M712.6 384.1h3M707.2 369.1h3M775.1 329.5h3M691.7 377.4h3M736.8 337.5h3M722.8 366.5h3M658.7 369.8h3M758.6 372.1h3M724.5 343h3M694.1 340.7h3M742.1 344.3h3M721.9 381.6h3M742.8 339.4h3M748.4 336h3M746.8 408.7h3M703.9 331.3h3M683.3 378.7h3M767.3 372.9h3M715.8 363.8h3M716.4 426.7h3M670 363.6h3M693.5 328.1h3M710.6 311.3h3M753.4 405h3M775.9 323h3M784.2 297h3M723.2 310.1h3M712.7 351.7h3M712.2 359.1h3M649.2 344.5h3M677.5 397.4h3M714.2 367.1h3M703.3 317.5h3M708 409.1h3M738.7 397.5h3M698.3 380.2h3M772.6 335.8h3M761.1 380.1h3M712.1 319.1h3M736.9 372.4h3M702.1 410.7h3M711.7 413.4h3M733.3 310.6h3M751.7 348.6h3M715.3 342.7h3M748.1 380.7h3M690.2 371.4h3M729.2 386.8h3M738.6 344.4h3M766.3 323h3M712.5 419.1h3M747.4 352.6h3M749.1 396.8h3M692.2 317.1h3M741.9 403.9h3M660.7 363.4h3M773.5 350.3h3M721.8 362.6h3M748.5 349.4h3M741.9 329.7h3M768 368h3M714.2 398.7h3M707.5 316.5h3M679.5 341.1h3M741 332h3M688.9 336.3h3M708.7 366h3M710.5 385.1h3M737.5 324.8h3M777.5 266.1h3M743.2 330.3h3M686.4 372.1h3M699.5 383.6h3M797.9 322.1h3M737.8 398.9h3M719.1 307h3M696.4 356.6h3M704.1 344.9h3M702.3 308.3h3M702.2 419.7h3M677.6 409.2h3M706.3 375.6h3M705.3 372.2h3M730.9 329.5h3M691.2 327.7h3M736 312.8h3M720.3 335.7h3M727.7 357.8h3M762.3 317.1h3M741.1 390.4h3M700.8 351.6h3M710.7 364.3h3M720.6 343.7h3M707.2 366.9h3M719.8 304.4h3M699.7 334.6h3M743.6 388.4h3M702 359.8h3M699.4 357.6h3M711.6 363.3h3M766.5 368.9h3M708.4 403h3M657.9 396.1h3M713.2 338.5h3M751.6 350.3h3M747 384.1h3M709.2 377.7h3M690 348.5h3M713.5 344.8h3M699.3 396h3M733.8 363.3h3M794 350.8h3M679.4 323.2h3M660.6 382.7h3M724.3 365.3h3M703.3 419h3M736.8 413.6h3M728.4 394.6h3M711.7 394.6h3M746.3 407.6h3M729.5 305.2h3M724.7 366.4h3M710.3 308.5h3M729.8 351.6h3M739.5 325.6h3M712.1 338.8h3M708.8 318h3M700.6 354.9h3M695.6 378.2h3M742.2 347.6h3M658.3 361.1h3M738.5 391.5h3M696.6 372.9h3M724.2 386.8h3M745.7 395h3M709.9 335.7h3M708 420.4h3M655.9 413.4h3M720.6 367.5h3M760.4 355.3h3M713.4 377.6h3M754 392.7h3M768.7 333.2h3M744.8 334.6h3M726.1 336.5h3M683 351.9h3M680.9 395.9h3M737.5 368.4h3M661.6 397.3h3M777 365.8h3M743.8 361.9h3M686.2 328.3h3M747.3 350.1h3M749.8 300.2h3M709 321.7h3M746.6 388.4h3M721.9 329.5h3M700.3 385.1h3M713.1 381.3h3M763.5 393.4h3M733.7 338.1h3M752.9 341.8h3M686.9 335.5h3M678 358.5h3M743.5 359.4h3M677.6 324.7h3M727.6 319.6h3M736.8 317.5h3M704.5 359.5h3M726.6 348.9h3M706.9 359.1h3M716.8 367.6h3M757 352.7h3M709.6 346.6h3M715.8 329.7h3M748.9 435.6h3M743 336.5h3M653.1 392.9h3M750.1 374.4h3M714.3 393.6h3M713.6 363.5h3M676.9 371.9h3M707.5 345.2h3M716.5 423.3h3M721.9 408.4h3M670.8 335.9h3M734.6 399.4h3M745.6 370.7h3M669.8 398.4h3M736 380.5h3M694.1 397.3h3M663.8 383.1h3M750 381.3h3M719.6 410h3M670.6 381.5h3M691 413.3h3M723.7 379.2h3M686.7 345.3h3M761.7 394.3h3M694.9 376.1h3M661.4 357.7h3M736.3 344h3M719.7 333.7h3M754.4 346.9h3M674.5 353h3M656.1 331.4h3M658.8 394.2h3M738.9 319.7h3M754.7 363.8h3M678.8 345h3M692.9 410h3M682.8 362.9h3M703.3 430.9h3M764.4 357.4h3M780.8 353.6h3M750.6 427.2h3M710.2 356.8h3M679.6 333.6h3M744.3 433.9h3M708.2 359.1h3M766.4 341.5h3M719.8 344.6h3M742.5 430.1h3M679.2 344.2h3M678.6 333h3M744.3 400.3h3M755.8 339.9h3M718.2 336.7h3M710.4 338.3h3M758.8 340.8h3M708.5 370.1h3M767.1 337.1h3M666.5 354.4h3M778.8 367.5h3M707.9 346.8h3M664.7 385.6h3M678.1 381.6h3M771 317.7h3M780 390.2h3M667.8 341.7h3M693.8 361.7h3M689 324.5h3M685.5 392.1h3M729.6 411.5h3M707.7 391.5h3M671.9 404.9h3M649.3 388.5h3M696.7 421.5h3M690.4 360.7h3M700.9 390.7h3M703.3 403.7h3M772 372.1h3M689.3 329.5h3M747.7 336.1h3M715.1 381.9h3M762.6 373.4h3M682.6 386.9h3M766.9 404.6h3M663.1 371.1h3M666.8 393.6h3M675.6 379.6h3M693.1 377.1h3M762.1 336.7h3M703.7 344.4h3M759.7 326.2h3M696.4 346.5h3M780.7 371h3M728.8 341.9h3M748.9 341.2h3M694.1 394.1h3M759.7 370.6h3M740 383.4h3M662.3 394.5h3M668.3 385.3h3M687.5 342.3h3M677.1 320.9h3M765.5 357.8h3M751.1 322h3M766.4 400.6h3M760.5 339.3h3M716.5 319.8h3M779.3 383.1h3M765.6 388.5h3M765.8 411h3M651.8 434.4h3M652 351.9h3M700.2 430.1h3M652.5 346.3h3M744.7 426h3M769.8 320.1h3M751 323.1h3M697.3 365.9h3M695.3 387.8h3M750.2 348.1h3M704.7 399.3h3M695.9 410.6h3M675.7 412.6h3M755.9 366.6h3M682.2 327.3h3M677.5 382.9h3M676.6 346.5h3M739.7 395.2h3M661.8 331.8h3M731.6 340.8h3M670.1 385.6h3M664.6 339.6h3M672.9 371.5h3M742 429.4h3M704.3 391.3h3M674.4 326.5h3M686 359.6h3M723.5 327.3h3M717.1 403.2h3M781.2 393.7h3M714.2 357.8h3M677.4 392h3M709.3 325.5h3M758.5 317h3M688 354.2h3M710.7 434.9h3M724 368.3h3M675.7 317.2h3M728.4 406.2h3M660.5 359.8h3M690.7 330.5h3M740.8 392.7h3M740.5 387h3M650.3 351.6h3M743.7 403.2h3M745.3 326.7h3M662.8 423.9h3M701.7 328.4h3M737.2 353.7h3M683.1 382.3h3M760 335.6h3M770.3 353.6h3M766.6 369.3h3M692.6 424.3h3M709.1 415.8h3M714.9 423.1h3M666.6 368h3M690.3 341.9h3M684.2 322.6h3M721.2 327.2h3M720.2 369.6h3M666.3 345.5h3M675.9 396.3h3M729.2 333.6h3M677.9 389.7h3M754.9 381.3h3M735.2 352h3M770.9 375.3h3M652.3 393.5h3M659.6 361.2h3M755.4 361.8h3M685.7 394.3h3M709.7 382.7h3M773.6 355.3h3M674.3 362.6h3M779.6 383.9h3M734.9 331h3M684.7 322h3M694.7 399.5h3M770.7 408h3M717.8 318.2h3M674.1 368.9h3M667.4 363.7h3M716.1 411.6h3M748.3 364.9h3M779.3 336h3M754.7 360.3h3M719.4 421.9h3M741.6 317.2h3M726.3 326.8h3M718.6 325.7h3M743.3 314.7h3M737.1 323.8h3M751 315.9h3M775.6 319.8h3M779 329h3M737.4 328.5h3M714.1 329.3h3M728.7 318.8h3M773.9 315.8h3M755.4 317.1h3M737.5 329.6h3M732.9 326h3M718.6 328.7h3M703.1 325.7h3M759.2 320.8h3M713.7 324.3h3M758.8 329.2h3M768.8 323.3h3M780.3 327.7h3M711.5 318.6h3M736.5 328.6h3M774.2 314.7h3M770.3 322.9h3M731.6 327.6h3M705.1 320.7h3M744.9 327h3M770 321.5h3M749.2 321.2h3M706.3 315.4h3M763.6 321.3h3M765.5 303h3M764.2 284.9h3M755.7 299.7h3M745.1 304.3h3M763.1 306h3M769.5 282.9h3M752.8 278.6h3M764.9 279.3h3M768.4 300.9h3M762.6 302.3h3M734.7 292.9h3M754.9 278.5h3M749.3 286.6h3M771.3 282.9h3M758.2 291.1h3M749.6 300.2h3M769.7 306.2h3M744.3 314h3M767.2 295.5h3M753.9 294.8h3M736.6 294.4h3M763 269.8h3M748.8 299.1h3M739.7 295.1h3M730.8 291.1h3M754.6 291h3M740.1 279h3M752.5 302.6h3M778.4 280.2h3M751.7 303.7h3M759.7 302.7h3M762.2 297h3M749.8 289.4h3M744.5 299.2h3M750.1 296.5h3M761.1 261.7h3M752.3 299.9h3M736.7 274.3h3M770 293.4h3M746.3 319.6h3M773.1 287.4h3M757.9 286.9h3M747.4 299.9h3M753.5 306.5h3M761.3 288.7h3M734.3 299h3M751.9 291.6h3M767.7 313.7h3M771.7 292.6h3M769.2 283.4h3M744.5 284.2h3M753.3 291.4h3M754.3 299.9h3M774.2 310.2h3M761.3 274.7h3M744.4 296.3h3M735.6 304.9h3M751.6 309.5h3M758.1 286.8h3M748.3 298.2h3M758.3 312.9h3M763 293.2h3M756.4 290.1h3M756.3 273.2h3M759.2 280.9h3M752.3 322.4h3M758.6 316.1h3M765.8 316.6h3M768.2 304h3M753.2 281.7h3M764.1 280.2h3M756.5 294.3h3M738.3 270.1h3M753.6 297.7h3M751.1 287.6h3M753 292h3M766.6 311.9h3M761 287.8h3M734.1 287.4h3M729.4 265.9h3M764.4 265.4h3M768.9 299.9h3M777.8 304.7h3M733.4 296.9h3M745.5 283h3M754.1 300.9h3M755.8 297.9h3M754.9 304.4h3M753.4 295.9h3M720.1 285.8h3M769.7 272h3M772.5 270.9h3M774.2 287.3h3M742.4 288.2h3M745.2 286.5h3M766.8 284.4h3M752.7 278.8h3M769.2 280.5h3M756 268.7h3M763.8 298.7h3M755.4 298.5h3M769.2 309.1h3M760.6 316.8h3M764.5 312.3h3M753.9 282.8h3M763.1 310.8h3M768.8 280.1h3M762.4 283.7h3M760.3 288.8h3M756.4 285.8h3M747.4 292.1h3M774.5 282.3h3M779.7 283.1h3M746.2 282.9h3M769.9 296.2h3M747.9 276.1h3M779.4 307.6h3M755.5 287h3M745.4 291.3h3M777.2 304.5h3M735.1 279.9h3M754.6 282.4h3M755.7 291.3h3M767.4 277h3M798.9 272.1h3M746 275.5h3M766.4 298.1h3M738.4 298h3M754.6 320.1h3M756.1 294h3M766.8 293h3M739.9 263.8h3M759.8 297.2h3M760.3 266.9h3M770.7 280.8h3M762.7 290.3h3M763.8 253.2h3M773 295.6h3M749.4 312.2h3M768.3 289.9h3M746.3 290.7h3M747.7 303.6h3M769.8 304.9h3M754.1 296.4h3M746.9 284.7h3M760.4 275.4h3M752.2 270.2h3M755.3 277.3h3M725.5 305.1h3M733.3 303.1h3M762.1 299.2h3M751.4 303.7h3M736.4 297.1h3M740.7 303.3h3M758.1 291.6h3M755.7 296.9h3M784.8 302h3M736.7 279.2h3M752.3 279.5h3M768 304.4h3M737.6 306.2h3M750.4 278.1h3M761.5 308.6h3M759.1 297.3h3M747.5 279.6h3M740.3 308.4h3M756.5 308.1h3M747.6 323.3h3M766.1 310.6h3M778.1 308.6h3M766.5 309.7h3M748.5 294.8h3M747.5 276.1h3M742.9 297.7h3M749.4 294.4h3M763.4 273.2h3M739.1 287.3h3M730.5 289.7h3M752.9 273.8h3M749.1 300.5h3M752 298.7h3M751.8 277h3M754.1 299h3M758.6 298.7h3M792.7 299.3h3M756.5 287.7h3M770 316h3M754 280.1h3M767.3 301.2h3M739.7 297.4h3M762.1 320.3h3M753.4 300.1h3M766.5 281.1h3M787.7 284.1h3M778.5 305.9h3M785.4 307.9h3M743.6 312.7h3M760.6 299.6h3M752.6 294h3M773.5 294.2h3M760 278.7h3M765.1 296.8h3M765.8 299h3M760.7 302.9h3M758.1 300.6h3M758.1 276h3M729.3 306.9h3M737 292.7h3M771.6 296.1h3M742 262.8h3M789 293h3M769.8 295.9h3M783.7 276.3h3M757.3 308.8h3M775.8 277.4h3M744.3 269.4h3M738.2 301.6h3M756.6 279.5h3M746 271.5h3M776 286.7h3M755 297.5h3M755.8 292.3h3M771.9 308.1h3M758.1 292.9h3M731 280.3h3M758 293h3M749.7 314h3M737.5 307.3h3M757.3 276.1h3M757.3 286.9h3M763.8 289.1h3M764.6 304.6h3M747.4 287.2h3M763.8 282.7h3M729.6 284.7h3M745.8 283.5h3M796.7 298.3h3M751.7 284.5h3M768.6 308.3h3M735.5 279.7h3M776.1 291h3M757.2 294h3M745.4 269.7h3M762.5 291.4h3M758.1 283.8h3M750.6 284.7h3M757.5 289.4h3M745 312.7h3M780.3 292.2h3M759 303.7h3M756.6 284.3h3M747.6 293.5h3M753.8 286.2h3M758.5 287.4h3M777.7 296.7h3M760 272h3M747.3 285.1h3M748.5 275.4h3M746.3 291.9h3M774.6 301h3M787 278.2h3M755.1 301.2h3M738.2 302.2h3M748 314.5h3M768.8 298.7h3M751.4 291.7h3M766.4 281.6h3M768.1 278.8h3M771.1 280.7h3M765.8 330.2h3M749 283.2h3M767.6 286.2h3M749.8 302.8h3M765 292.5h3M771.3 291.2h3M746.7 288.6h3M764.5 301.5h3M764.5 277.3h3M765.1 275.3h3M759.9 291.1h3M738.1 295.8h3M749.4 268.8h3M745.1 315.1h3M769.5 296.3h3M771 290.3h3M760.9 290.8h3M748 302.5h3M777.8 300.5h3M759.5 284.9h3M771.5 270.8h3M751.5 281.6h3M750.7 293.6h3M747.8 301.6h3M746.6 280.7h3M744.5 292.4h3M751.7 288.9h3M767 304.8h3M765.4 286.7h3M759.5 271.2h3M781.2 289.1h3M760.5 278.4h3M766.7 306.5h3M763.9 303.7h3M768.5 296.5h3M766.2 294.1h3M760.8 298.5h3M746.9 294.8h3M778 307.4h3M760.8 281.9h3M740 287.9h3M737.8 296.5h3M752 291.7h3M755.8 317.4h3M741.4 272.8h3M756.6 284h3M778.9 269.1h3M756.3 288.5h3M743.9 272.6h3M789.7 287.4h3M791.9 272.6h3M777.7 269h3M731.4 289.1h3M758 266.7h3M751 291.1h3M782.9 292.6h3M755.1 286.9h3M756.8 214.5h3M802.3 287.5h3M738.7 278.4h3M749.3 267.8h3M758.5 280.7h3M813.2 266.9h3M744.4 291.4h3M741 268.6h3M770.5 290.3h3M773.2 307.2h3M756.4 276.5h3M744.8 239.6h3M793.8 291.5h3M785.4 297.7h3M781.4 271h3M760.6 287.9h3M747.6 287.7h3M771.1 281.3h3M776.4 260.1h3M768.6 255.2h3M730.7 263.1h3M733.8 274.2h3M779.8 300.8h3M739.3 277.6h3M747.8 277.6h3M723.4 278.3h3M809.1 267.5h3M750.8 278.4h3M773.4 271.5h3M758.1 284.4h3M813.3 279.7h3M749.2 204.6h3M742.6 264.4h3M790.9 225.1h3M802.9 296.1h3M762 215.4h3M832.2 294.1h3M761 294.2h3M811.1 293.6h3M831.8 294.6h3M820.3 292.5h3M763 300.2h3M814.4 299.1h3M788.8 284.9h3M829.2 301.1h3M769.7 302.5h3M827.9 306.5h3M819.8 292.5h3M852.4 289.1h3M796 294.3h3M816 295.2h3M825.7 284.8h3M830.5 307.2h3M805.2 280.4h3M871.8 279.5h3M836.8 291.9h3M834.6 307.8h3M835.8 297.8h3M831.2 291.4h3M786.3 278.7h3M843.6 293.9h3M770.8 280.4h3M828.1 289.5h3M825.5 292.3h3M814.7 296.5h3M798.8 276.6h3M793.2 298.5h3M857.5 272.1h3M822.1 293.7h3M789.7 304.6h3M818.3 297.7h3M798.1 306.1h3M820.5 288.6h3M816.4 288h3M843.3 286.2h3M778.1 296.9h3M836.2 301.6h3M833.2 290.6h3M777.2 322.1h3M819.4 297.6h3M810.3 284.7h3M843 286.5h3M854.4 287.4h3M817.5 297.3h3M795.5 298.9h3M802.6 303.9h3M796.6 292h3M796.3 306.9h3M846.5 288h3M839.6 277.2h3M815.3 295.8h3M820.6 288h3M792.2 301.4h3M797.5 309h3M820.8 288h3M828.5 280.7h3M826.6 291.3h3M834.2 293.3h3M850.3 298.2h3M849.8 293h3M865.1 301.2h3M840.2 297.6h3M811.3 299.1h3M839.2 312.3h3M821.9 293.1h3M819.3 296.9h3M803.1 283.9h3M823.6 294h3M807.3 293.8h3M821.6 302.2h3M833.9 309.8h3M831.6 286h3M840.6 295.7h3M813 306.9h3M797.4 291.8h3M826.7 292h3M843.8 263.9h3M795.8 281h3M810.8 267.2h3M848.4 281.6h3M804.4 293.6h3M826.2 290.7h3M784.3 282.6h3M820.8 289.7h3M802.3 286.4h3M809.3 289.8h3M858.9 262.4h3M854.5 272.8h3M806.5 292.9h3M830.2 294h3M788.9 288.6h3M788.4 294.1h3M792.6 293.7h3M801.9 299.2h3M870.6 262.4h3M825.3 301.7h3M790.3 295.3h3M816 275.5h3M792.4 304.6h3M871.8 276.8h3M872.7 260.7h3M832.7 273.2h3M794.8 300.1h3M837.6 251.6h3M805.5 293.1h3M862.8 265.3h3M790.4 294.3h3M838.2 285.3h3M836.9 295.3h3M787.8 301.2h3M789.2 286.7h3M790.4 277.8h3M812.9 286h3M861.6 272.8h3M818.5 288.7h3M783.6 287.7h3M814.8 272.1h3M840.8 296.4h3M823.1 292.5h3M817.1 283.6h3M822.7 274h3M815 271.2h3M836.7 270.6h3M820.2 276.4h3M828 289.1h3M861.1 261.4h3M870.3 260.8h3M793.7 298.3h3M842.1 274h3M865 269.7h3M783 291.8h3M804 298.5h3M790.8 281.4h3M807.5 286.7h3M822 302.8h3M787.3 294.4h3M790.3 300.7h3M881.9 264h3M831.9 251.2h3M831.8 301.7h3M790.1 285.5h3M798 314.8h3M845.8 299.3h3M850.7 271.8h3M833.4 282.1h3M839.1 287.5h3M805.6 301.3h3M844.2 258.7h3M799.5 275.3h3M824.6 299.5h3M807.7 287.3h3M790.4 276.8h3M792.5 290h3M795.4 288.5h3M789 286.8h3M797.9 296.6h3M799.7 294.3h3M786.9 298.6h3M814.3 274.4h3M801.2 291.9h3M798.1 302h3M825.4 274.5h3M848.9 266.7h3M806.6 280h3M805.3 297.3h3M873.5 259.2h3M804.4 279.9h3M844.5 261.8h3M838.6 276.3h3M792.1 304.9h3M812.8 308.8h3M801.2 314.5h3M829.3 270h3M798.1 303.2h3M796.2 298.3h3M856.5 272.6h3M798.8 287h3M804.4 275.8h3M858.9 260.7h3M803.9 271.9h3M785.3 297h3M825.3 277.1h3M808.4 289.4h3M819.1 295.2h3M788.3 302.6h3M802.9 281.5h3M813.1 304.9h3M785.3 286.8h3M786.9 287.5h3M794.3 302.5h3M860 269.3h3M797.8 301.2h3M827.9 271.9h3M849.4 266.9h3M814.4 286.2h3M797.9 295.9h3M888.6 260.8h3M799.2 285.7h3M844.3 288.6h3M847.4 259.1h3M874.1 259.6h3M821.2 278.4h3M810.4 292.8h3M811.8 307.4h3M849.5 266.5h3M804.4 274.6h3M820.3 285.4h3M808.1 309.5h3M783.3 289.5h3M794.7 275h3M804.1 298.1h3M794.8 289.7h3M815 297.1h3M827.3 273.5h3M832.2 281.9h3M830.9 270.3h3M822.3 270.1h3M805.3 302.7h3M856.2 261.1h3M874.7 263.9h3M815.8 284.4h3M860.3 275.2h3M806.9 281.7h3M827.7 281.1h3M843.1 287.5h3M827.7 270.3h3M795.1 288.6h3M855.5 265.7h3M827.3 271h3M844.4 263.4h3M826.5 267h3M796.2 290.8h3M794.8 289.1h3M786.3 284.7h3M808.7 284.7h3M875.2 255.8h3M802.6 300.7h3M808.8 291.5h3M835.8 257.2h3M896 247.6h3M805.4 291.7h3M793.6 303.4h3M820.9 287.9h3M790.3 292.7h3M789.1 293.8h3M818 287.7h3M794.3 293.9h3M816.3 284.3h3M798.9 278.7h3M784.4 271.2h3M791 294.7h3M803.8 298.4h3M814.8 290.8h3M784.7 278.4h3M779.9 272.3h3M811.9 304.9h3M803.8 272.1h3M832.7 287h3M829.3 286h3M798.3 310.4h3M828.4 297.4h3M859.3 271.1h3M790.2 274.6h3M786.6 289.3h3M841.1 280.7h3M839 276.3h3M805.6 292.8h3M832.2 298.4h3M828.8 277.9h3M810.1 288.9h3M847.1 282.3h3M829.7 290h3M794.2 290.8h3M853.8 268.3h3M847.3 269.8h3M831 272.4h3M872.8 265.5h3M874.4 255.6h3M818 272.6h3M798.6 273.3h3M842.8 282.5h3M871.1 269.1h3M839.2 268.4h3M835.8 276.9h3M831.5 253.2h3M835.6 255.7h3M778.8 247.7h3M774.5 285.1h3M835.8 276.8h3M822.6 270.6h3M845.3 263.6h3M782.4 282.5h3M780.3 373.4h3M807.1 265h3M782.2 363.4h3M810.6 336.5h3M790.6 356.7h3M780.6 389.4h3M785.1 326.3h3M779.9 356.2h3M803.3 364.9h3M800.6 340.8h3M797.8 328.2h3M802.3 311.9h3M809.1 346.2h3M799.2 372.9h3M793.3 342.5h3M781.6 338.7h3M792.6 326.3h3M788.1 363.8h3M797.6 360.3h3M810.7 329.3h3M801.4 372.8h3M795.6 357.3h3M780.9 350.6h3M794.1 358.8h3M795.3 329.8h3M792 361h3M786.8 341.7h3M800.6 360h3M787 339.3h3M815.3 340.5h3M837.8 313.8h3M807 368.3h3M789.4 350.8h3M805.7 317.7h3M793.8 357.5h3M773 309.8h3M784.9 356.7h3M810.5 331.7h3M803.3 373h3M778 345.1h3M789.1 358.9h3M783.5 361.6h3M806.7 364.6h3M814.3 345.6h3M810.5 310.9h3M807.2 338.9h3M778.4 364.1h3M803.5 342.3h3M781.5 377h3M790.7 339h3M796.6 325.6h3M778.2 381.5h3M786.9 379.6h3M788.1 363.6h3M786.3 375.6h3M769.5 317.3h3M789.4 335.3h3M807.5 343.1h3M802.7 335.4h3M801.7 298.8h3M794.1 401.1h3M788.4 351.3h3M799.8 355h3M773 328.7h3M774 334.3h3M793.1 343.3h3M807.7 303.5h3M802.6 374.4h3M810.7 388.8h3M782 376.7h3M799.1 345.8h3M795 344.6h3M771.9 336.5h3M779.8 344.5h3M777.2 321.6h3M770.2 365.2h3M785.9 346.8h3M804.7 335.6h3M788.5 337h3M795.1 322h3M805.7 286h3M809.3 333.5h3M772 362.1h3M809.9 342.2h3M793.2 360h3M781.2 359h3M774.4 380.9h3M791.7 357h3M800.8 333.6h3M798.7 320.1h3M814.2 387h3M806.6 333.4h3M789.9 373.6h3M789.7 362.8h3M799.3 329.6h3M739.7 262.5h3M749 274.8h3" stroke="#d8242c" stroke-width="3" fill="none"/>
<path d="M723.2 436.5h3.2M731 416.8h3.2M704.6 266.2h3.2M674 308.5h3.2M723.7 439.1h3.2M646 392h3.2M711.5 288.6h3.2M654.5 406.2h3.2M735.3 423.6h3.2M689.2 303.3h3.2M680.7 416.7h3.2M647.5 380h3.2M794.8 440h3.2M678.4 290h3.2M654.6 308.5h3.2M707.2 279h3.2M705.4 286.3h3.2M697.2 299.6h3.2M795 417.8h3.2M669.3 279.9h3.2M786.5 394.8h3.2M680.9 266.5h3.2M765.2 426.6h3.2M656.5 291.1h3.2M672.9 298.6h3.2M792.5 385.8h3.2M645.5 407.9h3.2M689.5 296h3.2M713.5 294.8h3.2M712 294.6h3.2M698.1 279.4h3.2M655 276.6h3.2M786.4 385.7h3.2M662.7 327.5h3.2M684.4 298.1h3.2M654.5 329.5h3.2M676.5 276.4h3.2M680.3 293.3h3.2M683.8 293.6h3.2M646 362.4h3.2M692 297.1h3.2M768.6 416.8h3.2M649.4 311.8h3.2M661 293.1h3.2M650.3 314.7h3.2M731.4 436.2h3.2M773.5 424h3.2M761.3 418.6h3.2M780.6 413.5h3.2M687.5 435.4h3.2M647.4 371.9h3.2M733.1 434.7h3.2M722 423.7h3.2M657.5 340.8h3.2M759.4 439.6h3.2M744.5 438.4h3.2M656 421.3h3.2M653.4 425.9h3.2M779.6 421.7h3.2M659.5 426.8h3.2M670.4 438h3.2M697.1 439.2h3.2M656.1 323.7h3.2M647.9 328.3h3.2M781.7 438.8h3.2M648.6 378.1h3.2M714.1 439.7h3.2M669.5 412h3.2M661.6 437.3h3.2M770.4 424.2h3.2M728.4 430.6h3.2M689.4 439.6h3.2M777.6 418.3h3.2M757 437.1h3.2M779.5 398.2h3.2M764.1 432.8h3.2M648.1 326.2h3.2M779.6 437.1h3.2M681.1 416.6h3.2M655.3 435.2h3.2M750.6 439.6h3.2M723.1 275.1h3.2M715.9 277.9h3.2M771.3 238.2h3.2M788.8 227.9h3.2M692.3 261.4h3.2M804.4 246.6h3.2M815.1 233.1h3.2M821.4 253.8h3.2M704.4 230.1h3.2M750.2 250.7h3.2M790.4 227.4h3.2M737.7 209.1h3.2M754.9 196h3.2M769.7 205h3.2M711.2 260.4h3.2M714.6 193.6h3.2M713.2 212.7h3.2M700.6 242.6h3.2M807.9 206h3.2M747.7 258h3.2M723.6 251.6h3.2M778 191.3h3.2M810.7 251.9h3.2M758.4 194.3h3.2M763.7 231.7h3.2M797.5 233.1h3.2M777 225.4h3.2M792.9 211.6h3.2M701.6 280.3h3.2M782.9 206.5h3.2M756.1 235.1h3.2M714.2 213.7h3.2M774.6 182.6h3.2M776.4 192.4h3.2M788.6 192.8h3.2M772.9 253.4h3.2M784 245.6h3.2M725.2 186.8h3.2M673.6 225.7h3.2M800.3 233.6h3.2M724.3 215.8h3.2M743.8 253.1h3.2M716.2 199h3.2M680.6 277.5h3.2M743.3 229h3.2M790.3 242.3h3.2M798 226.7h3.2M764.8 220.4h3.2M734.9 234.1h3.2M768 194.4h3.2M696.5 155.4h3.2M765.5 236.2h3.2M752.9 223.1h3.2M749.8 234.2h3.2M661.9 215.2h3.2M712.7 232.4h3.2M720.8 225.6h3.2M722.7 252.9h3.2M716.5 237.7h3.2M735.8 256.7h3.2M732.7 250.2h3.2M740.8 216.5h3.2M747 185.2h3.2M880.2 286h3.2M827.7 313.8h3.2M858.5 306.6h3.2M878.7 303.2h3.2M875.5 295.8h3.2M858.1 315.8h3.2M833.9 318.3h3.2M842.9 317h3.2M857.3 296.4h3.2M854.3 301.9h3.2M865.7 296.5h3.2M822.2 316h3.2M870.9 313.4h3.2M872.3 303h3.2M897.5 308.7h3.2M877.3 303.4h3.2M886 303.8h3.2M861.1 301.1h3.2M850.2 312.5h3.2M899.4 290.5h3.2M884.9 277.6h3.2M879.6 272.7h3.2M907.2 243.1h3.2M873.5 234.7h3.2M909.9 253.7h3.2M885.7 273.8h3.2M908.7 228.5h3.2M874 242.2h3.2M880.4 284.7h3.2M921.3 253.9h3.2M813.4 261.2h3.2M863.6 284h3.2M854.3 247.2h3.2M878.7 236.5h3.2M901.8 247.9h3.2M881.2 250.2h3.2M788.7 263.9h3.2M917.5 241h3.2M909.8 252h3.2M811.9 257.1h3.2M889.4 253.8h3.2M864.2 232.3h3.2M912.8 259h3.2M887.6 243.7h3.2M893 237.5h3.2M815.8 316.1h3.2M920.7 238h3.2M911 236.5h3.2M896 257.1h3.2M822.6 257.6h3.2M792.3 266.6h3.2M887.4 283.6h3.2M834 263.9h3.2M915.7 227.4h3.2M836.5 212.3h3.2M765.6 247.8h3.2M825.7 235.5h3.2M839.6 207.2h3.2M843.4 212.3h3.2M824.1 262.2h3.2M873.3 230.4h3.2M754.3 242.8h3.2M844.6 226.1h3.2M859.3 230h3.2M814.3 212.8h3.2M859.6 220.5h3.2M808.2 223.7h3.2M800.7 223.1h3.2M805.1 245.6h3.2M820.9 197.8h3.2M835.3 241.4h3.2M856.2 245.5h3.2M813.2 190.9h3.2M847.9 251.8h3.2M858.7 233.5h3.2M880.2 191.2h3.2M778.5 208.3h3.2M789.1 253.6h3.2M797.4 173.1h3.2M850.9 198.3h3.2M772.5 232.5h3.2M879.4 216.5h3.2M882.5 256.5h3.2M882.1 230.4h3.2M791.1 204.8h3.2M826.1 248h3.2M792.7 243.3h3.2M802 236.9h3.2M839.7 216.7h3.2M787.8 254.2h3.2M851.9 227.2h3.2M836.1 234.4h3.2M843.5 239.3h3.2M796.5 217.6h3.2M809.3 234.9h3.2M888.2 228.1h3.2M862.6 221.5h3.2M827.6 340.9h3.2M802.3 255.9h3.2M788 315.8h3.2M816.3 355.3h3.2M799.1 414.9h3.2M822.9 355.3h3.2M823.6 332.7h3.2M822.5 391.3h3.2M796.9 390.5h3.2M810.8 382.1h3.2M808.8 402.8h3.2M780.8 427h3.2M826.6 426.4h3.2M793.9 377.1h3.2M831.5 368.3h3.2M788.7 316.8h3.2M836.7 362.5h3.2M794.9 437.2h3.2M824.1 365.9h3.2M824 360.5h3.2M822.3 343.2h3.2M820.7 398.8h3.2M825.7 420.9h3.2M810.1 403.2h3.2M818.4 376.9h3.2M788.7 423.5h3.2M808.4 325.1h3.2M805.7 387.6h3.2M816.7 398.1h3.2M811.7 375.8h3.2M791.7 384.7h3.2M799.1 387h3.2M803 413.5h3.2M821.4 318.4h3.2M816.4 396.2h3.2M805.7 400h3.2M789.2 417.9h3.2M697.4 83.1h3.2M799.4 171.5h3.2M817.2 68.7h3.2M678 163.9h3.2M830.7 51.1h3.2M703.1 175.6h3.2M795.8 159.8h3.2M871.2 138.2h3.2M727.8 182.2h3.2M715.8 45.2h3.2M746.3 134h3.2M729.3 195.3h3.2M701 173.8h3.2M742.3 162.9h3.2M716.5 264.5h3.2M661 139.4h3.2M705.1 180.6h3.2M737.3 187.4h3.2M734.5 196.8h3.2M730.2 147.7h3.2M720.4 198.4h3.2M782.1 218.3h3.2M748.3 140.6h3.2M781.3 230.2h3.2M666.7 260.2h3.2M716.9 209.7h3.2M720.6 215.7h3.2M747.9 188.6h3.2M798.9 244.4h3.2M774.1 184.6h3.2M765.4 210.4h3.2M707.3 259.5h3.2M710.9 162.8h3.2M777.4 196.4h3.2M728.7 230.2h3.2M772 239.4h3.2M763.1 165.3h3.2M784.2 185.5h3.2M736.3 193.6h3.2M746.4 218.4h3.2M754.6 196.9h3.2M817.4 183.8h3.2M827.9 198.4h3.2M791.9 204.6h3.2M800.7 137h3.2M818.8 217.4h3.2M818.7 216.8h3.2M823.2 205.2h3.2M812.3 218.9h3.2M833.9 194.4h3.2M786.4 213.9h3.2M800.3 202.9h3.2M823.9 241.1h3.2" stroke="#2e2626" stroke-width="3.2" fill="none"/>
<path d="M718.6 395.3h3M667.4 374.1h3M753.3 431.5h3M719.3 328.3h3M700.4 321.5h3M678.3 355.3h3M684.5 336.6h3M673.4 355.4h3M787.4 360.3h3M658 381.1h3M678.6 352.1h3M689.9 395.6h3M709.8 400.6h3M741.9 408h3M714.6 430.9h3M739.4 349h3M733.9 373.3h3M710.4 386.5h3M685.7 313.9h3M659.4 317.3h3M709.8 376h3M661.1 411.6h3M730.6 387h3M667.1 375h3M692.8 352.1h3M740.5 370.9h3M661.5 360.9h3M684.2 401.5h3M665.7 340.3h3M780.8 374h3M726.7 333h3M673.3 363.1h3M692.5 348.9h3M649 340.2h3M756.8 328h3M723.5 399.3h3M727.7 322.3h3M745.6 356.6h3M745 278.7h3M688.3 308.8h3M662.5 373.4h3M729.2 393.3h3M682.9 369.1h3M715.7 411.7h3M756.5 349.8h3M693.6 409.3h3M735.2 371.4h3M698.1 306.6h3M679 433.7h3M751.8 386.6h3M683 401.7h3M711 380.8h3M715.4 375.8h3M697.1 333h3M661.8 344.8h3M742.3 369.3h3M711.9 303.4h3M673 329.1h3M710.5 372.1h3M722.4 410.1h3M731.7 358.9h3M757.1 380h3M727.2 382.7h3M664.6 370.1h3M696.1 306.7h3M740.2 336.3h3M746.9 323.6h3M718.7 356.9h3M702.7 352.9h3M705 367.6h3M709 338.1h3M693.7 341.9h3M689.8 347.6h3M762.6 347.8h3M792.2 403.9h3M739.5 351.8h3M695.4 403.4h3M670 393.8h3M721.5 364.3h3M709.2 388.6h3M715.1 365h3M694.8 374.7h3M748.4 417.5h3M677.8 371.1h3M789.5 408.5h3M735.5 378.8h3M758.2 336.1h3M725.7 377.2h3M693 387.2h3M729.4 299.5h3M703.3 423h3M723.1 283h3M720.1 391.9h3M685.3 377.7h3M713.3 368.2h3M718.7 355.5h3M706.4 405.1h3M673.1 436.3h3M696.9 377.4h3M699.1 333.7h3M733.5 367.4h3M702.5 349.5h3M689.6 339.8h3M719.7 384.1h3M700.2 359.1h3M709.9 314.4h3M726.5 411.5h3M733.2 370.5h3M725.1 408.8h3M704.1 293.5h3M698 390.9h3M747.6 421.4h3M758.4 341h3M729.4 345.7h3M725.6 359.6h3M708.1 393.5h3M685.4 355.2h3M670.4 349h3M694.8 380.5h3M663.5 318.2h3M724.3 355.9h3M695.1 304.4h3M695.4 406.1h3M721.5 339.2h3M673.3 405.7h3M712.2 405.7h3M679.7 364.9h3M757.8 349.7h3M754.6 358.1h3M699.9 340.4h3M744.5 353.5h3M697.1 371h3M674.5 420.1h3M741 326.7h3M693.5 350.3h3M737.5 362.2h3M680.1 379.9h3M736.8 385.4h3M719.4 325.5h3M762.1 350.1h3M665.9 351.5h3M720.2 384.9h3M726.4 399.4h3M722.8 384.8h3M689.3 375.8h3M732.6 363.4h3M679.2 380.1h3M713.4 325.6h3M690.9 373.4h3M724 371.3h3M650.1 353.1h3M661 396.2h3M752.7 377.4h3M678.9 404.4h3M756 389.2h3M693.9 432.2h3M729.1 277.1h3M702.8 348.7h3M736.9 373.6h3M724 355.6h3M677.3 334.7h3M708.2 352.9h3M764.2 376.5h3M712.1 407.2h3M719.6 338.5h3M769.1 399.6h3M676.8 311.7h3M673.4 385.8h3M772.9 321.6h3M710.8 397.8h3M683.1 355.3h3M737.9 422.7h3M714.2 374h3M721.2 385.3h3M719.7 372.7h3M708.8 385.4h3M672.4 402.6h3M745.2 354.8h3M764.3 357.1h3M763.8 382.3h3M733.5 282h3M694.7 389h3M705.8 297.6h3M725.9 352.4h3M724 333h3M758.3 407.4h3M688.3 341.8h3M690 358h3M709.2 302.3h3M666 335.8h3M732.1 403.5h3M704.6 294.7h3M695.9 349h3M724.6 392.4h3M738.6 349h3M710.3 409.7h3M712.2 436.7h3M753.1 396.5h3M712.9 308.7h3M730.7 309.5h3M739.1 341.9h3M743.4 426.4h3M775.4 340.3h3M723 375.4h3M777.1 346.1h3M705.7 347.6h3M700.9 398.2h3M733.3 326h3M735.4 310.6h3M774.3 342.8h3M756.1 342.8h3M691.4 375.6h3M704.8 315.5h3M712.9 418.4h3M663.5 352.5h3M747.5 348h3M735.5 384.2h3M710.2 355.4h3M735.8 286.2h3M654.4 386.5h3M761 342.6h3M701.5 381.1h3M688.9 371.7h3M725.2 283.9h3M659.9 372.6h3M746.9 282.9h3M735.1 335.6h3M684.9 340.4h3M749.2 409.5h3M741.4 378.2h3M709.8 406h3M761.3 408.8h3M722.2 308.7h3M701.5 416.2h3M718.5 373.5h3M747.3 357.7h3M702.7 331.5h3M729.5 392.4h3M662.7 385.1h3M682.8 390.3h3M688.1 336h3M699.8 379.8h3M737.5 417.3h3M729.4 373.8h3M746 367.7h3M710.5 376.5h3M658 409.2h3M734 347.8h3M675.9 374.7h3M708.4 338.1h3M738.4 350.5h3M710.5 319h3M659 412.2h3M692.6 352h3M678.7 377.7h3M743.4 276.2h3M729.6 370.8h3M671.8 338.6h3M785.2 338.2h3M676.8 369.1h3M794.6 323.8h3M719.6 380.6h3M725.5 347.2h3M689.2 319.2h3M748.5 363.8h3M712.9 351.7h3M698.5 326.8h3M761.2 324.2h3M779.7 394.2h3M718.2 360.8h3M735 356.7h3M733.4 403.7h3M761.3 346.8h3M681.7 360.3h3M719.1 337.5h3M713.6 388.4h3M706.5 340.3h3M726 321.4h3M654.5 375.1h3M716 360.9h3M737.2 373.9h3M760.8 377h3M719.1 382.2h3M699.7 392.2h3M751.3 407.5h3M726.3 395.5h3M727.3 390.5h3M748.3 388.8h3M716 352h3M716.9 374.5h3M720.7 361.2h3M687.8 367.1h3M800.6 376.4h3M740.6 303.9h3M724.2 348.9h3M681 336.7h3M740.9 376.7h3M748.1 346.3h3M739.8 353.5h3M665 337h3M709.7 376.6h3M682.3 379.5h3M704.8 374.5h3M697.9 337.9h3M758.4 396.7h3M743.6 377.6h3M705.1 349.2h3M723.5 352.8h3M779.1 336.3h3M697.3 311.4h3M736.5 365.6h3M733.2 348h3M730.1 433.5h3M675.3 392.6h3M758.5 374h3M673.6 322.1h3M671.4 349.9h3M689.8 374.5h3M712 373.9h3M697.1 329.3h3M673.4 351.1h3M715.7 320.7h3M698.1 380.8h3M724 349.2h3M705.8 334.8h3M726.9 331h3M677.7 395.4h3M733.5 281.6h3M792.9 356.3h3M775.3 356.1h3M756.4 304.8h3M708.3 310h3M691.2 373.5h3M719.3 345.7h3M728.6 379.5h3M726.3 346.5h3M738 371.3h3M668.7 318.7h3M753.5 423.5h3M743.4 403.4h3M758 423h3M761 355.1h3M751 429.7h3M711.6 366.7h3M715.5 346.2h3M711.4 372.8h3M722.9 357.5h3M710.4 307.8h3M760.5 351.3h3M767.6 352.1h3M771.2 321.9h3M724.4 358.5h3M745.9 386.2h3M738.8 366h3M785.3 367.5h3M701.2 371.8h3M710.2 338.7h3M709.2 414.4h3M726.9 367.9h3M716.4 407.8h3M667.5 404h3M719.1 319.1h3M720.9 355h3M672.5 332h3M686.7 348h3M694.4 380h3M670.8 375.5h3M761.6 409.7h3M726 409.3h3M754.1 390.4h3M748.8 354.7h3M709.3 389.4h3M750 401.5h3M736.2 416.5h3M689.8 387.3h3M754 349h3M712.9 330h3M744.8 408.2h3M660.7 317.9h3M725.2 304.6h3M687.8 337.6h3M710.2 333.8h3M726.2 360.2h3M666.1 380.5h3M689.4 375h3M666.1 366.9h3M712.3 340.3h3M718.1 376.9h3M679 303.9h3M731.4 279.4h3M689.3 357.7h3M781.3 304.7h3M730.1 328.6h3M714.8 368.4h3M752.7 380.6h3M691 329.9h3M723.2 363.1h3M735.2 366.3h3M705.2 337.6h3M723.5 333h3M752.5 418.2h3M698 352.2h3M685.7 407.4h3M770.2 369h3M738.7 340.2h3M753.6 399.6h3M757.3 386.6h3M687.3 310.7h3M660.3 410.5h3M723 378.3h3M717.8 375.5h3M654.3 360.8h3M716 388.2h3M705.5 303.8h3M811.2 361h3M705.4 352h3M796.2 349.7h3M704.4 349.3h3M721.3 407.9h3M693.5 400.9h3M740.7 372.3h3M743.2 389.2h3M724.9 364.4h3M723.1 367.6h3M698 408h3M736.1 420.4h3M741.3 401.1h3M737.2 378h3M755.5 355.2h3M775.5 359.6h3M724.2 365.9h3M682.9 306.3h3M744.6 358h3M732.3 351.1h3M723.2 284.7h3M688.4 384.4h3M703.5 323.4h3M757.8 358.9h3M688.8 353.3h3M709.7 367.9h3M697 376.4h3M701.9 291h3M768.1 383.1h3M739.7 332.1h3M712.5 387.5h3M726.9 363.7h3M753.7 418.4h3M710.1 374.3h3M745.9 406.9h3M723.6 272.6h3M700 406.9h3M686.7 393.5h3M749.3 386.5h3M680.1 433.6h3M738.2 411h3M674 419h3M749 311.1h3M681 309.1h3M740.4 268.8h3M677.2 342.6h3M687.7 389.3h3M676.6 356.6h3M771.9 329.6h3M700.2 400.9h3M732.2 382.4h3M724.2 388.6h3M788.2 326.9h3M730.9 336.3h3M693 356h3M703.3 325.7h3M712 380.6h3M679.6 345.8h3M654.4 353.6h3M724.7 341.5h3M689.9 366.2h3M757.3 368.5h3M723.2 353.2h3M757.1 369.9h3M704.8 355.7h3M705.1 393.7h3M729.1 347.3h3M661.6 403.6h3M679.7 336.6h3M723.3 332.6h3M687.6 355.4h3M727.2 369.3h3M720 378.5h3M689.4 381.5h3M737.1 393.9h3M673 337.9h3M717.7 431.3h3M752.7 325.3h3M723.2 363.1h3M774.5 308.3h3M698.4 359.6h3M717.9 326.5h3M714 311.1h3M759.3 339h3M733.6 369.8h3M765 343.1h3M725.9 408.2h3M727.1 376.4h3M707.1 433.9h3M731 395h3M761.3 390.3h3M704.5 370.2h3M708.4 353.9h3M679.8 387.6h3M704.1 350.6h3M711.2 384.5h3M670.4 343h3M732.3 370.8h3M689.2 386.8h3M772.5 340.2h3M721.1 330h3M758 341.6h3M740.5 388.5h3M749.5 398.9h3M700.8 364.9h3M730.4 311.2h3M687.4 409h3M689.3 366.9h3M741.7 340.7h3M689 375.4h3M735.1 329.6h3M707.4 324.5h3M708.7 399.8h3M691.9 344h3M700.3 363.8h3M758.3 379.3h3M690.7 332.5h3M720.1 355.7h3M750.8 404h3M776 316.5h3M659.2 387.9h3M689.9 371.5h3M786.7 356.6h3M756.7 379.6h3M720.1 389.4h3M746.9 329.9h3M792.3 358.5h3M687.4 424.8h3M726.1 348.8h3M705 394.3h3M720.6 343.4h3M714.2 340.8h3M734.1 343.7h3M655.5 382.7h3M774.8 367.9h3M724.9 361.8h3M684.5 348.2h3M720.9 358h3M697.5 385.7h3M757.2 366.1h3M708.9 330.6h3M720.8 387.5h3M705.1 367.4h3M712.4 347.6h3M691.6 380h3M699.6 370.1h3M717.7 318.7h3M706 356.3h3M741.4 365.5h3M756.9 325.4h3M727.7 341.9h3M658.9 366.6h3M693.3 335.8h3M674.6 310.4h3M725.3 341.3h3M690.3 385h3M696.7 355.6h3M728.9 335.1h3M673.5 372.9h3M697.5 367.3h3M677.8 385.9h3M735.5 390.7h3M740.4 340.8h3M699.6 364.8h3M705.2 323.3h3M722.2 352.6h3M756.3 342.8h3M720.4 377.8h3M768.2 327h3M647.8 340.7h3M687 391.3h3M703.4 348.7h3M763.3 402.3h3M677.9 402.8h3M686.6 342h3M741.2 324.5h3M731.8 395.2h3M736.8 404.3h3M751.6 363.6h3M681.5 348.3h3M701.6 423h3M762.4 366.9h3M761.1 408.9h3M771 404.6h3M754.9 354h3M745.3 408.1h3M687.3 419.9h3M754.1 316.7h3M674.7 431.5h3M659.5 373.9h3M676.3 418.3h3M648.1 437.4h3M693 395h3M711.2 316.9h3M724.3 405.6h3M763.8 361.1h3M725.2 336.4h3M681.1 343.8h3M778.9 337.1h3M649.8 390.5h3M667.7 382.2h3M693.4 319.4h3M748 327.5h3M666.3 423.7h3M693.1 430.1h3M668.6 365.1h3M752.6 351.7h3M720.8 341.6h3M774.2 319.4h3M763.1 334.7h3M659.2 321.3h3M734.8 344.6h3M750.8 335.7h3M702.3 353.3h3M719.3 415.5h3M764.2 403.6h3M653.3 371.1h3M710.7 431.9h3M732.1 334.3h3M734.5 409.3h3M734.8 361.4h3M709.2 396.9h3M729.5 399.4h3M660.9 318.5h3M646.8 407.5h3M740.1 358.2h3M766.4 376.9h3M683.6 428.9h3M722.6 411.7h3M749.4 334.8h3M649.7 439.3h3M782.3 318.9h3M772 352h3M704.2 370.5h3M739.9 382.5h3M737.2 368.1h3M750.3 336.8h3M760.9 384.6h3M716.2 358.6h3M683.2 320.5h3M712.8 358.5h3M720.6 353.5h3M719.5 338.7h3M713.5 406.6h3M655.2 392.7h3M674.5 420.1h3M766.2 340.3h3M677.9 432.2h3M739.3 358.6h3M749.6 355.8h3M699.7 399.3h3M648 347.5h3M743.8 332.9h3M654.8 349.3h3M690.2 354.1h3M684.8 335.9h3M779.8 354.2h3M728.5 402.9h3M697.6 332.3h3M768.1 414.5h3M771.8 333.1h3M706.6 372.8h3M766.6 369.7h3M679.6 345.5h3M682.5 377.2h3M705.6 427.2h3M657.3 355.2h3M658.8 364.9h3M710.9 325.5h3M668.3 320.5h3M656.3 336.1h3M694.6 335.1h3M777.6 361.9h3M669.2 328.6h3M760.6 333.1h3M727.8 366.7h3M652.2 386.7h3M738.3 390.3h3M774 405h3M698.7 360h3M699 433.3h3M666.4 406h3M752.3 317.5h3M700.8 367h3M719.3 417.5h3M671 431.3h3M696.8 398.4h3M770.3 414.5h3M733.3 332.1h3M656.4 332.6h3M755.9 331.6h3M710 332h3M650.8 412.3h3M707 424.8h3M725.4 376.6h3M767.2 319.5h3M687.1 413.7h3M748.7 389.4h3M717.7 415.9h3M764.2 392.7h3M752.4 325.3h3M752.5 317.8h3M751.5 321h3M686 345.3h3M710.7 399.2h3M753.9 418.8h3M741.8 332.8h3M759.1 338.5h3M647.2 339.7h3M713.5 428.2h3M719.3 367.6h3M751.1 355.5h3M722 357.6h3M667.4 340.1h3M720 410.9h3M690.3 349.4h3M774.4 382.5h3M740.4 413.3h3M654.1 361.6h3M686.3 380.4h3M690.2 330.9h3M745.8 352.3h3M773.5 321.7h3M670.9 355.2h3M732.5 375.2h3M647.1 411.9h3M691.7 397.6h3M704.9 347.3h3M730.8 405.8h3M737.1 381.7h3M661.7 402.1h3M773.1 408.4h3M712 386.2h3M767.2 359.3h3M655.8 377.3h3M651.4 410.8h3M670.8 431.8h3M736.3 358.4h3M685.4 355.5h3M703.2 425h3M755.2 372.2h3M739.4 325.5h3M689.8 370.9h3M683.7 392.3h3M667.1 424.5h3M651.4 435.9h3M716.5 401.5h3M659.8 368.3h3M741 346.1h3M706.7 437.2h3M724.8 316.6h3M712.1 360.2h3M661.4 425.7h3M740.3 429.2h3M773.4 331.8h3M680.9 332h3M782.1 318.4h3M686.9 357.3h3M768.5 315.6h3M733.8 314h3M765.4 316.4h3M701.7 322.7h3M724.4 314.7h3M750.3 325.5h3M751.6 325.8h3M782.1 322.5h3M738.9 325.4h3M743 324.8h3M733.8 315.3h3M746.7 320.7h3M741.5 316.9h3M756.3 321.6h3M699.9 317.3h3M715.3 329.2h3M721.8 325.6h3M711.9 325.2h3M759.2 324.9h3M702.3 323.1h3M763.8 322.7h3M754.2 322.2h3M774.7 329.7h3M736.4 329.7h3M763.9 319.4h3M750.7 329.4h3M726.6 322.7h3M755.3 297.2h3M750 281.5h3M743.9 294.9h3M758.8 295h3M768.5 268.3h3M764.1 293.3h3M759.7 275.6h3M744 300.4h3M751.9 277h3M749.9 297.6h3M760.7 287.3h3M740.8 273.5h3M778.5 276.3h3M772.9 298h3M750.2 298.3h3M769 305.3h3M732 303.1h3M773.8 279.8h3M756.4 289.2h3M753.8 295.4h3M764 287.8h3M774 309.1h3M759.4 300.1h3M746.7 306.3h3M775.3 282.4h3M741.2 289.5h3M743.1 287.8h3M735 283h3M735.4 301h3M750.7 267.5h3M781.3 292.5h3M767.4 285.7h3M767.9 291.9h3M778.7 293.3h3M778.1 302.2h3M751 297.9h3M766 303.6h3M766.3 282.3h3M761.2 278.8h3M746.5 275.6h3M754.7 294.7h3M776.6 298.2h3M762.9 277.7h3M759.8 293.1h3M731.3 299.4h3M774.9 304.7h3M769.7 277.6h3M741.7 279.6h3M765 304.1h3M778.9 267.9h3M764 296.5h3M747.4 264h3M747.9 291.1h3M766 310.4h3M768.2 293.1h3M758.7 290.5h3M776.3 316h3M771.3 296.4h3M770.4 277.6h3M742.4 299h3M770.1 300.9h3M777 303.6h3M760 258.7h3M727.7 270h3M747.3 309.5h3M761 312.3h3M779.7 258h3M770.3 260.1h3M760.6 289h3M757.8 285.1h3M766 282.6h3M772.3 275.3h3M762 302h3M761.3 298.8h3M748.9 282.2h3M751.9 299.7h3M789.5 290.3h3M739.2 310.3h3M782.2 279.4h3M756.3 292.7h3M744.8 310h3M780 278.5h3M785 290.2h3M768.5 287.5h3M770.2 295.9h3M761.8 299h3M772.7 284h3M740 294.8h3M757.7 278.6h3M762.5 314.2h3M778.1 324.2h3M728 281.5h3M779.1 294h3M727.4 292.4h3M743.1 265.4h3M765.7 294.2h3M754.1 295.3h3M764.1 284h3M768.2 295.5h3M743.8 287.3h3M745.4 270h3M738.5 284.8h3M775.8 293.7h3M766 286.3h3M744.1 277.7h3M733.1 301.5h3M752.5 299.3h3M748.2 281.9h3M749.9 299h3M770.7 293.4h3M755 282.4h3M756.8 295.3h3M746.8 271.6h3M733.6 313.1h3M759.7 270.8h3M729.2 263.1h3M754.5 289.2h3M756.6 302.7h3M752.5 285.4h3M758.1 296.3h3M761.2 288.8h3M751.5 291.6h3M753.2 279.2h3M760.6 279.8h3M776.7 289.6h3M763.7 304.4h3M769.4 264.7h3M761.1 291.9h3M767.3 291h3M778.4 332.7h3M754 283.9h3M749.2 306.5h3M755.9 273.6h3M758.9 313.6h3M739.6 287.8h3M756.1 297.8h3M737.5 285h3M753.8 305.9h3M774.7 298.4h3M744.2 287.6h3M766.6 301.5h3M741.1 315h3M743.4 311.3h3M752 289.4h3M731.1 304.5h3M762.7 284.9h3M757.8 305.3h3M759.9 275h3M744.8 307.6h3M771.3 290.9h3M784.6 274.6h3M771 302.9h3M753.2 270.8h3M738 310.8h3M733.8 320.9h3M763.5 281.5h3M780.5 288h3M788.2 287.8h3M768.7 314.1h3M733.3 290.9h3M755.5 315.6h3M753.3 275.5h3M758.1 309.7h3M738.3 284.1h3M759.3 306.4h3M746.4 291.3h3M758.2 301.4h3M764.5 295.5h3M776.2 281.5h3M746.4 305.4h3M776.7 302.9h3M762.9 281h3M735.1 269.3h3M786.2 289.7h3M744.8 269.3h3M765.8 292h3M766.2 270.7h3M781.6 298.1h3M780 302.1h3M768.3 271.4h3M764.4 284.8h3M743.1 286.5h3M785.4 303.1h3M739.8 284.2h3M743.9 308.4h3M757 301.8h3M759.9 259.4h3M760.6 289.5h3M734 281.2h3M757.4 323.9h3M743.1 298.1h3M746.7 299.6h3M766 303.2h3M762.1 299.3h3M756.9 261h3M758.8 295.1h3M749.7 286.2h3M777.3 288.2h3M768.5 271.6h3M779.9 276.1h3M772.5 296.7h3M773.9 317.9h3M763.7 279.4h3M745.9 274.2h3M767.4 278.1h3M770.1 295.2h3M758.9 279.3h3M764.5 281.9h3M775.3 297.7h3M764.1 287.9h3M746.7 283.4h3M769.5 283.5h3M762.1 276h3M750.1 270.5h3M762.2 301.8h3M779.7 312.4h3M771.4 297h3M759.3 274h3M755.4 291.2h3M759.3 279.8h3M733.2 259.7h3M757.1 278.1h3M746.3 210.5h3M729.8 297.5h3M757.1 308.9h3M761.9 293h3M766.4 285.6h3M724 257.1h3M746.1 247.8h3M750.1 208.9h3M832.2 278.5h3M754.3 219.5h3M726.9 295.3h3M781.5 262.7h3M781.1 256.5h3M784.8 263.1h3M781.6 247h3M772 263.7h3M753 277.4h3M754.5 249h3M730.6 271.3h3M743.9 213.1h3M752.4 292h3M742.5 266.9h3M740 241.6h3M833.1 251.3h3M754.9 233.2h3M723.1 282.5h3M760 261.3h3M721.2 219.8h3M751.8 286.7h3M734.4 306.4h3M737.5 300.4h3M816.2 274.3h3M777.6 247.9h3M731 242.3h3M778.1 269.7h3M728.9 260.7h3M753.2 305h3M765 276.5h3M762.5 302.2h3M743.5 248.7h3M758.5 273h3M751.4 264.6h3M782.4 258.2h3M740.7 238.6h3M781.2 267.3h3M745 201.1h3M774.4 244.9h3M771.5 273.3h3M754.8 280.5h3M759.6 249.1h3M757.7 246.8h3M811.6 268.6h3M745 204.8h3M744.4 243.1h3M752.8 280h3M776 249.5h3M746.6 200.8h3M705.6 300.2h3M776.7 280.1h3M762.7 251.5h3M735.6 291.2h3M745.4 262.3h3M730 235.8h3M787.1 217.4h3M738.1 278.8h3M724.9 284h3M766.8 260.7h3M736.3 241h3M736.6 260h3M787.8 216.1h3M721.7 299.9h3M808.3 289.2h3M782.7 306.9h3M855 287.4h3M836.6 310.9h3M760.5 303.2h3M798 297.1h3M825.4 304.8h3M842.8 312.8h3M842 289.3h3M825.6 291h3M845.4 300.2h3M788.9 300.9h3M813.4 315.4h3M856.8 284.2h3M836.8 286h3M806.9 295.7h3M846.5 291.1h3M832.5 308.1h3M811.7 281.9h3M810 313.4h3M823 302.1h3M827.7 296.2h3M801.5 292.9h3M831.8 293.9h3M833.5 301.5h3M856.9 287.8h3M820.3 305.6h3M838.7 286.2h3M809.4 298.2h3M795.8 287.9h3M843.8 308.9h3M840.7 297.8h3M843.7 305.2h3M807.3 309.6h3M821.1 296.7h3M853.8 278.9h3M791.6 290.3h3M840 298h3M792.8 283.2h3M820.5 292.1h3M857.8 290h3M826.1 303h3M802.4 292.6h3M865.8 304.9h3M808.2 289.3h3M831.5 306.6h3M770.5 301h3M846 305.3h3M850.8 292.1h3M826.7 304.5h3M823.5 296.2h3M839.3 310.7h3M822.9 298.2h3M810.1 285.2h3M830.3 306.5h3M853 313.5h3M854.1 311.7h3M835.1 298.6h3M870 301.5h3M831.6 298.2h3M805.2 300.8h3M851.4 302.7h3M804.7 306.8h3M799.2 285.9h3M844.9 296.4h3M841.9 296.4h3M810.5 296.5h3M817.6 300.3h3M818.9 290.7h3M845.3 290.6h3M806.3 273h3M806.2 281.6h3M827.7 277.5h3M826 279.3h3M805.8 286.2h3M847.9 280.5h3M836.5 250.9h3M851.9 264h3M818.5 280.1h3M871.3 275.7h3M841.9 276.6h3M891.6 243.2h3M892.9 262.8h3M810.4 306.7h3M816.5 284.5h3M787.1 274.6h3M893.2 252.6h3M876.4 282.1h3M830.6 264.8h3M837.8 280.8h3M894 247.5h3M869.7 278.2h3M858.9 275.3h3M821.8 274.6h3M807.9 275h3M800.8 289.7h3M904.2 241.7h3M838.6 261.2h3M810.6 280.8h3M858.9 273.5h3M859.1 257.3h3M808.8 292.4h3M875 253.2h3M847.8 266.5h3M851.2 274.8h3M792.5 289.8h3M882.6 258.6h3M884.5 234.9h3M804.3 281.3h3M839.1 259.1h3M795.7 292.7h3M796.2 283.5h3M796.5 277.1h3M790.8 296.9h3M803.1 299h3M875 271.3h3M848.4 269.7h3M790.6 295.6h3M818.6 282.2h3M830 285.6h3M843.3 293.8h3M865.2 260.2h3M869 264.1h3M827.3 280.1h3M905.4 232.3h3M800 296.6h3M796.1 285.8h3M880.5 264.1h3M814.4 295.3h3M881 264h3M827.9 290.1h3M880.2 264h3M815.7 272.5h3M824.4 282.8h3M854.9 277.3h3M784.6 291.2h3M794.7 293.8h3M895.9 263.5h3M867.6 274.5h3M843 256.4h3M864.9 254.5h3M806 287.7h3M803.4 270.9h3M842.6 267.4h3M889 264h3M869.5 246.9h3M887.8 269.8h3M832 275.5h3M792 302.5h3M784.2 294.6h3M812.1 275.6h3M816.8 293.3h3M827.7 277.2h3M906.1 237h3M811.7 284.7h3M889.5 260.5h3M800.8 295.3h3M800 267.1h3M832.2 283.2h3M812 280h3M836.1 282.9h3M798.8 288.9h3M803.8 291.3h3M901.5 245.6h3M842.3 265.6h3M802.7 290.4h3M801.8 297h3M810.4 288h3M836.4 273.1h3M813.9 279.7h3M797.5 287.1h3M781.2 285.9h3M810.3 280.4h3M821.1 286.5h3M836.1 271.5h3M817.7 281.9h3M804.2 287.8h3M794.4 298.9h3M896.5 265.8h3M846.3 263.9h3M859.2 263.8h3M801 298.7h3M804.9 310.3h3M845.9 256.6h3M859.2 259.4h3M784.6 280.2h3M799.9 289.2h3M808.7 293.8h3M789.6 290.1h3M791.9 284.5h3M858.3 259.1h3M784.9 285.3h3M804 263.1h3M813.5 294.8h3M807.9 269.2h3M801.9 314.6h3M805.3 297.3h3M891.2 259.6h3M807.8 298.9h3M829.6 279h3M793.7 305.8h3M873.6 243.1h3M855.5 275.8h3M818.5 285.8h3M846 266h3M805.8 293.2h3M830.2 275.9h3M835.6 273h3M845.6 281.7h3M886.2 264.7h3M803.9 317.7h3M867.6 255.1h3M854.3 285h3M798.3 301h3M802.5 296h3M821 280.9h3M787.2 300h3M813.8 308.9h3M822.8 283.6h3M861.6 260.2h3M892.9 244.3h3M810.8 296.5h3M837.4 275.2h3M787.7 283.6h3M873.5 254.9h3M844.1 259.8h3M895.7 263.4h3M906.6 235.2h3M885.7 229.9h3M867.6 263.2h3M761 210.6h3M841.4 251.3h3M800.3 261.5h3M755.8 215.4h3M828.8 253.8h3M817.8 268.2h3M873.1 247.4h3M867.5 249.9h3M868.8 273.6h3M857.4 281.7h3M836.9 284h3M866.9 254.7h3M812.7 243.9h3M797.1 263.4h3M815.6 242.1h3M827 296.2h3M830.6 247h3M759.1 251.1h3M814.7 240.2h3M812.3 282.7h3M855.5 260.8h3M783.2 278.4h3M825.8 270.2h3M815.4 237.5h3M812.7 245.1h3M782.5 293.2h3M833.8 279.1h3M807.2 301.2h3M792.9 391.2h3M825.5 373.8h3M800.5 355.2h3M792.8 395.6h3M779.1 310.9h3M815.3 364.4h3M789.8 343.7h3M814.3 354.8h3M811.3 343.3h3M798.2 335.2h3M784.4 334h3M803.1 271.6h3M796.9 352.6h3M802.6 327h3M808.4 378.9h3M799.6 357.4h3M764 346.9h3M804.1 303.3h3M790.3 371.5h3M805.2 373.5h3M833.3 297.7h3M807.7 351.2h3M787.2 370.2h3M800.9 319.6h3M807.4 371.2h3M808.4 354.1h3M811.3 354.1h3M799.3 356.8h3M817.7 388.7h3M830.1 371.5h3M785.6 376.4h3M807.5 345.2h3M782.9 379.1h3M806.9 358.3h3M806.1 377.9h3M798.6 341h3M791.8 397.9h3M782.2 391h3M789.1 339.6h3M783.7 299.5h3M790.4 328.6h3M808.3 338.4h3M810 342.6h3M806.7 313.8h3M819.8 364.9h3M795.6 336.8h3M819 345.2h3M817.3 347h3M791.8 407.2h3M769.5 362.3h3M775.3 379h3M786.8 347.5h3M815.1 388h3M777.1 355.7h3M810.8 372h3M813.7 311.2h3M815.6 388.7h3M805.5 365h3M811.2 267.9h3M792.8 356.9h3M786.1 347.5h3M778 408.5h3M801.3 369.4h3M797.6 364.2h3M801.2 331.4h3M815 361.6h3M763.8 350.9h3M800.3 309.3h3M760.6 350.2h3M793.5 368.4h3M789.5 296.7h3M785 330h3M816.6 348.8h3M840.1 314.3h3M786.6 323.4h3M804.4 365.7h3M825.2 372.3h3M794.2 343.8h3M779.8 356.9h3M803 360.9h3M823.2 375.2h3M805.2 320.4h3M812.1 333.3h3M797.4 357.5h3M809.4 282.3h3M796.4 346.4h3M732.6 239.8h3M734.4 245.5h3M738 243.2h3M756.4 266.6h3M756.7 213.6h3M743.9 234.6h3M786.3 221.4h3M726.6 262.2h3M774.1 247.1h3M754 234.2h3M746.8 212.2h3M732.7 190.8h3M776.2 229.8h3M791 219.9h3M824.7 246.8h3" stroke="#240808" stroke-width="3" fill="none"/>
<path d="M644.5 29.5H1053V442.5H644.5Z" fill="none" stroke="#000" stroke-width="4"/>
<path d="M784.3 30V442M645 312.4H1052" stroke="#000" stroke-width="3.2"/>
<path d="M640.5 411.6H643M640.5 393.5H643M640.5 380.6H643M640.5 370.6H643M640.5 362.5H643M640.5 355.6H643M640.5 349.7H643M640.5 344.4H643M640.5 309H643M640.5 291H643M640.5 278.3H643M640.5 268.4H643M640.5 260.3H643M640.5 253.5H643M640.5 247.6H643M640.5 242.4H643M640.5 206.4H643M640.5 188H643M640.5 175H643M640.5 164.9H643M640.5 156.7H643M640.5 149.7H643M640.5 143.7H643M640.5 138.4H643M640.5 102.3H643M640.5 83.9H643M640.5 70.9H643M640.5 60.8H643M640.5 52.6H643M640.5 45.6H643M640.5 39.6H643M640.5 34.3H643M638 442.5H643M638 339.7H643M638 237.7H643M638 133.6H643M638 29.5H643M675.2 444V445.8M693.2 444V445.8M706 444V445.8M715.9 444V445.8M723.9 444V445.8M730.8 444V445.8M736.7 444V445.8M741.9 444V445.8M777.3 444V445.8M795.3 444V445.8M808.1 444V445.8M818 444V445.8M826 444V445.8M832.9 444V445.8M838.8 444V445.8M844 444V445.8M879.4 444V445.8M897.4 444V445.8M910.2 444V445.8M920.1 444V445.8M928.1 444V445.8M935 444V445.8M940.9 444V445.8M946.1 444V445.8M981.6 444V445.8M999.6 444V445.8M1012.3 444V445.8M1022.2 444V445.8M1030.3 444V445.8M1037.2 444V445.8M1043.1 444V445.8M1048.3 444V445.8M644.5 444V447M746.6 444V447M848.7 444V447M950.8 444V447M1053 444V447" stroke="#000" stroke-width="2.2" fill="none"/>
<text x="835" y="13.8" font-size="16.2" text-anchor="middle" font-weight="normal" textLength="66" lengthAdjust="spacingAndGlyphs">Data 004</text>
<text class="tl2" x="651.2" y="474.5" font-size="15" textLength="16" lengthAdjust="spacingAndGlyphs">10</text>
<text x="667.4" y="468" font-size="9.5">0</text>
<text class="tl2" x="740.8" y="474.5" font-size="15" textLength="16" lengthAdjust="spacingAndGlyphs">10</text>
<text x="757" y="468" font-size="9.5">1</text>
<text class="tl2" x="828.4" y="474.5" font-size="15" textLength="16" lengthAdjust="spacingAndGlyphs">10</text>
<text x="844.6" y="468" font-size="9.5">2</text>
<text class="tl2" x="943.5" y="474.5" font-size="15" textLength="16" lengthAdjust="spacingAndGlyphs">10</text>
<text x="959.7" y="468" font-size="9.5">3</text>
<text class="tl2" x="1044.4" y="474.5" font-size="15" textLength="16" lengthAdjust="spacingAndGlyphs">10</text>
<text x="1060.6" y="468" font-size="9.5">4</text>
<g transform="translate(627.5 35) rotate(-90)"><text class="tl2" x="-9.5" y="0" font-size="15" textLength="13.5" lengthAdjust="spacingAndGlyphs">10</text><text x="4.3" y="-6" font-size="9">4</text></g>
<g transform="translate(627.5 135.8) rotate(-90)"><text class="tl2" x="-9.5" y="0" font-size="15" textLength="13.5" lengthAdjust="spacingAndGlyphs">10</text><text x="4.3" y="-6" font-size="9">3</text></g>
<g transform="translate(627.5 239.3) rotate(-90)"><text class="tl2" x="-9.5" y="0" font-size="15" textLength="13.5" lengthAdjust="spacingAndGlyphs">10</text><text x="4.3" y="-6" font-size="9">2</text></g>
<g transform="translate(627.5 337.9) rotate(-90)"><text class="tl2" x="-9.5" y="0" font-size="15" textLength="13.5" lengthAdjust="spacingAndGlyphs">10</text><text x="4.3" y="-6" font-size="9">1</text></g>
<g transform="translate(627.5 440.7) rotate(-90)"><text class="tl2" x="-9.5" y="0" font-size="15" textLength="13.5" lengthAdjust="spacingAndGlyphs">10</text><text x="4.3" y="-6" font-size="9">0</text></g>
<text x="849" y="498.8" font-size="14.5" text-anchor="middle" font-weight="normal" textLength="88" lengthAdjust="spacingAndGlyphs">CD45-PerCP</text>
<text x="847" y="523.5" font-size="14.5" text-anchor="middle" font-weight="normal" textLength="124" lengthAdjust="spacingAndGlyphs">Quadrant Statistics</text>
<text x="626" y="556.5" font-size="14.3" text-anchor="start" font-weight="normal" textLength="85" lengthAdjust="spacingAndGlyphs" class="sb">File Data 004</text>
<text x="626" y="597" font-size="14.3" text-anchor="start" font-weight="normal" textLength="179.6" lengthAdjust="spacingAndGlyphs" class="sb">Acquisition Date: 20-Jan-20</text>
<text x="626" y="637.6" font-size="14.3" text-anchor="start" font-weight="normal" textLength="136" lengthAdjust="spacingAndGlyphs" class="sb">Gated Events: 10000</text>
<text x="626" y="676.7" font-size="14.3" text-anchor="start" font-weight="normal" textLength="168.4" lengthAdjust="spacingAndGlyphs" class="sb">X Parameter: CD45 PerCP</text>
<text x="626" y="699" font-size="14.3" text-anchor="start" font-weight="normal" textLength="33" lengthAdjust="spacingAndGlyphs" class="sb">(Log)</text>
<text x="626" y="738.7" font-size="14.3" text-anchor="start" font-weight="normal" textLength="140.7" lengthAdjust="spacingAndGlyphs" class="sb">Quad Location: 23.18</text>
<text x="828.4" y="558.4" font-size="14.3" text-anchor="start" font-weight="normal" textLength="137.2" lengthAdjust="spacingAndGlyphs" class="sb">Sample ID: kont.dif.1</text>
<text x="828.4" y="599.4" font-size="14.3" text-anchor="start" font-weight="normal" textLength="57.8" lengthAdjust="spacingAndGlyphs" class="sb">Gate: G2</text>
<text x="828.4" y="638" font-size="14.3" text-anchor="start" font-weight="normal" textLength="130" lengthAdjust="spacingAndGlyphs" class="sb">Total Events: 24028</text>
<text x="828.4" y="677" font-size="14.3" text-anchor="start" font-weight="normal" textLength="238.3" lengthAdjust="spacingAndGlyphs" class="sb">Y Parameter: Am5-GATA4 FITC (Log)</text>
<path d="M755.5 680.8l1.5 -1.3l1.5 1.3l1.5 -1.3l1.5 1.3l1.5 -1.3l1.5 1.3l1.5 -1.3l1.5 1.3l1.5 -1.3l1.5 1.3l1.5 -1.3l1.5 1.3l1.5 -1.3l1.5 1.3l1.5 -1.3l1.5 1.3l1.5 -1.3l1.5 1.3l1.5 -1.3l1.5 1.3l1.5 -1.3l1.5 1.3l1.5 -1.3l1.5 1.3l1.5 -1.3l1.5 1.3" stroke="#d01818" stroke-width="1.3" fill="none"/>
<path d="M625 771.8H1061M625 793.4H1061M625 873.4H1061" stroke="#333" stroke-width="1.6"/>
<text x="639" y="788" font-size="14" text-anchor="start" font-weight="bold" textLength="36" lengthAdjust="spacingAndGlyphs">Quad</text>
<text x="747.9" y="788" font-size="14" text-anchor="start" font-weight="bold" textLength="43.8" lengthAdjust="spacingAndGlyphs">Events</text>
<text x="856.7" y="788" font-size="14" text-anchor="start" font-weight="bold" textLength="55.5" lengthAdjust="spacingAndGlyphs">% Gated</text>
<text x="965.6" y="788" font-size="14" text-anchor="start" font-weight="bold" textLength="49.5" lengthAdjust="spacingAndGlyphs">% Total</text>
<text x="639" y="810" font-size="14" text-anchor="start" font-weight="normal" class="sb2">UL</text>
<text x="747.9" y="810" font-size="14" text-anchor="start" font-weight="normal" class="sb2">1893</text>
<text x="856.7" y="810" font-size="14" text-anchor="start" font-weight="normal" class="sb2">18.93</text>
<text x="965.6" y="810" font-size="14" text-anchor="start" font-weight="normal" class="sb2">7.88</text>
<text x="639" y="829.4" font-size="14" text-anchor="start" font-weight="normal" class="sb2">UR</text>
<text x="747.9" y="829.4" font-size="14" text-anchor="start" font-weight="normal" class="sb2">964</text>
<text x="856.7" y="829.4" font-size="14" text-anchor="start" font-weight="normal" class="sb2">9.64</text>
<text x="965.6" y="829.4" font-size="14" text-anchor="start" font-weight="normal" class="sb2">4.01</text>
<text x="639" y="849" font-size="14" text-anchor="start" font-weight="normal" class="sb2">LL</text>
<text x="747.9" y="849" font-size="14" text-anchor="start" font-weight="normal" class="sb2">6334</text>
<text x="856.7" y="849" font-size="14" text-anchor="start" font-weight="normal" class="sb2">63.34</text>
<text x="965.6" y="849" font-size="14" text-anchor="start" font-weight="normal" class="sb2">26.36</text>
<text x="639" y="869.2" font-size="14" text-anchor="start" font-weight="normal" class="sb2">LR</text>
<text x="747.9" y="869.2" font-size="14" text-anchor="start" font-weight="normal" class="sb2">809</text>
<text x="856.7" y="869.2" font-size="14" text-anchor="start" font-weight="normal" class="sb2">8.09</text>
<text x="965.6" y="869.2" font-size="14" text-anchor="start" font-weight="normal" class="sb2">3.37</text>
</svg>
</body></html>
